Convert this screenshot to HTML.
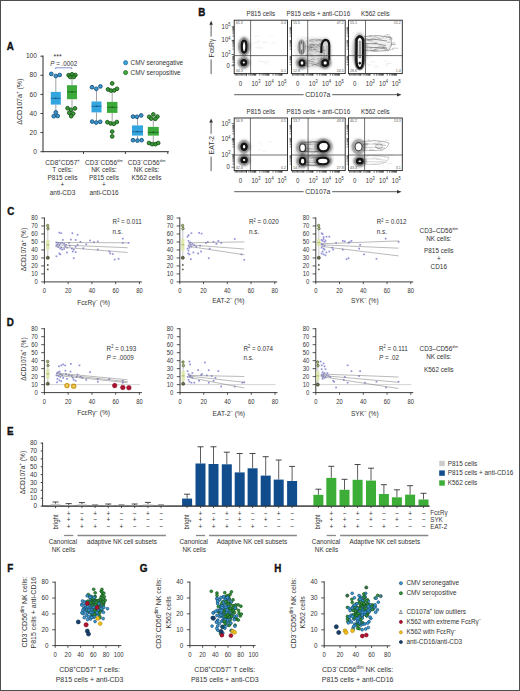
<!DOCTYPE html>
<html><head><meta charset="utf-8"><title>Figure</title>
<style>html,body{margin:0;padding:0;background:#fff;}svg{display:block;}
text{font-family:"Liberation Sans", sans-serif;}text[font-weight="bold"]{stroke:#111;stroke-width:0.35px;}</style></head>
<body><svg width="520" height="691" viewBox="0 0 520 691">
<defs><filter id="bl2" x="-50%" y="-50%" width="200%" height="200%"><feGaussianBlur stdDeviation="1.3"/></filter><filter id="bl1" x="-50%" y="-50%" width="200%" height="200%"><feGaussianBlur stdDeviation="0.6"/></filter></defs>
<rect x="0.50" y="0.50" width="519.00" height="690.00" fill="#ffffff" stroke="#4d4d4d" stroke-width="1" />
<text transform="translate(6.80 50.40) scale(1 1.12) translate(-6.80 -50.40)" x="6.80" y="50.40" font-size="9.8" font-weight="bold" fill="#111">A</text>
<line x1="43.00" y1="55.50" x2="43.00" y2="152.20" stroke="#2b2b2b" stroke-width="1.0" />
<line x1="40.40" y1="151.70" x2="43.00" y2="151.70" stroke="#2b2b2b" stroke-width="0.9" />
<text transform="translate(36.90 153.90) scale(1 1.12) translate(-36.90 -153.90)" x="36.90" y="153.90" font-size="6.6" text-anchor="end" fill="#333">0</text>
<line x1="40.40" y1="132.60" x2="43.00" y2="132.60" stroke="#2b2b2b" stroke-width="0.9" />
<text transform="translate(36.90 134.80) scale(1 1.12) translate(-36.90 -134.80)" x="36.90" y="134.80" font-size="6.6" text-anchor="end" fill="#333">20</text>
<line x1="40.40" y1="113.50" x2="43.00" y2="113.50" stroke="#2b2b2b" stroke-width="0.9" />
<text transform="translate(36.90 115.70) scale(1 1.12) translate(-36.90 -115.70)" x="36.90" y="115.70" font-size="6.6" text-anchor="end" fill="#333">40</text>
<line x1="40.40" y1="94.40" x2="43.00" y2="94.40" stroke="#2b2b2b" stroke-width="0.9" />
<text transform="translate(36.90 96.60) scale(1 1.12) translate(-36.90 -96.60)" x="36.90" y="96.60" font-size="6.6" text-anchor="end" fill="#333">60</text>
<line x1="40.40" y1="75.30" x2="43.00" y2="75.30" stroke="#2b2b2b" stroke-width="0.9" />
<text transform="translate(36.90 77.50) scale(1 1.12) translate(-36.90 -77.50)" x="36.90" y="77.50" font-size="6.6" text-anchor="end" fill="#333">80</text>
<line x1="40.40" y1="56.20" x2="43.00" y2="56.20" stroke="#2b2b2b" stroke-width="0.9" />
<text transform="translate(36.90 58.40) scale(1 1.12) translate(-36.90 -58.40)" x="36.90" y="58.40" font-size="6.6" text-anchor="end" fill="#333">100</text>
<line x1="43.00" y1="151.70" x2="168.80" y2="151.70" stroke="#2b2b2b" stroke-width="1.0" />
<line x1="83.50" y1="151.70" x2="83.50" y2="154.00" stroke="#2b2b2b" stroke-width="0.9" />
<line x1="125.40" y1="151.70" x2="125.40" y2="154.00" stroke="#2b2b2b" stroke-width="0.9" />
<line x1="167.80" y1="151.70" x2="167.80" y2="154.00" stroke="#2b2b2b" stroke-width="0.9" />
<line x1="55.80" y1="78.00" x2="55.80" y2="91.90" stroke="#8a8a8a" stroke-width="0.8" />
<line x1="55.80" y1="104.60" x2="55.80" y2="111.00" stroke="#8a8a8a" stroke-width="0.8" />
<rect x="50.80" y="91.90" width="10.00" height="12.70" fill="#34a6df" />
<line x1="50.80" y1="98.30" x2="60.80" y2="98.30" stroke="#17507e" stroke-width="0.7" />
<circle cx="55.80" cy="98.30" r="0.8" fill="#17507e" />
<circle cx="51.30" cy="73.90" r="1.85" fill="#3a98cc" stroke="#17507e" stroke-width="0.9" />
<circle cx="55.80" cy="76.00" r="1.85" fill="#3a98cc" stroke="#17507e" stroke-width="0.9" />
<circle cx="59.70" cy="75.00" r="1.85" fill="#3a98cc" stroke="#17507e" stroke-width="0.9" />
<circle cx="55.80" cy="112.40" r="1.85" fill="#3a98cc" stroke="#17507e" stroke-width="0.9" />
<circle cx="53.80" cy="116.20" r="1.85" fill="#3a98cc" stroke="#17507e" stroke-width="0.9" />
<circle cx="57.70" cy="116.00" r="1.85" fill="#3a98cc" stroke="#17507e" stroke-width="0.9" />
<line x1="72.00" y1="77.00" x2="72.00" y2="85.20" stroke="#8a8a8a" stroke-width="0.8" />
<line x1="72.00" y1="99.20" x2="72.00" y2="108.00" stroke="#8a8a8a" stroke-width="0.8" />
<rect x="67.00" y="85.20" width="10.00" height="14.00" fill="#3caa3a" />
<line x1="67.00" y1="91.90" x2="77.00" y2="91.90" stroke="#1a531a" stroke-width="0.7" />
<circle cx="72.00" cy="91.90" r="0.8" fill="#1a531a" />
<circle cx="68.60" cy="75.20" r="1.85" fill="#3a9c38" stroke="#1a531a" stroke-width="0.9" />
<circle cx="72.00" cy="74.30" r="1.85" fill="#3a9c38" stroke="#1a531a" stroke-width="0.9" />
<circle cx="75.40" cy="75.00" r="1.85" fill="#3a9c38" stroke="#1a531a" stroke-width="0.9" />
<circle cx="70.30" cy="77.00" r="1.85" fill="#3a9c38" stroke="#1a531a" stroke-width="0.9" />
<circle cx="73.80" cy="77.00" r="1.85" fill="#3a9c38" stroke="#1a531a" stroke-width="0.9" />
<circle cx="67.60" cy="108.20" r="1.85" fill="#3a9c38" stroke="#1a531a" stroke-width="0.9" />
<circle cx="71.00" cy="109.80" r="1.85" fill="#3a9c38" stroke="#1a531a" stroke-width="0.9" />
<circle cx="75.00" cy="108.40" r="1.85" fill="#3a9c38" stroke="#1a531a" stroke-width="0.9" />
<circle cx="69.20" cy="112.80" r="1.85" fill="#3a9c38" stroke="#1a531a" stroke-width="0.9" />
<circle cx="73.20" cy="113.60" r="1.85" fill="#3a9c38" stroke="#1a531a" stroke-width="0.9" />
<circle cx="71.20" cy="116.20" r="1.85" fill="#3a9c38" stroke="#1a531a" stroke-width="0.9" />
<line x1="96.50" y1="88.60" x2="96.50" y2="101.50" stroke="#8a8a8a" stroke-width="0.8" />
<line x1="96.50" y1="112.40" x2="96.50" y2="121.00" stroke="#8a8a8a" stroke-width="0.8" />
<rect x="91.50" y="101.50" width="10.00" height="10.90" fill="#34a6df" />
<line x1="91.50" y1="106.30" x2="101.50" y2="106.30" stroke="#17507e" stroke-width="0.7" />
<circle cx="96.50" cy="106.30" r="0.8" fill="#17507e" />
<circle cx="92.00" cy="87.20" r="1.85" fill="#3a98cc" stroke="#17507e" stroke-width="0.9" />
<circle cx="96.30" cy="88.80" r="1.85" fill="#3a98cc" stroke="#17507e" stroke-width="0.9" />
<circle cx="100.40" cy="86.40" r="1.85" fill="#3a98cc" stroke="#17507e" stroke-width="0.9" />
<circle cx="92.20" cy="121.60" r="1.85" fill="#3a98cc" stroke="#17507e" stroke-width="0.9" />
<circle cx="96.20" cy="122.60" r="1.85" fill="#3a98cc" stroke="#17507e" stroke-width="0.9" />
<circle cx="100.20" cy="121.80" r="1.85" fill="#3a98cc" stroke="#17507e" stroke-width="0.9" />
<line x1="112.20" y1="89.40" x2="112.20" y2="101.90" stroke="#8a8a8a" stroke-width="0.8" />
<line x1="112.20" y1="112.90" x2="112.20" y2="121.80" stroke="#8a8a8a" stroke-width="0.8" />
<rect x="106.95" y="101.90" width="10.50" height="11.00" fill="#3caa3a" />
<line x1="106.95" y1="107.30" x2="117.45" y2="107.30" stroke="#1a531a" stroke-width="0.7" />
<circle cx="112.20" cy="107.30" r="0.8" fill="#1a531a" />
<circle cx="112.20" cy="83.40" r="1.85" fill="#3a9c38" stroke="#1a531a" stroke-width="0.9" />
<circle cx="108.00" cy="89.40" r="1.85" fill="#3a9c38" stroke="#1a531a" stroke-width="0.9" />
<circle cx="111.00" cy="90.60" r="1.85" fill="#3a9c38" stroke="#1a531a" stroke-width="0.9" />
<circle cx="114.20" cy="90.40" r="1.85" fill="#3a9c38" stroke="#1a531a" stroke-width="0.9" />
<circle cx="117.00" cy="88.80" r="1.85" fill="#3a9c38" stroke="#1a531a" stroke-width="0.9" />
<circle cx="107.40" cy="122.20" r="1.85" fill="#3a9c38" stroke="#1a531a" stroke-width="0.9" />
<circle cx="110.60" cy="123.40" r="1.85" fill="#3a9c38" stroke="#1a531a" stroke-width="0.9" />
<circle cx="113.80" cy="123.80" r="1.85" fill="#3a9c38" stroke="#1a531a" stroke-width="0.9" />
<circle cx="116.80" cy="122.00" r="1.85" fill="#3a9c38" stroke="#1a531a" stroke-width="0.9" />
<circle cx="112.20" cy="131.60" r="1.85" fill="#3a9c38" stroke="#1a531a" stroke-width="0.9" />
<circle cx="112.20" cy="136.40" r="1.85" fill="#3a9c38" stroke="#1a531a" stroke-width="0.9" />
<line x1="137.50" y1="117.20" x2="137.50" y2="125.40" stroke="#8a8a8a" stroke-width="0.8" />
<line x1="137.50" y1="135.60" x2="137.50" y2="140.00" stroke="#8a8a8a" stroke-width="0.8" />
<rect x="132.00" y="125.40" width="11.00" height="10.20" fill="#34a6df" />
<line x1="132.00" y1="131.70" x2="143.00" y2="131.70" stroke="#17507e" stroke-width="0.7" />
<circle cx="137.50" cy="131.70" r="0.8" fill="#17507e" />
<circle cx="133.00" cy="116.60" r="1.85" fill="#3a98cc" stroke="#17507e" stroke-width="0.9" />
<circle cx="137.00" cy="116.80" r="1.85" fill="#3a98cc" stroke="#17507e" stroke-width="0.9" />
<circle cx="141.20" cy="115.40" r="1.85" fill="#3a98cc" stroke="#17507e" stroke-width="0.9" />
<circle cx="133.00" cy="140.20" r="1.85" fill="#3a98cc" stroke="#17507e" stroke-width="0.9" />
<circle cx="137.40" cy="140.60" r="1.85" fill="#3a98cc" stroke="#17507e" stroke-width="0.9" />
<circle cx="141.60" cy="140.20" r="1.85" fill="#3a98cc" stroke="#17507e" stroke-width="0.9" />
<line x1="153.30" y1="118.00" x2="153.30" y2="126.90" stroke="#8a8a8a" stroke-width="0.8" />
<line x1="153.30" y1="135.60" x2="153.30" y2="143.00" stroke="#8a8a8a" stroke-width="0.8" />
<rect x="147.80" y="126.90" width="11.00" height="8.70" fill="#3caa3a" />
<line x1="147.80" y1="132.30" x2="158.80" y2="132.30" stroke="#1a531a" stroke-width="0.7" />
<circle cx="153.30" cy="132.30" r="0.8" fill="#1a531a" />
<circle cx="153.30" cy="114.40" r="1.85" fill="#3a9c38" stroke="#1a531a" stroke-width="0.9" />
<circle cx="149.20" cy="116.80" r="1.85" fill="#3a9c38" stroke="#1a531a" stroke-width="0.9" />
<circle cx="157.40" cy="116.60" r="1.85" fill="#3a9c38" stroke="#1a531a" stroke-width="0.9" />
<circle cx="151.20" cy="118.60" r="1.85" fill="#3a9c38" stroke="#1a531a" stroke-width="0.9" />
<circle cx="155.40" cy="118.80" r="1.85" fill="#3a9c38" stroke="#1a531a" stroke-width="0.9" />
<circle cx="149.00" cy="143.00" r="1.85" fill="#3a9c38" stroke="#1a531a" stroke-width="0.9" />
<circle cx="152.20" cy="144.20" r="1.85" fill="#3a9c38" stroke="#1a531a" stroke-width="0.9" />
<circle cx="155.40" cy="144.20" r="1.85" fill="#3a9c38" stroke="#1a531a" stroke-width="0.9" />
<circle cx="158.20" cy="143.00" r="1.85" fill="#3a9c38" stroke="#1a531a" stroke-width="0.9" />
<text transform="translate(57.60 59.40) scale(1 1.12) translate(-57.60 -59.40)" x="57.60" y="59.40" font-size="7.0" text-anchor="middle" fill="#333">***</text>
<text transform="translate(63.80 66.00) scale(1 1.12) translate(-63.80 -66.00)" x="63.8" y="66.0" font-size="6.3" text-anchor="middle" fill="#333"><tspan font-style="italic">P</tspan> = .0002</text>
<path d="M55.6 69.0 V67.8 H71.8 V69.0" fill="none" stroke="#5563a8" stroke-width="0.7"/>
<circle cx="125.60" cy="62.70" r="2.1" fill="#34a6df" stroke="#17507e" stroke-width="0.6" />
<text transform="translate(130.60 65.00) scale(1 1.12) translate(-130.60 -65.00)" x="130.60" y="65.00" font-size="6.4" fill="#333">CMV seronegative</text>
<circle cx="125.60" cy="72.60" r="2.1" fill="#3caa3a" stroke="#1a531a" stroke-width="0.6" />
<text transform="translate(130.60 74.90) scale(1 1.12) translate(-130.60 -74.90)" x="130.60" y="74.90" font-size="6.4" fill="#333">CMV seropositive</text>
<text transform="translate(62.50 164.90) scale(1 1.12) translate(-62.50 -164.90)" x="62.5" y="164.90" font-size="6.5" text-anchor="middle" fill="#333">CD8<tspan font-size="4" dy="-2.3">+</tspan><tspan dy="2.3">CD57</tspan><tspan font-size="4" dy="-2.3">+</tspan></text>
<text transform="translate(62.50 172.40) scale(1 1.12) translate(-62.50 -172.40)" x="62.5" y="172.40" font-size="6.5" text-anchor="middle" fill="#333">T cells:</text>
<text transform="translate(62.50 179.90) scale(1 1.12) translate(-62.50 -179.90)" x="62.5" y="179.90" font-size="6.5" text-anchor="middle" fill="#333">P815 cells</text>
<text transform="translate(62.50 187.40) scale(1 1.12) translate(-62.50 -187.40)" x="62.5" y="187.40" font-size="6.5" text-anchor="middle" fill="#333">+</text>
<text transform="translate(62.50 194.90) scale(1 1.12) translate(-62.50 -194.90)" x="62.5" y="194.90" font-size="6.5" text-anchor="middle" fill="#333">anti-CD3</text>
<text transform="translate(104.00 164.90) scale(1 1.12) translate(-104.00 -164.90)" x="104.0" y="164.90" font-size="6.5" text-anchor="middle" fill="#333">CD3<tspan font-size="4" dy="-2.3">−</tspan><tspan dy="2.3">CD56</tspan><tspan font-size="3.6" dy="-2.3">dim</tspan></text>
<text transform="translate(104.00 172.40) scale(1 1.12) translate(-104.00 -172.40)" x="104.0" y="172.40" font-size="6.5" text-anchor="middle" fill="#333">NK cells:</text>
<text transform="translate(104.00 179.90) scale(1 1.12) translate(-104.00 -179.90)" x="104.0" y="179.90" font-size="6.5" text-anchor="middle" fill="#333">P815 cells</text>
<text transform="translate(104.00 187.40) scale(1 1.12) translate(-104.00 -187.40)" x="104.0" y="187.40" font-size="6.5" text-anchor="middle" fill="#333">+</text>
<text transform="translate(104.00 194.90) scale(1 1.12) translate(-104.00 -194.90)" x="104.0" y="194.90" font-size="6.5" text-anchor="middle" fill="#333">anti-CD16</text>
<text transform="translate(146.60 164.90) scale(1 1.12) translate(-146.60 -164.90)" x="146.6" y="164.90" font-size="6.5" text-anchor="middle" fill="#333">CD3<tspan font-size="4" dy="-2.3">−</tspan><tspan dy="2.3">CD56</tspan><tspan font-size="3.6" dy="-2.3">dim</tspan></text>
<text transform="translate(146.60 172.40) scale(1 1.12) translate(-146.60 -172.40)" x="146.6" y="172.40" font-size="6.5" text-anchor="middle" fill="#333">NK cells:</text>
<text transform="translate(146.60 179.90) scale(1 1.12) translate(-146.60 -179.90)" x="146.6" y="179.90" font-size="6.5" text-anchor="middle" fill="#333">K562 cells</text>
<text x="21.8" y="101.6" font-size="7.1" text-anchor="middle" fill="#333" transform="rotate(-90 21.8 101.6) translate(21.80 101.60) scale(1 1.12) translate(-21.80 -101.60)">ΔCD107a<tspan font-size="4.4" dy="-2.4">+</tspan><tspan dy="2.4"> (%)</tspan></text>
<text transform="translate(198.20 15.60) scale(1 1.12) translate(-198.20 -15.60)" x="198.20" y="15.60" font-size="9.8" font-weight="bold" fill="#111">B</text>
<text transform="translate(260.85 15.80) scale(1 1.12) translate(-260.85 -15.80)" x="260.85" y="15.80" font-size="6.2" text-anchor="middle" fill="#333">P815 cells</text>
<line x1="235.20" y1="73.60" x2="235.20" y2="75.60" stroke="#111" stroke-width="0.6" />
<line x1="236.45" y1="73.60" x2="236.45" y2="75.60" stroke="#111" stroke-width="0.6" />
<line x1="237.70" y1="73.60" x2="237.70" y2="75.60" stroke="#111" stroke-width="0.6" />
<line x1="238.95" y1="73.60" x2="238.95" y2="75.60" stroke="#111" stroke-width="0.6" />
<line x1="240.20" y1="73.60" x2="240.20" y2="75.60" stroke="#111" stroke-width="0.6" />
<line x1="241.45" y1="73.60" x2="241.45" y2="75.60" stroke="#111" stroke-width="0.6" />
<line x1="242.70" y1="73.60" x2="242.70" y2="75.60" stroke="#111" stroke-width="0.6" />
<line x1="243.95" y1="73.60" x2="243.95" y2="75.60" stroke="#111" stroke-width="0.6" />
<line x1="245.20" y1="73.60" x2="245.20" y2="75.60" stroke="#111" stroke-width="0.6" />
<line x1="246.45" y1="73.60" x2="246.45" y2="75.60" stroke="#111" stroke-width="0.6" />
<line x1="246.57" y1="73.60" x2="246.57" y2="75.60" stroke="#111" stroke-width="0.6" />
<line x1="248.90" y1="73.60" x2="248.90" y2="75.60" stroke="#111" stroke-width="0.6" />
<line x1="250.55" y1="73.60" x2="250.55" y2="75.60" stroke="#111" stroke-width="0.6" />
<line x1="251.83" y1="73.60" x2="251.83" y2="75.60" stroke="#111" stroke-width="0.6" />
<line x1="252.87" y1="73.60" x2="252.87" y2="75.60" stroke="#111" stroke-width="0.6" />
<line x1="253.76" y1="73.60" x2="253.76" y2="75.60" stroke="#111" stroke-width="0.6" />
<line x1="254.52" y1="73.60" x2="254.52" y2="75.60" stroke="#111" stroke-width="0.6" />
<line x1="255.20" y1="73.60" x2="255.20" y2="75.60" stroke="#111" stroke-width="0.6" />
<line x1="259.77" y1="73.60" x2="259.77" y2="75.60" stroke="#111" stroke-width="0.6" />
<line x1="262.10" y1="73.60" x2="262.10" y2="75.60" stroke="#111" stroke-width="0.6" />
<line x1="263.75" y1="73.60" x2="263.75" y2="75.60" stroke="#111" stroke-width="0.6" />
<line x1="265.03" y1="73.60" x2="265.03" y2="75.60" stroke="#111" stroke-width="0.6" />
<line x1="266.07" y1="73.60" x2="266.07" y2="75.60" stroke="#111" stroke-width="0.6" />
<line x1="266.96" y1="73.60" x2="266.96" y2="75.60" stroke="#111" stroke-width="0.6" />
<line x1="267.72" y1="73.60" x2="267.72" y2="75.60" stroke="#111" stroke-width="0.6" />
<line x1="268.40" y1="73.60" x2="268.40" y2="75.60" stroke="#111" stroke-width="0.6" />
<line x1="272.97" y1="73.60" x2="272.97" y2="75.60" stroke="#111" stroke-width="0.6" />
<line x1="275.30" y1="73.60" x2="275.30" y2="75.60" stroke="#111" stroke-width="0.6" />
<line x1="276.95" y1="73.60" x2="276.95" y2="75.60" stroke="#111" stroke-width="0.6" />
<line x1="278.23" y1="73.60" x2="278.23" y2="75.60" stroke="#111" stroke-width="0.6" />
<line x1="279.27" y1="73.60" x2="279.27" y2="75.60" stroke="#111" stroke-width="0.6" />
<line x1="280.16" y1="73.60" x2="280.16" y2="75.60" stroke="#111" stroke-width="0.6" />
<line x1="280.92" y1="73.60" x2="280.92" y2="75.60" stroke="#111" stroke-width="0.6" />
<line x1="281.60" y1="73.60" x2="281.60" y2="75.60" stroke="#111" stroke-width="0.6" />
<line x1="255.80" y1="73.60" x2="255.80" y2="75.60" stroke="#111" stroke-width="0.6" />
<line x1="269.00" y1="73.60" x2="269.00" y2="75.60" stroke="#111" stroke-width="0.6" />
<line x1="282.00" y1="73.60" x2="282.00" y2="75.60" stroke="#111" stroke-width="0.6" />
<line x1="232.40" y1="36.09" x2="234.20" y2="36.09" stroke="#111" stroke-width="0.55" />
<line x1="232.40" y1="33.80" x2="234.20" y2="33.80" stroke="#111" stroke-width="0.55" />
<line x1="232.40" y1="32.17" x2="234.20" y2="32.17" stroke="#111" stroke-width="0.55" />
<line x1="232.40" y1="30.91" x2="234.20" y2="30.91" stroke="#111" stroke-width="0.55" />
<line x1="232.40" y1="29.88" x2="234.20" y2="29.88" stroke="#111" stroke-width="0.55" />
<line x1="232.40" y1="29.01" x2="234.20" y2="29.01" stroke="#111" stroke-width="0.55" />
<line x1="232.40" y1="28.26" x2="234.20" y2="28.26" stroke="#111" stroke-width="0.55" />
<line x1="232.40" y1="27.59" x2="234.20" y2="27.59" stroke="#111" stroke-width="0.55" />
<line x1="232.40" y1="49.09" x2="234.20" y2="49.09" stroke="#111" stroke-width="0.55" />
<line x1="232.40" y1="46.80" x2="234.20" y2="46.80" stroke="#111" stroke-width="0.55" />
<line x1="232.40" y1="45.17" x2="234.20" y2="45.17" stroke="#111" stroke-width="0.55" />
<line x1="232.40" y1="43.91" x2="234.20" y2="43.91" stroke="#111" stroke-width="0.55" />
<line x1="232.40" y1="42.88" x2="234.20" y2="42.88" stroke="#111" stroke-width="0.55" />
<line x1="232.40" y1="42.01" x2="234.20" y2="42.01" stroke="#111" stroke-width="0.55" />
<line x1="232.40" y1="41.26" x2="234.20" y2="41.26" stroke="#111" stroke-width="0.55" />
<line x1="232.40" y1="40.59" x2="234.20" y2="40.59" stroke="#111" stroke-width="0.55" />
<line x1="232.40" y1="64.69" x2="234.20" y2="64.69" stroke="#111" stroke-width="0.55" />
<line x1="232.40" y1="62.40" x2="234.20" y2="62.40" stroke="#111" stroke-width="0.55" />
<line x1="232.40" y1="60.77" x2="234.20" y2="60.77" stroke="#111" stroke-width="0.55" />
<line x1="232.40" y1="59.51" x2="234.20" y2="59.51" stroke="#111" stroke-width="0.55" />
<line x1="232.40" y1="58.48" x2="234.20" y2="58.48" stroke="#111" stroke-width="0.55" />
<line x1="232.40" y1="57.61" x2="234.20" y2="57.61" stroke="#111" stroke-width="0.55" />
<line x1="232.40" y1="56.86" x2="234.20" y2="56.86" stroke="#111" stroke-width="0.55" />
<line x1="232.40" y1="56.19" x2="234.20" y2="56.19" stroke="#111" stroke-width="0.55" />
<text transform="translate(240.50 85.60) scale(1 1.12) translate(-240.50 -85.60)" x="240.50" y="85.60" font-size="6.0" text-anchor="middle" fill="#333">0</text>
<text transform="translate(256.00 85.60) scale(1 1.12) translate(-256.00 -85.60)" x="256.00" y="85.60" font-size="6.0" text-anchor="middle" fill="#333">10<tspan font-size="4.0" dy="-2.6">3</tspan></text>
<text transform="translate(269.20 85.60) scale(1 1.12) translate(-269.20 -85.60)" x="269.20" y="85.60" font-size="6.0" text-anchor="middle" fill="#333">10<tspan font-size="4.0" dy="-2.6">4</tspan></text>
<text transform="translate(282.00 85.60) scale(1 1.12) translate(-282.00 -85.60)" x="282.00" y="85.60" font-size="6.0" text-anchor="middle" fill="#333">10<tspan font-size="4.0" dy="-2.6">5</tspan></text>
<text transform="translate(318.35 15.80) scale(1 1.12) translate(-318.35 -15.80)" x="318.35" y="15.80" font-size="6.2" text-anchor="middle" fill="#333">P815 cells + anti-CD16</text>
<line x1="292.50" y1="73.60" x2="292.50" y2="75.60" stroke="#111" stroke-width="0.6" />
<line x1="293.75" y1="73.60" x2="293.75" y2="75.60" stroke="#111" stroke-width="0.6" />
<line x1="295.00" y1="73.60" x2="295.00" y2="75.60" stroke="#111" stroke-width="0.6" />
<line x1="296.25" y1="73.60" x2="296.25" y2="75.60" stroke="#111" stroke-width="0.6" />
<line x1="297.50" y1="73.60" x2="297.50" y2="75.60" stroke="#111" stroke-width="0.6" />
<line x1="298.75" y1="73.60" x2="298.75" y2="75.60" stroke="#111" stroke-width="0.6" />
<line x1="300.00" y1="73.60" x2="300.00" y2="75.60" stroke="#111" stroke-width="0.6" />
<line x1="301.25" y1="73.60" x2="301.25" y2="75.60" stroke="#111" stroke-width="0.6" />
<line x1="302.50" y1="73.60" x2="302.50" y2="75.60" stroke="#111" stroke-width="0.6" />
<line x1="303.75" y1="73.60" x2="303.75" y2="75.60" stroke="#111" stroke-width="0.6" />
<line x1="303.87" y1="73.60" x2="303.87" y2="75.60" stroke="#111" stroke-width="0.6" />
<line x1="306.20" y1="73.60" x2="306.20" y2="75.60" stroke="#111" stroke-width="0.6" />
<line x1="307.85" y1="73.60" x2="307.85" y2="75.60" stroke="#111" stroke-width="0.6" />
<line x1="309.13" y1="73.60" x2="309.13" y2="75.60" stroke="#111" stroke-width="0.6" />
<line x1="310.17" y1="73.60" x2="310.17" y2="75.60" stroke="#111" stroke-width="0.6" />
<line x1="311.06" y1="73.60" x2="311.06" y2="75.60" stroke="#111" stroke-width="0.6" />
<line x1="311.82" y1="73.60" x2="311.82" y2="75.60" stroke="#111" stroke-width="0.6" />
<line x1="312.50" y1="73.60" x2="312.50" y2="75.60" stroke="#111" stroke-width="0.6" />
<line x1="317.07" y1="73.60" x2="317.07" y2="75.60" stroke="#111" stroke-width="0.6" />
<line x1="319.40" y1="73.60" x2="319.40" y2="75.60" stroke="#111" stroke-width="0.6" />
<line x1="321.05" y1="73.60" x2="321.05" y2="75.60" stroke="#111" stroke-width="0.6" />
<line x1="322.33" y1="73.60" x2="322.33" y2="75.60" stroke="#111" stroke-width="0.6" />
<line x1="323.37" y1="73.60" x2="323.37" y2="75.60" stroke="#111" stroke-width="0.6" />
<line x1="324.26" y1="73.60" x2="324.26" y2="75.60" stroke="#111" stroke-width="0.6" />
<line x1="325.02" y1="73.60" x2="325.02" y2="75.60" stroke="#111" stroke-width="0.6" />
<line x1="325.70" y1="73.60" x2="325.70" y2="75.60" stroke="#111" stroke-width="0.6" />
<line x1="330.27" y1="73.60" x2="330.27" y2="75.60" stroke="#111" stroke-width="0.6" />
<line x1="332.60" y1="73.60" x2="332.60" y2="75.60" stroke="#111" stroke-width="0.6" />
<line x1="334.25" y1="73.60" x2="334.25" y2="75.60" stroke="#111" stroke-width="0.6" />
<line x1="335.53" y1="73.60" x2="335.53" y2="75.60" stroke="#111" stroke-width="0.6" />
<line x1="336.57" y1="73.60" x2="336.57" y2="75.60" stroke="#111" stroke-width="0.6" />
<line x1="337.46" y1="73.60" x2="337.46" y2="75.60" stroke="#111" stroke-width="0.6" />
<line x1="338.22" y1="73.60" x2="338.22" y2="75.60" stroke="#111" stroke-width="0.6" />
<line x1="338.90" y1="73.60" x2="338.90" y2="75.60" stroke="#111" stroke-width="0.6" />
<line x1="313.10" y1="73.60" x2="313.10" y2="75.60" stroke="#111" stroke-width="0.6" />
<line x1="326.30" y1="73.60" x2="326.30" y2="75.60" stroke="#111" stroke-width="0.6" />
<line x1="339.30" y1="73.60" x2="339.30" y2="75.60" stroke="#111" stroke-width="0.6" />
<line x1="289.70" y1="36.09" x2="291.50" y2="36.09" stroke="#111" stroke-width="0.55" />
<line x1="289.70" y1="33.80" x2="291.50" y2="33.80" stroke="#111" stroke-width="0.55" />
<line x1="289.70" y1="32.17" x2="291.50" y2="32.17" stroke="#111" stroke-width="0.55" />
<line x1="289.70" y1="30.91" x2="291.50" y2="30.91" stroke="#111" stroke-width="0.55" />
<line x1="289.70" y1="29.88" x2="291.50" y2="29.88" stroke="#111" stroke-width="0.55" />
<line x1="289.70" y1="29.01" x2="291.50" y2="29.01" stroke="#111" stroke-width="0.55" />
<line x1="289.70" y1="28.26" x2="291.50" y2="28.26" stroke="#111" stroke-width="0.55" />
<line x1="289.70" y1="27.59" x2="291.50" y2="27.59" stroke="#111" stroke-width="0.55" />
<line x1="289.70" y1="49.09" x2="291.50" y2="49.09" stroke="#111" stroke-width="0.55" />
<line x1="289.70" y1="46.80" x2="291.50" y2="46.80" stroke="#111" stroke-width="0.55" />
<line x1="289.70" y1="45.17" x2="291.50" y2="45.17" stroke="#111" stroke-width="0.55" />
<line x1="289.70" y1="43.91" x2="291.50" y2="43.91" stroke="#111" stroke-width="0.55" />
<line x1="289.70" y1="42.88" x2="291.50" y2="42.88" stroke="#111" stroke-width="0.55" />
<line x1="289.70" y1="42.01" x2="291.50" y2="42.01" stroke="#111" stroke-width="0.55" />
<line x1="289.70" y1="41.26" x2="291.50" y2="41.26" stroke="#111" stroke-width="0.55" />
<line x1="289.70" y1="40.59" x2="291.50" y2="40.59" stroke="#111" stroke-width="0.55" />
<line x1="289.70" y1="64.69" x2="291.50" y2="64.69" stroke="#111" stroke-width="0.55" />
<line x1="289.70" y1="62.40" x2="291.50" y2="62.40" stroke="#111" stroke-width="0.55" />
<line x1="289.70" y1="60.77" x2="291.50" y2="60.77" stroke="#111" stroke-width="0.55" />
<line x1="289.70" y1="59.51" x2="291.50" y2="59.51" stroke="#111" stroke-width="0.55" />
<line x1="289.70" y1="58.48" x2="291.50" y2="58.48" stroke="#111" stroke-width="0.55" />
<line x1="289.70" y1="57.61" x2="291.50" y2="57.61" stroke="#111" stroke-width="0.55" />
<line x1="289.70" y1="56.86" x2="291.50" y2="56.86" stroke="#111" stroke-width="0.55" />
<line x1="289.70" y1="56.19" x2="291.50" y2="56.19" stroke="#111" stroke-width="0.55" />
<text transform="translate(297.80 85.60) scale(1 1.12) translate(-297.80 -85.60)" x="297.80" y="85.60" font-size="6.0" text-anchor="middle" fill="#333">0</text>
<text transform="translate(313.30 85.60) scale(1 1.12) translate(-313.30 -85.60)" x="313.30" y="85.60" font-size="6.0" text-anchor="middle" fill="#333">10<tspan font-size="4.0" dy="-2.6">3</tspan></text>
<text transform="translate(326.50 85.60) scale(1 1.12) translate(-326.50 -85.60)" x="326.50" y="85.60" font-size="6.0" text-anchor="middle" fill="#333">10<tspan font-size="4.0" dy="-2.6">4</tspan></text>
<text transform="translate(339.30 85.60) scale(1 1.12) translate(-339.30 -85.60)" x="339.30" y="85.60" font-size="6.0" text-anchor="middle" fill="#333">10<tspan font-size="4.0" dy="-2.6">5</tspan></text>
<text transform="translate(375.40 15.80) scale(1 1.12) translate(-375.40 -15.80)" x="375.40" y="15.80" font-size="6.2" text-anchor="middle" fill="#333">K562 cells</text>
<line x1="349.50" y1="73.60" x2="349.50" y2="75.60" stroke="#111" stroke-width="0.6" />
<line x1="350.75" y1="73.60" x2="350.75" y2="75.60" stroke="#111" stroke-width="0.6" />
<line x1="352.00" y1="73.60" x2="352.00" y2="75.60" stroke="#111" stroke-width="0.6" />
<line x1="353.25" y1="73.60" x2="353.25" y2="75.60" stroke="#111" stroke-width="0.6" />
<line x1="354.50" y1="73.60" x2="354.50" y2="75.60" stroke="#111" stroke-width="0.6" />
<line x1="355.75" y1="73.60" x2="355.75" y2="75.60" stroke="#111" stroke-width="0.6" />
<line x1="357.00" y1="73.60" x2="357.00" y2="75.60" stroke="#111" stroke-width="0.6" />
<line x1="358.25" y1="73.60" x2="358.25" y2="75.60" stroke="#111" stroke-width="0.6" />
<line x1="359.50" y1="73.60" x2="359.50" y2="75.60" stroke="#111" stroke-width="0.6" />
<line x1="360.75" y1="73.60" x2="360.75" y2="75.60" stroke="#111" stroke-width="0.6" />
<line x1="360.87" y1="73.60" x2="360.87" y2="75.60" stroke="#111" stroke-width="0.6" />
<line x1="363.20" y1="73.60" x2="363.20" y2="75.60" stroke="#111" stroke-width="0.6" />
<line x1="364.85" y1="73.60" x2="364.85" y2="75.60" stroke="#111" stroke-width="0.6" />
<line x1="366.13" y1="73.60" x2="366.13" y2="75.60" stroke="#111" stroke-width="0.6" />
<line x1="367.17" y1="73.60" x2="367.17" y2="75.60" stroke="#111" stroke-width="0.6" />
<line x1="368.06" y1="73.60" x2="368.06" y2="75.60" stroke="#111" stroke-width="0.6" />
<line x1="368.82" y1="73.60" x2="368.82" y2="75.60" stroke="#111" stroke-width="0.6" />
<line x1="369.50" y1="73.60" x2="369.50" y2="75.60" stroke="#111" stroke-width="0.6" />
<line x1="374.07" y1="73.60" x2="374.07" y2="75.60" stroke="#111" stroke-width="0.6" />
<line x1="376.40" y1="73.60" x2="376.40" y2="75.60" stroke="#111" stroke-width="0.6" />
<line x1="378.05" y1="73.60" x2="378.05" y2="75.60" stroke="#111" stroke-width="0.6" />
<line x1="379.33" y1="73.60" x2="379.33" y2="75.60" stroke="#111" stroke-width="0.6" />
<line x1="380.37" y1="73.60" x2="380.37" y2="75.60" stroke="#111" stroke-width="0.6" />
<line x1="381.26" y1="73.60" x2="381.26" y2="75.60" stroke="#111" stroke-width="0.6" />
<line x1="382.02" y1="73.60" x2="382.02" y2="75.60" stroke="#111" stroke-width="0.6" />
<line x1="382.70" y1="73.60" x2="382.70" y2="75.60" stroke="#111" stroke-width="0.6" />
<line x1="387.27" y1="73.60" x2="387.27" y2="75.60" stroke="#111" stroke-width="0.6" />
<line x1="389.60" y1="73.60" x2="389.60" y2="75.60" stroke="#111" stroke-width="0.6" />
<line x1="391.25" y1="73.60" x2="391.25" y2="75.60" stroke="#111" stroke-width="0.6" />
<line x1="392.53" y1="73.60" x2="392.53" y2="75.60" stroke="#111" stroke-width="0.6" />
<line x1="393.57" y1="73.60" x2="393.57" y2="75.60" stroke="#111" stroke-width="0.6" />
<line x1="394.46" y1="73.60" x2="394.46" y2="75.60" stroke="#111" stroke-width="0.6" />
<line x1="395.22" y1="73.60" x2="395.22" y2="75.60" stroke="#111" stroke-width="0.6" />
<line x1="395.90" y1="73.60" x2="395.90" y2="75.60" stroke="#111" stroke-width="0.6" />
<line x1="370.10" y1="73.60" x2="370.10" y2="75.60" stroke="#111" stroke-width="0.6" />
<line x1="383.30" y1="73.60" x2="383.30" y2="75.60" stroke="#111" stroke-width="0.6" />
<line x1="396.30" y1="73.60" x2="396.30" y2="75.60" stroke="#111" stroke-width="0.6" />
<line x1="346.70" y1="36.09" x2="348.50" y2="36.09" stroke="#111" stroke-width="0.55" />
<line x1="346.70" y1="33.80" x2="348.50" y2="33.80" stroke="#111" stroke-width="0.55" />
<line x1="346.70" y1="32.17" x2="348.50" y2="32.17" stroke="#111" stroke-width="0.55" />
<line x1="346.70" y1="30.91" x2="348.50" y2="30.91" stroke="#111" stroke-width="0.55" />
<line x1="346.70" y1="29.88" x2="348.50" y2="29.88" stroke="#111" stroke-width="0.55" />
<line x1="346.70" y1="29.01" x2="348.50" y2="29.01" stroke="#111" stroke-width="0.55" />
<line x1="346.70" y1="28.26" x2="348.50" y2="28.26" stroke="#111" stroke-width="0.55" />
<line x1="346.70" y1="27.59" x2="348.50" y2="27.59" stroke="#111" stroke-width="0.55" />
<line x1="346.70" y1="49.09" x2="348.50" y2="49.09" stroke="#111" stroke-width="0.55" />
<line x1="346.70" y1="46.80" x2="348.50" y2="46.80" stroke="#111" stroke-width="0.55" />
<line x1="346.70" y1="45.17" x2="348.50" y2="45.17" stroke="#111" stroke-width="0.55" />
<line x1="346.70" y1="43.91" x2="348.50" y2="43.91" stroke="#111" stroke-width="0.55" />
<line x1="346.70" y1="42.88" x2="348.50" y2="42.88" stroke="#111" stroke-width="0.55" />
<line x1="346.70" y1="42.01" x2="348.50" y2="42.01" stroke="#111" stroke-width="0.55" />
<line x1="346.70" y1="41.26" x2="348.50" y2="41.26" stroke="#111" stroke-width="0.55" />
<line x1="346.70" y1="40.59" x2="348.50" y2="40.59" stroke="#111" stroke-width="0.55" />
<line x1="346.70" y1="64.69" x2="348.50" y2="64.69" stroke="#111" stroke-width="0.55" />
<line x1="346.70" y1="62.40" x2="348.50" y2="62.40" stroke="#111" stroke-width="0.55" />
<line x1="346.70" y1="60.77" x2="348.50" y2="60.77" stroke="#111" stroke-width="0.55" />
<line x1="346.70" y1="59.51" x2="348.50" y2="59.51" stroke="#111" stroke-width="0.55" />
<line x1="346.70" y1="58.48" x2="348.50" y2="58.48" stroke="#111" stroke-width="0.55" />
<line x1="346.70" y1="57.61" x2="348.50" y2="57.61" stroke="#111" stroke-width="0.55" />
<line x1="346.70" y1="56.86" x2="348.50" y2="56.86" stroke="#111" stroke-width="0.55" />
<line x1="346.70" y1="56.19" x2="348.50" y2="56.19" stroke="#111" stroke-width="0.55" />
<text transform="translate(354.80 85.60) scale(1 1.12) translate(-354.80 -85.60)" x="354.80" y="85.60" font-size="6.0" text-anchor="middle" fill="#333">0</text>
<text transform="translate(370.30 85.60) scale(1 1.12) translate(-370.30 -85.60)" x="370.30" y="85.60" font-size="6.0" text-anchor="middle" fill="#333">10<tspan font-size="4.0" dy="-2.6">3</tspan></text>
<text transform="translate(383.50 85.60) scale(1 1.12) translate(-383.50 -85.60)" x="383.50" y="85.60" font-size="6.0" text-anchor="middle" fill="#333">10<tspan font-size="4.0" dy="-2.6">4</tspan></text>
<text transform="translate(396.30 85.60) scale(1 1.12) translate(-396.30 -85.60)" x="396.30" y="85.60" font-size="6.0" text-anchor="middle" fill="#333">10<tspan font-size="4.0" dy="-2.6">5</tspan></text>
<text transform="translate(226.00 28.80) scale(1 1.12) translate(-226.00 -28.80)" x="226.00" y="28.80" font-size="6.0" text-anchor="middle" fill="#333">10<tspan font-size="4.0" dy="-2.6">5</tspan></text>
<line x1="231.60" y1="26.70" x2="234.20" y2="26.70" stroke="#333" stroke-width="0.7" />
<text transform="translate(226.00 42.50) scale(1 1.12) translate(-226.00 -42.50)" x="226.00" y="42.50" font-size="6.0" text-anchor="middle" fill="#333">10<tspan font-size="4.0" dy="-2.6">4</tspan></text>
<line x1="231.60" y1="40.40" x2="234.20" y2="40.40" stroke="#333" stroke-width="0.7" />
<text transform="translate(226.00 56.60) scale(1 1.12) translate(-226.00 -56.60)" x="226.00" y="56.60" font-size="6.0" text-anchor="middle" fill="#333">10<tspan font-size="4.0" dy="-2.6">3</tspan></text>
<line x1="231.60" y1="54.50" x2="234.20" y2="54.50" stroke="#333" stroke-width="0.7" />
<text transform="translate(228.20 67.80) scale(1 1.12) translate(-228.20 -67.80)" x="228.20" y="67.80" font-size="6.0" text-anchor="middle" fill="#333">0</text>
<line x1="231.60" y1="65.70" x2="234.20" y2="65.70" stroke="#333" stroke-width="0.7" />
<text x="213.70" y="48.00" font-size="6.8" text-anchor="middle" fill="#333" transform="rotate(-90 213.70 48.00) translate(213.70 48.00) scale(1 1.12) translate(-213.70 -48.00)">FcεRγ</text>
<line x1="211.10" y1="59.40" x2="211.10" y2="74.10" stroke="#333" stroke-width="0.8" />
<line x1="211.10" y1="36.60" x2="211.10" y2="24.20" stroke="#333" stroke-width="0.8" />
<path d="M209.30 24.70 L211.10 20.70 L212.90 24.70 Z" fill="#333"/>
<line x1="234.20" y1="94.70" x2="303.60" y2="94.70" stroke="#333" stroke-width="0.8" />
<line x1="332.20" y1="94.70" x2="398.00" y2="94.70" stroke="#333" stroke-width="0.8" />
<path d="M397.0 92.90 L401.6 94.70 L397.0 96.50 Z" fill="#333"/>
<text transform="translate(317.80 97.10) scale(1 1.12) translate(-317.80 -97.10)" x="317.80" y="97.10" font-size="6.9" text-anchor="middle" fill="#333">CD107a</text>
<text transform="translate(260.85 113.60) scale(1 1.12) translate(-260.85 -113.60)" x="260.85" y="113.60" font-size="6.2" text-anchor="middle" fill="#333">P815 cells</text>
<line x1="235.20" y1="170.60" x2="235.20" y2="172.60" stroke="#111" stroke-width="0.6" />
<line x1="236.45" y1="170.60" x2="236.45" y2="172.60" stroke="#111" stroke-width="0.6" />
<line x1="237.70" y1="170.60" x2="237.70" y2="172.60" stroke="#111" stroke-width="0.6" />
<line x1="238.95" y1="170.60" x2="238.95" y2="172.60" stroke="#111" stroke-width="0.6" />
<line x1="240.20" y1="170.60" x2="240.20" y2="172.60" stroke="#111" stroke-width="0.6" />
<line x1="241.45" y1="170.60" x2="241.45" y2="172.60" stroke="#111" stroke-width="0.6" />
<line x1="242.70" y1="170.60" x2="242.70" y2="172.60" stroke="#111" stroke-width="0.6" />
<line x1="243.95" y1="170.60" x2="243.95" y2="172.60" stroke="#111" stroke-width="0.6" />
<line x1="245.20" y1="170.60" x2="245.20" y2="172.60" stroke="#111" stroke-width="0.6" />
<line x1="246.45" y1="170.60" x2="246.45" y2="172.60" stroke="#111" stroke-width="0.6" />
<line x1="246.57" y1="170.60" x2="246.57" y2="172.60" stroke="#111" stroke-width="0.6" />
<line x1="248.90" y1="170.60" x2="248.90" y2="172.60" stroke="#111" stroke-width="0.6" />
<line x1="250.55" y1="170.60" x2="250.55" y2="172.60" stroke="#111" stroke-width="0.6" />
<line x1="251.83" y1="170.60" x2="251.83" y2="172.60" stroke="#111" stroke-width="0.6" />
<line x1="252.87" y1="170.60" x2="252.87" y2="172.60" stroke="#111" stroke-width="0.6" />
<line x1="253.76" y1="170.60" x2="253.76" y2="172.60" stroke="#111" stroke-width="0.6" />
<line x1="254.52" y1="170.60" x2="254.52" y2="172.60" stroke="#111" stroke-width="0.6" />
<line x1="255.20" y1="170.60" x2="255.20" y2="172.60" stroke="#111" stroke-width="0.6" />
<line x1="259.77" y1="170.60" x2="259.77" y2="172.60" stroke="#111" stroke-width="0.6" />
<line x1="262.10" y1="170.60" x2="262.10" y2="172.60" stroke="#111" stroke-width="0.6" />
<line x1="263.75" y1="170.60" x2="263.75" y2="172.60" stroke="#111" stroke-width="0.6" />
<line x1="265.03" y1="170.60" x2="265.03" y2="172.60" stroke="#111" stroke-width="0.6" />
<line x1="266.07" y1="170.60" x2="266.07" y2="172.60" stroke="#111" stroke-width="0.6" />
<line x1="266.96" y1="170.60" x2="266.96" y2="172.60" stroke="#111" stroke-width="0.6" />
<line x1="267.72" y1="170.60" x2="267.72" y2="172.60" stroke="#111" stroke-width="0.6" />
<line x1="268.40" y1="170.60" x2="268.40" y2="172.60" stroke="#111" stroke-width="0.6" />
<line x1="272.97" y1="170.60" x2="272.97" y2="172.60" stroke="#111" stroke-width="0.6" />
<line x1="275.30" y1="170.60" x2="275.30" y2="172.60" stroke="#111" stroke-width="0.6" />
<line x1="276.95" y1="170.60" x2="276.95" y2="172.60" stroke="#111" stroke-width="0.6" />
<line x1="278.23" y1="170.60" x2="278.23" y2="172.60" stroke="#111" stroke-width="0.6" />
<line x1="279.27" y1="170.60" x2="279.27" y2="172.60" stroke="#111" stroke-width="0.6" />
<line x1="280.16" y1="170.60" x2="280.16" y2="172.60" stroke="#111" stroke-width="0.6" />
<line x1="280.92" y1="170.60" x2="280.92" y2="172.60" stroke="#111" stroke-width="0.6" />
<line x1="281.60" y1="170.60" x2="281.60" y2="172.60" stroke="#111" stroke-width="0.6" />
<line x1="255.80" y1="170.60" x2="255.80" y2="172.60" stroke="#111" stroke-width="0.6" />
<line x1="269.00" y1="170.60" x2="269.00" y2="172.60" stroke="#111" stroke-width="0.6" />
<line x1="282.00" y1="170.60" x2="282.00" y2="172.60" stroke="#111" stroke-width="0.6" />
<line x1="232.40" y1="133.89" x2="234.20" y2="133.89" stroke="#111" stroke-width="0.55" />
<line x1="232.40" y1="131.60" x2="234.20" y2="131.60" stroke="#111" stroke-width="0.55" />
<line x1="232.40" y1="129.97" x2="234.20" y2="129.97" stroke="#111" stroke-width="0.55" />
<line x1="232.40" y1="128.71" x2="234.20" y2="128.71" stroke="#111" stroke-width="0.55" />
<line x1="232.40" y1="127.68" x2="234.20" y2="127.68" stroke="#111" stroke-width="0.55" />
<line x1="232.40" y1="126.81" x2="234.20" y2="126.81" stroke="#111" stroke-width="0.55" />
<line x1="232.40" y1="126.06" x2="234.20" y2="126.06" stroke="#111" stroke-width="0.55" />
<line x1="232.40" y1="125.39" x2="234.20" y2="125.39" stroke="#111" stroke-width="0.55" />
<line x1="232.40" y1="146.89" x2="234.20" y2="146.89" stroke="#111" stroke-width="0.55" />
<line x1="232.40" y1="144.60" x2="234.20" y2="144.60" stroke="#111" stroke-width="0.55" />
<line x1="232.40" y1="142.97" x2="234.20" y2="142.97" stroke="#111" stroke-width="0.55" />
<line x1="232.40" y1="141.71" x2="234.20" y2="141.71" stroke="#111" stroke-width="0.55" />
<line x1="232.40" y1="140.68" x2="234.20" y2="140.68" stroke="#111" stroke-width="0.55" />
<line x1="232.40" y1="139.81" x2="234.20" y2="139.81" stroke="#111" stroke-width="0.55" />
<line x1="232.40" y1="139.06" x2="234.20" y2="139.06" stroke="#111" stroke-width="0.55" />
<line x1="232.40" y1="138.39" x2="234.20" y2="138.39" stroke="#111" stroke-width="0.55" />
<line x1="232.40" y1="164.09" x2="234.20" y2="164.09" stroke="#111" stroke-width="0.55" />
<line x1="232.40" y1="161.80" x2="234.20" y2="161.80" stroke="#111" stroke-width="0.55" />
<line x1="232.40" y1="160.17" x2="234.20" y2="160.17" stroke="#111" stroke-width="0.55" />
<line x1="232.40" y1="158.91" x2="234.20" y2="158.91" stroke="#111" stroke-width="0.55" />
<line x1="232.40" y1="157.88" x2="234.20" y2="157.88" stroke="#111" stroke-width="0.55" />
<line x1="232.40" y1="157.01" x2="234.20" y2="157.01" stroke="#111" stroke-width="0.55" />
<line x1="232.40" y1="156.26" x2="234.20" y2="156.26" stroke="#111" stroke-width="0.55" />
<line x1="232.40" y1="155.59" x2="234.20" y2="155.59" stroke="#111" stroke-width="0.55" />
<text transform="translate(240.50 182.60) scale(1 1.12) translate(-240.50 -182.60)" x="240.50" y="182.60" font-size="6.0" text-anchor="middle" fill="#333">0</text>
<text transform="translate(256.00 182.60) scale(1 1.12) translate(-256.00 -182.60)" x="256.00" y="182.60" font-size="6.0" text-anchor="middle" fill="#333">10<tspan font-size="4.0" dy="-2.6">3</tspan></text>
<text transform="translate(269.20 182.60) scale(1 1.12) translate(-269.20 -182.60)" x="269.20" y="182.60" font-size="6.0" text-anchor="middle" fill="#333">10<tspan font-size="4.0" dy="-2.6">4</tspan></text>
<text transform="translate(282.00 182.60) scale(1 1.12) translate(-282.00 -182.60)" x="282.00" y="182.60" font-size="6.0" text-anchor="middle" fill="#333">10<tspan font-size="4.0" dy="-2.6">5</tspan></text>
<text transform="translate(318.35 113.60) scale(1 1.12) translate(-318.35 -113.60)" x="318.35" y="113.60" font-size="6.2" text-anchor="middle" fill="#333">P815 cells + anti-CD16</text>
<line x1="292.50" y1="170.60" x2="292.50" y2="172.60" stroke="#111" stroke-width="0.6" />
<line x1="293.75" y1="170.60" x2="293.75" y2="172.60" stroke="#111" stroke-width="0.6" />
<line x1="295.00" y1="170.60" x2="295.00" y2="172.60" stroke="#111" stroke-width="0.6" />
<line x1="296.25" y1="170.60" x2="296.25" y2="172.60" stroke="#111" stroke-width="0.6" />
<line x1="297.50" y1="170.60" x2="297.50" y2="172.60" stroke="#111" stroke-width="0.6" />
<line x1="298.75" y1="170.60" x2="298.75" y2="172.60" stroke="#111" stroke-width="0.6" />
<line x1="300.00" y1="170.60" x2="300.00" y2="172.60" stroke="#111" stroke-width="0.6" />
<line x1="301.25" y1="170.60" x2="301.25" y2="172.60" stroke="#111" stroke-width="0.6" />
<line x1="302.50" y1="170.60" x2="302.50" y2="172.60" stroke="#111" stroke-width="0.6" />
<line x1="303.75" y1="170.60" x2="303.75" y2="172.60" stroke="#111" stroke-width="0.6" />
<line x1="303.87" y1="170.60" x2="303.87" y2="172.60" stroke="#111" stroke-width="0.6" />
<line x1="306.20" y1="170.60" x2="306.20" y2="172.60" stroke="#111" stroke-width="0.6" />
<line x1="307.85" y1="170.60" x2="307.85" y2="172.60" stroke="#111" stroke-width="0.6" />
<line x1="309.13" y1="170.60" x2="309.13" y2="172.60" stroke="#111" stroke-width="0.6" />
<line x1="310.17" y1="170.60" x2="310.17" y2="172.60" stroke="#111" stroke-width="0.6" />
<line x1="311.06" y1="170.60" x2="311.06" y2="172.60" stroke="#111" stroke-width="0.6" />
<line x1="311.82" y1="170.60" x2="311.82" y2="172.60" stroke="#111" stroke-width="0.6" />
<line x1="312.50" y1="170.60" x2="312.50" y2="172.60" stroke="#111" stroke-width="0.6" />
<line x1="317.07" y1="170.60" x2="317.07" y2="172.60" stroke="#111" stroke-width="0.6" />
<line x1="319.40" y1="170.60" x2="319.40" y2="172.60" stroke="#111" stroke-width="0.6" />
<line x1="321.05" y1="170.60" x2="321.05" y2="172.60" stroke="#111" stroke-width="0.6" />
<line x1="322.33" y1="170.60" x2="322.33" y2="172.60" stroke="#111" stroke-width="0.6" />
<line x1="323.37" y1="170.60" x2="323.37" y2="172.60" stroke="#111" stroke-width="0.6" />
<line x1="324.26" y1="170.60" x2="324.26" y2="172.60" stroke="#111" stroke-width="0.6" />
<line x1="325.02" y1="170.60" x2="325.02" y2="172.60" stroke="#111" stroke-width="0.6" />
<line x1="325.70" y1="170.60" x2="325.70" y2="172.60" stroke="#111" stroke-width="0.6" />
<line x1="330.27" y1="170.60" x2="330.27" y2="172.60" stroke="#111" stroke-width="0.6" />
<line x1="332.60" y1="170.60" x2="332.60" y2="172.60" stroke="#111" stroke-width="0.6" />
<line x1="334.25" y1="170.60" x2="334.25" y2="172.60" stroke="#111" stroke-width="0.6" />
<line x1="335.53" y1="170.60" x2="335.53" y2="172.60" stroke="#111" stroke-width="0.6" />
<line x1="336.57" y1="170.60" x2="336.57" y2="172.60" stroke="#111" stroke-width="0.6" />
<line x1="337.46" y1="170.60" x2="337.46" y2="172.60" stroke="#111" stroke-width="0.6" />
<line x1="338.22" y1="170.60" x2="338.22" y2="172.60" stroke="#111" stroke-width="0.6" />
<line x1="338.90" y1="170.60" x2="338.90" y2="172.60" stroke="#111" stroke-width="0.6" />
<line x1="313.10" y1="170.60" x2="313.10" y2="172.60" stroke="#111" stroke-width="0.6" />
<line x1="326.30" y1="170.60" x2="326.30" y2="172.60" stroke="#111" stroke-width="0.6" />
<line x1="339.30" y1="170.60" x2="339.30" y2="172.60" stroke="#111" stroke-width="0.6" />
<line x1="289.70" y1="133.89" x2="291.50" y2="133.89" stroke="#111" stroke-width="0.55" />
<line x1="289.70" y1="131.60" x2="291.50" y2="131.60" stroke="#111" stroke-width="0.55" />
<line x1="289.70" y1="129.97" x2="291.50" y2="129.97" stroke="#111" stroke-width="0.55" />
<line x1="289.70" y1="128.71" x2="291.50" y2="128.71" stroke="#111" stroke-width="0.55" />
<line x1="289.70" y1="127.68" x2="291.50" y2="127.68" stroke="#111" stroke-width="0.55" />
<line x1="289.70" y1="126.81" x2="291.50" y2="126.81" stroke="#111" stroke-width="0.55" />
<line x1="289.70" y1="126.06" x2="291.50" y2="126.06" stroke="#111" stroke-width="0.55" />
<line x1="289.70" y1="125.39" x2="291.50" y2="125.39" stroke="#111" stroke-width="0.55" />
<line x1="289.70" y1="146.89" x2="291.50" y2="146.89" stroke="#111" stroke-width="0.55" />
<line x1="289.70" y1="144.60" x2="291.50" y2="144.60" stroke="#111" stroke-width="0.55" />
<line x1="289.70" y1="142.97" x2="291.50" y2="142.97" stroke="#111" stroke-width="0.55" />
<line x1="289.70" y1="141.71" x2="291.50" y2="141.71" stroke="#111" stroke-width="0.55" />
<line x1="289.70" y1="140.68" x2="291.50" y2="140.68" stroke="#111" stroke-width="0.55" />
<line x1="289.70" y1="139.81" x2="291.50" y2="139.81" stroke="#111" stroke-width="0.55" />
<line x1="289.70" y1="139.06" x2="291.50" y2="139.06" stroke="#111" stroke-width="0.55" />
<line x1="289.70" y1="138.39" x2="291.50" y2="138.39" stroke="#111" stroke-width="0.55" />
<line x1="289.70" y1="164.09" x2="291.50" y2="164.09" stroke="#111" stroke-width="0.55" />
<line x1="289.70" y1="161.80" x2="291.50" y2="161.80" stroke="#111" stroke-width="0.55" />
<line x1="289.70" y1="160.17" x2="291.50" y2="160.17" stroke="#111" stroke-width="0.55" />
<line x1="289.70" y1="158.91" x2="291.50" y2="158.91" stroke="#111" stroke-width="0.55" />
<line x1="289.70" y1="157.88" x2="291.50" y2="157.88" stroke="#111" stroke-width="0.55" />
<line x1="289.70" y1="157.01" x2="291.50" y2="157.01" stroke="#111" stroke-width="0.55" />
<line x1="289.70" y1="156.26" x2="291.50" y2="156.26" stroke="#111" stroke-width="0.55" />
<line x1="289.70" y1="155.59" x2="291.50" y2="155.59" stroke="#111" stroke-width="0.55" />
<text transform="translate(297.80 182.60) scale(1 1.12) translate(-297.80 -182.60)" x="297.80" y="182.60" font-size="6.0" text-anchor="middle" fill="#333">0</text>
<text transform="translate(313.30 182.60) scale(1 1.12) translate(-313.30 -182.60)" x="313.30" y="182.60" font-size="6.0" text-anchor="middle" fill="#333">10<tspan font-size="4.0" dy="-2.6">3</tspan></text>
<text transform="translate(326.50 182.60) scale(1 1.12) translate(-326.50 -182.60)" x="326.50" y="182.60" font-size="6.0" text-anchor="middle" fill="#333">10<tspan font-size="4.0" dy="-2.6">4</tspan></text>
<text transform="translate(339.30 182.60) scale(1 1.12) translate(-339.30 -182.60)" x="339.30" y="182.60" font-size="6.0" text-anchor="middle" fill="#333">10<tspan font-size="4.0" dy="-2.6">5</tspan></text>
<text transform="translate(375.40 113.60) scale(1 1.12) translate(-375.40 -113.60)" x="375.40" y="113.60" font-size="6.2" text-anchor="middle" fill="#333">K562 cells</text>
<line x1="349.50" y1="170.60" x2="349.50" y2="172.60" stroke="#111" stroke-width="0.6" />
<line x1="350.75" y1="170.60" x2="350.75" y2="172.60" stroke="#111" stroke-width="0.6" />
<line x1="352.00" y1="170.60" x2="352.00" y2="172.60" stroke="#111" stroke-width="0.6" />
<line x1="353.25" y1="170.60" x2="353.25" y2="172.60" stroke="#111" stroke-width="0.6" />
<line x1="354.50" y1="170.60" x2="354.50" y2="172.60" stroke="#111" stroke-width="0.6" />
<line x1="355.75" y1="170.60" x2="355.75" y2="172.60" stroke="#111" stroke-width="0.6" />
<line x1="357.00" y1="170.60" x2="357.00" y2="172.60" stroke="#111" stroke-width="0.6" />
<line x1="358.25" y1="170.60" x2="358.25" y2="172.60" stroke="#111" stroke-width="0.6" />
<line x1="359.50" y1="170.60" x2="359.50" y2="172.60" stroke="#111" stroke-width="0.6" />
<line x1="360.75" y1="170.60" x2="360.75" y2="172.60" stroke="#111" stroke-width="0.6" />
<line x1="360.87" y1="170.60" x2="360.87" y2="172.60" stroke="#111" stroke-width="0.6" />
<line x1="363.20" y1="170.60" x2="363.20" y2="172.60" stroke="#111" stroke-width="0.6" />
<line x1="364.85" y1="170.60" x2="364.85" y2="172.60" stroke="#111" stroke-width="0.6" />
<line x1="366.13" y1="170.60" x2="366.13" y2="172.60" stroke="#111" stroke-width="0.6" />
<line x1="367.17" y1="170.60" x2="367.17" y2="172.60" stroke="#111" stroke-width="0.6" />
<line x1="368.06" y1="170.60" x2="368.06" y2="172.60" stroke="#111" stroke-width="0.6" />
<line x1="368.82" y1="170.60" x2="368.82" y2="172.60" stroke="#111" stroke-width="0.6" />
<line x1="369.50" y1="170.60" x2="369.50" y2="172.60" stroke="#111" stroke-width="0.6" />
<line x1="374.07" y1="170.60" x2="374.07" y2="172.60" stroke="#111" stroke-width="0.6" />
<line x1="376.40" y1="170.60" x2="376.40" y2="172.60" stroke="#111" stroke-width="0.6" />
<line x1="378.05" y1="170.60" x2="378.05" y2="172.60" stroke="#111" stroke-width="0.6" />
<line x1="379.33" y1="170.60" x2="379.33" y2="172.60" stroke="#111" stroke-width="0.6" />
<line x1="380.37" y1="170.60" x2="380.37" y2="172.60" stroke="#111" stroke-width="0.6" />
<line x1="381.26" y1="170.60" x2="381.26" y2="172.60" stroke="#111" stroke-width="0.6" />
<line x1="382.02" y1="170.60" x2="382.02" y2="172.60" stroke="#111" stroke-width="0.6" />
<line x1="382.70" y1="170.60" x2="382.70" y2="172.60" stroke="#111" stroke-width="0.6" />
<line x1="387.27" y1="170.60" x2="387.27" y2="172.60" stroke="#111" stroke-width="0.6" />
<line x1="389.60" y1="170.60" x2="389.60" y2="172.60" stroke="#111" stroke-width="0.6" />
<line x1="391.25" y1="170.60" x2="391.25" y2="172.60" stroke="#111" stroke-width="0.6" />
<line x1="392.53" y1="170.60" x2="392.53" y2="172.60" stroke="#111" stroke-width="0.6" />
<line x1="393.57" y1="170.60" x2="393.57" y2="172.60" stroke="#111" stroke-width="0.6" />
<line x1="394.46" y1="170.60" x2="394.46" y2="172.60" stroke="#111" stroke-width="0.6" />
<line x1="395.22" y1="170.60" x2="395.22" y2="172.60" stroke="#111" stroke-width="0.6" />
<line x1="395.90" y1="170.60" x2="395.90" y2="172.60" stroke="#111" stroke-width="0.6" />
<line x1="370.10" y1="170.60" x2="370.10" y2="172.60" stroke="#111" stroke-width="0.6" />
<line x1="383.30" y1="170.60" x2="383.30" y2="172.60" stroke="#111" stroke-width="0.6" />
<line x1="396.30" y1="170.60" x2="396.30" y2="172.60" stroke="#111" stroke-width="0.6" />
<line x1="346.70" y1="133.89" x2="348.50" y2="133.89" stroke="#111" stroke-width="0.55" />
<line x1="346.70" y1="131.60" x2="348.50" y2="131.60" stroke="#111" stroke-width="0.55" />
<line x1="346.70" y1="129.97" x2="348.50" y2="129.97" stroke="#111" stroke-width="0.55" />
<line x1="346.70" y1="128.71" x2="348.50" y2="128.71" stroke="#111" stroke-width="0.55" />
<line x1="346.70" y1="127.68" x2="348.50" y2="127.68" stroke="#111" stroke-width="0.55" />
<line x1="346.70" y1="126.81" x2="348.50" y2="126.81" stroke="#111" stroke-width="0.55" />
<line x1="346.70" y1="126.06" x2="348.50" y2="126.06" stroke="#111" stroke-width="0.55" />
<line x1="346.70" y1="125.39" x2="348.50" y2="125.39" stroke="#111" stroke-width="0.55" />
<line x1="346.70" y1="146.89" x2="348.50" y2="146.89" stroke="#111" stroke-width="0.55" />
<line x1="346.70" y1="144.60" x2="348.50" y2="144.60" stroke="#111" stroke-width="0.55" />
<line x1="346.70" y1="142.97" x2="348.50" y2="142.97" stroke="#111" stroke-width="0.55" />
<line x1="346.70" y1="141.71" x2="348.50" y2="141.71" stroke="#111" stroke-width="0.55" />
<line x1="346.70" y1="140.68" x2="348.50" y2="140.68" stroke="#111" stroke-width="0.55" />
<line x1="346.70" y1="139.81" x2="348.50" y2="139.81" stroke="#111" stroke-width="0.55" />
<line x1="346.70" y1="139.06" x2="348.50" y2="139.06" stroke="#111" stroke-width="0.55" />
<line x1="346.70" y1="138.39" x2="348.50" y2="138.39" stroke="#111" stroke-width="0.55" />
<line x1="346.70" y1="164.09" x2="348.50" y2="164.09" stroke="#111" stroke-width="0.55" />
<line x1="346.70" y1="161.80" x2="348.50" y2="161.80" stroke="#111" stroke-width="0.55" />
<line x1="346.70" y1="160.17" x2="348.50" y2="160.17" stroke="#111" stroke-width="0.55" />
<line x1="346.70" y1="158.91" x2="348.50" y2="158.91" stroke="#111" stroke-width="0.55" />
<line x1="346.70" y1="157.88" x2="348.50" y2="157.88" stroke="#111" stroke-width="0.55" />
<line x1="346.70" y1="157.01" x2="348.50" y2="157.01" stroke="#111" stroke-width="0.55" />
<line x1="346.70" y1="156.26" x2="348.50" y2="156.26" stroke="#111" stroke-width="0.55" />
<line x1="346.70" y1="155.59" x2="348.50" y2="155.59" stroke="#111" stroke-width="0.55" />
<text transform="translate(354.80 182.60) scale(1 1.12) translate(-354.80 -182.60)" x="354.80" y="182.60" font-size="6.0" text-anchor="middle" fill="#333">0</text>
<text transform="translate(370.30 182.60) scale(1 1.12) translate(-370.30 -182.60)" x="370.30" y="182.60" font-size="6.0" text-anchor="middle" fill="#333">10<tspan font-size="4.0" dy="-2.6">3</tspan></text>
<text transform="translate(383.50 182.60) scale(1 1.12) translate(-383.50 -182.60)" x="383.50" y="182.60" font-size="6.0" text-anchor="middle" fill="#333">10<tspan font-size="4.0" dy="-2.6">4</tspan></text>
<text transform="translate(396.30 182.60) scale(1 1.12) translate(-396.30 -182.60)" x="396.30" y="182.60" font-size="6.0" text-anchor="middle" fill="#333">10<tspan font-size="4.0" dy="-2.6">5</tspan></text>
<text transform="translate(226.00 125.80) scale(1 1.12) translate(-226.00 -125.80)" x="226.00" y="125.80" font-size="6.0" text-anchor="middle" fill="#333">10<tspan font-size="4.0" dy="-2.6">5</tspan></text>
<line x1="231.60" y1="123.70" x2="234.20" y2="123.70" stroke="#333" stroke-width="0.7" />
<text transform="translate(226.00 141.50) scale(1 1.12) translate(-226.00 -141.50)" x="226.00" y="141.50" font-size="6.0" text-anchor="middle" fill="#333">10<tspan font-size="4.0" dy="-2.6">4</tspan></text>
<line x1="231.60" y1="139.40" x2="234.20" y2="139.40" stroke="#333" stroke-width="0.7" />
<text transform="translate(226.00 156.70) scale(1 1.12) translate(-226.00 -156.70)" x="226.00" y="156.70" font-size="6.0" text-anchor="middle" fill="#333">10<tspan font-size="4.0" dy="-2.6">3</tspan></text>
<line x1="231.60" y1="154.60" x2="234.20" y2="154.60" stroke="#333" stroke-width="0.7" />
<text transform="translate(228.20 169.30) scale(1 1.12) translate(-228.20 -169.30)" x="228.20" y="169.30" font-size="6.0" text-anchor="middle" fill="#333">0</text>
<line x1="231.60" y1="167.20" x2="234.20" y2="167.20" stroke="#333" stroke-width="0.7" />
<text x="213.70" y="145.20" font-size="6.8" text-anchor="middle" fill="#333" transform="rotate(-90 213.70 145.20) translate(213.70 145.20) scale(1 1.12) translate(-213.70 -145.20)">EAT-2</text>
<line x1="211.10" y1="156.60" x2="211.10" y2="171.10" stroke="#333" stroke-width="0.8" />
<line x1="211.10" y1="133.80" x2="211.10" y2="122.00" stroke="#333" stroke-width="0.8" />
<path d="M209.30 122.50 L211.10 118.50 L212.90 122.50 Z" fill="#333"/>
<line x1="234.20" y1="191.70" x2="303.60" y2="191.70" stroke="#333" stroke-width="0.8" />
<line x1="332.20" y1="191.70" x2="398.00" y2="191.70" stroke="#333" stroke-width="0.8" />
<path d="M397.0 189.90 L401.6 191.70 L397.0 193.50 Z" fill="#333"/>
<text transform="translate(317.80 194.10) scale(1 1.12) translate(-317.80 -194.10)" x="317.80" y="194.10" font-size="6.9" text-anchor="middle" fill="#333">CD107a</text>
<path d="M255.1 47.9 q2.5 -1.6 5.1 -0.6 M263.4 42.3 q2.3 -0.3 4.6 0.7 M254.2 36.4 q2.7 -1.2 5.3 -0.2 M269.5 36.0 q1.9 -0.5 3.8 0.5 M257.3 49.2 q2.8 -2.1 5.6 -1.1 M252.6 43.6 q2.9 -1.3 5.8 -0.3 M257.0 41.9 q1.1 -1.7 2.1 -0.7 M262.1 42.9 q1.5 -1.6 2.9 -0.6 M257.0 42.4 q1.6 -2.1 3.2 -1.1 M271.3 43.8 q2.3 -1.8 4.6 -0.8" fill="none" stroke="#666" stroke-width="0.4" stroke-opacity="0.22"/>
<path d="M265.4 65.5 q1.1 -2.0 2.2 -1.0 M263.7 63.6 q2.3 -1.5 4.7 -0.5 M260.5 62.5 q2.2 -1.8 4.3 -0.8 M258.0 60.5 q2.4 0.2 4.9 1.2 M265.3 61.9 q1.9 -1.6 3.8 -0.6" fill="none" stroke="#666" stroke-width="0.4" stroke-opacity="0.18"/>
<ellipse cx="244.1" cy="46.6" rx="6.7" ry="10.4" fill="#000" fill-opacity="0.200" filter="url(#bl2)"/>
<ellipse cx="244.1" cy="46.6" rx="5.7" ry="9.4" fill="none" stroke="#777" stroke-width="0.6" stroke-opacity="0.70"/>
<ellipse cx="244.1" cy="46.6" rx="4.6" ry="8.3" fill="#000" fill-opacity="0.22" stroke="#555" stroke-width="0.6" stroke-opacity="0.80"/>
<ellipse cx="244.1" cy="46.6" rx="2.35" ry="6.05" fill="#fff" stroke="#151515" stroke-width="2.30" stroke-opacity="1.00"/>
<ellipse cx="243.8" cy="62.6" rx="6.800000000000001" ry="6.800000000000001" fill="#000" fill-opacity="0.200" filter="url(#bl2)"/>
<ellipse cx="243.8" cy="62.6" rx="5.800000000000001" ry="5.800000000000001" fill="none" stroke="#777" stroke-width="0.6" stroke-opacity="0.70"/>
<ellipse cx="243.8" cy="62.6" rx="4.7" ry="4.7" fill="#000" fill-opacity="0.22" stroke="#555" stroke-width="0.6" stroke-opacity="0.80"/>
<ellipse cx="243.8" cy="62.6" rx="2.30" ry="2.30" fill="#fff" stroke="#151515" stroke-width="2.60" stroke-opacity="1.00"/>
<rect x="295" y="37" width="36" height="32" rx="7" fill="#000" fill-opacity="0.07" filter="url(#bl2)"/>
<rect x="305" y="40" width="17" height="27" fill="#000" fill-opacity="0.07" filter="url(#bl1)"/>
<path d="M308.3 54.2 q1.7 -0.8 3.5 0.2 M315.3 40.8 q1.0 -0.2 2.1 0.8 M308.7 45.6 q3.0 -1.1 6.0 -0.1 M319.1 52.3 q2.3 -1.8 4.6 -0.8 M315.4 63.3 q2.0 -0.4 4.1 0.6 M316.1 40.8 q2.5 -0.8 5.0 0.2 M309.4 39.9 q2.7 -1.1 5.5 -0.1 M316.9 63.6 q2.4 0.0 4.9 1.0 M311.1 61.4 q1.9 0.0 3.8 1.0 M319.8 41.7 q1.3 -1.7 2.5 -0.7 M321.4 51.2 q2.3 -1.5 4.5 -0.5 M313.1 49.8 q1.7 -0.8 3.4 0.2 M314.5 64.3 q2.4 0.0 4.7 1.0 M319.4 66.7 q2.3 -1.8 4.7 -0.8 M319.5 66.0 q2.8 -0.8 5.6 0.2 M316.8 44.9 q2.7 -0.8 5.3 0.2 M309.1 40.8 q2.7 0.2 5.4 1.2 M305.6 61.4 q1.8 -1.8 3.6 -0.8 M309.3 60.5 q2.7 -2.1 5.5 -1.1 M315.1 40.3 q2.4 -1.4 4.9 -0.4 M319.9 66.5 q2.0 0.2 4.0 1.2 M309.6 41.2 q2.2 -2.1 4.4 -1.1 M307.6 50.4 q2.2 -1.8 4.4 -0.8 M304.8 63.3 q1.6 0.1 3.3 1.1 M320.1 49.6 q1.9 -1.0 3.8 0.0 M315.6 55.7 q2.1 -0.7 4.2 0.3 M320.9 53.2 q1.9 -0.5 3.7 0.5 M308.3 47.4 q3.0 -0.9 5.9 0.1 M313.9 39.3 q1.8 -0.8 3.7 0.2 M304.4 56.2 q2.3 -2.1 4.5 -1.1 M315.3 52.1 q2.4 -1.4 4.7 -0.4 M316.7 59.7 q1.0 -2.1 2.1 -1.1 M316.2 66.0 q1.5 -1.1 3.0 -0.1 M314.7 48.0 q1.7 -1.4 3.5 -0.4 M310.6 55.7 q1.6 -1.3 3.2 -0.3 M317.9 39.8 q2.1 -0.4 4.3 0.6 M309.6 45.2 q2.6 -1.6 5.2 -0.6 M307.4 51.2 q2.4 -2.0 4.8 -1.0 M309.8 48.3 q2.7 -1.1 5.3 -0.1 M319.4 43.7 q1.7 -0.6 3.3 0.4 M319.9 51.6 q1.5 -1.9 2.9 -0.9 M313.5 44.3 q2.6 -0.2 5.2 0.8 M307.3 46.8 q2.6 -0.7 5.2 0.3 M318.5 48.7 q1.3 -1.5 2.5 -0.5 M318.3 46.6 q1.7 -1.2 3.4 -0.2 M311.6 50.5 q2.8 -1.8 5.7 -0.8 M304.1 65.4 q2.8 0.2 5.5 1.2 M311.8 65.6 q2.9 -1.7 5.7 -0.7 M317.4 62.4 q2.3 -1.0 4.7 0.0 M309.2 48.5 q1.5 -2.0 2.9 -1.0 M314.6 47.0 q2.6 -2.1 5.2 -1.1 M320.3 58.4 q2.8 -0.0 5.7 1.0 M320.2 55.2 q1.0 -0.4 2.1 0.6 M307.1 47.4 q2.3 -0.9 4.7 0.1 M311.4 65.3 q2.2 -1.4 4.4 -0.4 M308.5 63.1 q2.0 -0.3 3.9 0.7 M310.3 44.5 q2.1 -0.2 4.1 0.8 M307.1 61.2 q2.8 -0.3 5.7 0.7 M318.8 39.2 q2.3 -0.1 4.5 0.9 M304.9 46.6 q1.5 -0.9 3.1 0.1" fill="none" stroke="#555" stroke-width="0.5" stroke-opacity="0.6"/>
<path d="M309.3 44.4 q1.8 -1.8 3.6 -0.8 M306.9 51.2 q2.8 -0.3 5.7 0.7 M316.7 47.1 q2.1 -1.5 4.1 -0.5 M308.4 44.4 q1.4 0.0 2.9 1.0 M317.6 60.6 q2.6 -1.7 5.2 -0.7 M310.3 56.4 q2.5 -0.1 4.9 0.9 M318.3 44.0 q2.2 -0.6 4.4 0.4 M313.1 46.1 q1.9 -2.0 3.9 -1.0 M319.1 61.9 q2.1 -1.5 4.2 -0.5 M318.7 55.2 q2.8 -0.2 5.5 0.8 M313.1 51.5 q2.2 -1.2 4.4 -0.2 M308.3 49.0 q2.6 -2.1 5.3 -1.1 M306.6 56.4 q1.6 -0.9 3.1 0.1 M312.6 49.9 q3.0 -1.7 6.0 -0.7 M311.8 46.7 q2.3 -1.5 4.5 -0.5 M311.0 59.2 q1.6 -0.9 3.3 0.1 M318.7 44.3 q1.1 -1.7 2.2 -0.7 M316.7 56.2 q1.5 -1.4 2.9 -0.4 M308.5 52.6 q1.1 -0.5 2.2 0.5 M318.5 64.0 q2.5 0.1 4.9 1.1 M306.3 48.6 q2.9 -0.3 5.9 0.7 M311.7 63.7 q2.2 -0.2 4.5 0.8 M310.1 46.4 q1.9 -1.9 3.8 -0.9 M311.3 64.1 q1.7 -2.2 3.3 -1.2" fill="none" stroke="#444" stroke-width="0.4" stroke-opacity="0.4"/>
<ellipse cx="301.6" cy="47.2" rx="4.2" ry="8.0" fill="#000" fill-opacity="0.30" filter="url(#bl1)"/>
<path d="M299.6 41.5 L299.8 53.5 M301.4 40.5 L301.6 54 M303.6 41.5 L303.4 53.5" fill="none" stroke="#222" stroke-width="0.8" stroke-opacity="0.55"/>
<ellipse cx="301.6" cy="47.0" rx="0.8" ry="3.2" fill="#fff" fill-opacity="0.7"/>
<ellipse cx="302.0" cy="63.0" rx="6.800000000000001" ry="7.1" fill="#000" fill-opacity="0.160" filter="url(#bl2)"/>
<ellipse cx="302.0" cy="63.0" rx="5.800000000000001" ry="6.1" fill="none" stroke="#777" stroke-width="0.6" stroke-opacity="0.56"/>
<ellipse cx="302.0" cy="63.0" rx="4.7" ry="5.0" fill="#000" fill-opacity="0.21" stroke="#555" stroke-width="0.6" stroke-opacity="0.76"/>
<ellipse cx="302.0" cy="63.0" rx="2.45" ry="2.75" fill="#fff" stroke="#151515" stroke-width="2.18" stroke-opacity="1.00"/>
<ellipse cx="325.6" cy="52" rx="6.5" ry="14.5" fill="#000" fill-opacity="0.10" filter="url(#bl2)"/>
<path d="M321.3 53.0 L321.5 46.0 Q322.2 40.0 325.6 39.8 Q329.2 39.8 329.3 46.0 L329.2 60.5" fill="none" stroke="#151515" stroke-width="2.2"/>
<path d="M323.4 46 Q324.4 52 324.4 57.5 M327.0 45.5 L327.1 57.5" fill="none" stroke="#777" stroke-width="0.6"/>
<ellipse cx="325.2" cy="62.9" rx="7.2" ry="7.2" fill="#000" fill-opacity="0.120" filter="url(#bl2)"/>
<ellipse cx="325.2" cy="62.9" rx="6.2" ry="6.2" fill="none" stroke="#777" stroke-width="0.6" stroke-opacity="0.42"/>
<ellipse cx="325.2" cy="62.9" rx="5.1" ry="5.1" fill="#000" fill-opacity="0.22" stroke="#555" stroke-width="0.6" stroke-opacity="0.80"/>
<ellipse cx="325.2" cy="62.9" rx="2.80" ry="2.80" fill="#fff" stroke="#151515" stroke-width="2.40" stroke-opacity="1.00"/>
<path d="M381.8 46.9 q2.6 0.1 5.2 1.1 M385.0 49.8 q1.1 -1.1 2.1 -0.1 M390.5 45.4 q2.8 -1.9 5.6 -0.9 M377.7 38.9 q2.1 -0.8 4.2 0.2 M365.4 38.5 q1.6 -0.0 3.1 1.0 M385.7 37.6 q2.6 -1.9 5.2 -0.9 M381.7 37.0 q1.0 -0.1 2.0 0.9 M370.7 38.4 q3.0 -0.1 5.9 0.9 M372.8 50.4 q2.1 -0.6 4.2 0.4 M370.5 50.1 q2.4 0.1 4.8 1.1 M389.1 39.8 q1.7 -1.8 3.4 -0.8 M368.9 36.0 q1.6 -0.8 3.2 0.2 M365.1 45.8 q1.7 -1.5 3.4 -0.5 M387.1 42.7 q1.6 -1.0 3.3 -0.0 M384.0 35.9 q3.0 -2.1 5.9 -1.1 M385.2 48.5 q1.0 -0.3 2.1 0.7 M374.9 44.3 q1.0 -2.1 2.0 -1.1 M369.9 50.3 q1.4 -0.4 2.8 0.6 M390.1 50.1 q1.7 -1.3 3.4 -0.3 M379.2 47.4 q1.2 -0.4 2.4 0.6 M386.5 48.8 q1.1 0.1 2.1 1.1 M367.5 40.5 q2.2 0.0 4.4 1.0 M374.2 49.8 q2.1 -1.5 4.2 -0.5 M373.6 37.8 q1.2 -1.8 2.3 -0.8 M383.6 50.9 q1.3 -2.1 2.6 -1.1 M391.6 43.5 q1.8 -1.6 3.6 -0.6 M381.0 48.2 q1.9 -1.2 3.8 -0.2 M366.5 49.7 q1.1 -1.0 2.1 -0.0 M387.6 37.1 q2.5 0.1 4.9 1.1 M382.0 47.6 q1.2 -1.2 2.4 -0.2 M369.0 48.5 q1.6 -1.1 3.2 -0.1 M392.0 48.6 q3.0 -1.1 5.9 -0.1 M378.2 46.7 q2.0 -1.5 3.9 -0.5 M375.9 37.3 q1.8 0.2 3.5 1.2 M390.9 45.0 q2.0 -1.4 4.0 -0.4 M367.4 39.4 q2.6 -0.1 5.1 0.9 M374.8 47.6 q2.5 -0.5 5.1 0.5 M382.9 47.2 q1.7 -0.5 3.5 0.5 M372.6 42.8 q2.5 -0.5 5.1 0.5 M372.9 50.1 q2.3 -0.8 4.6 0.2" fill="none" stroke="#555" stroke-width="0.5" stroke-opacity="0.6"/>
<path d="M384.8 65.9 q2.0 -1.6 3.9 -0.6 M365.0 64.0 q1.9 -0.4 3.9 0.6 M374.3 65.2 q1.5 -0.3 3.1 0.7 M383.2 61.0 q2.1 -0.6 4.2 0.4 M369.8 62.6 q2.6 -1.6 5.2 -0.6 M385.1 64.2 q2.7 -1.4 5.4 -0.4 M367.3 65.6 q2.6 -1.1 5.2 -0.1 M367.3 58.4 q2.3 -1.5 4.5 -0.5 M388.8 63.1 q1.4 -0.6 2.8 0.4 M374.0 67.2 q2.8 -1.0 5.6 0.0" fill="none" stroke="#666" stroke-width="0.4" stroke-opacity="0.25"/>
<path d="M364 36.5 Q378 34 391 37.5 Q393 45 389 50.5 Q376 52 364 50.5" fill="#000" fill-opacity="0.06" stroke="#555" stroke-width="0.6" stroke-opacity="0.8"/>
<path d="M365 40 Q377 38.6 387 41 M365 43.5 Q377 43 386 45.5 M365 47 Q376 47.5 385 48.5" fill="none" stroke="#333" stroke-width="0.6" stroke-opacity="0.8"/>
<ellipse cx="359.6" cy="51" rx="7.5" ry="18.5" fill="#000" fill-opacity="0.24" filter="url(#bl2)"/>
<path d="M355.0 39.0 Q359.8 31.4 364.6 39.0 L364.7 60 Q364.4 70.0 359.8 70.0 Q355.0 70.0 354.8 60 Z" fill="#000" fill-opacity="0.25" stroke="#666" stroke-width="0.7"/>
<path d="M356.6 39.5 Q359.8 33.6 363.0 39.5 L363.1 60 Q362.8 68.2 359.8 68.2 Q356.6 68.2 356.4 60 Z" fill="#fff" stroke="#151515" stroke-width="2.5"/>
<path d="M359.2 41 L360.4 41 L360.6 58 L359.0 58 Z" fill="#bbb" stroke="#555" stroke-width="0.5"/>
<ellipse cx="359.8" cy="63.2" rx="1.2" ry="1.4" fill="#222"/>
<path d="M257.2 143.5 q2.3 -2.0 4.6 -1.0 M260.6 145.7 q1.1 -1.0 2.2 0.0 M252.6 146.3 q1.1 -2.0 2.3 -1.0 M258.8 150.3 q1.2 -1.7 2.5 -0.7 M262.0 151.5 q2.2 -1.2 4.3 -0.2 M267.6 142.5 q2.7 -1.5 5.4 -0.5" fill="none" stroke="#666" stroke-width="0.4" stroke-opacity="0.2"/>
<ellipse cx="244.1" cy="146.7" rx="7.0" ry="7.5" fill="#000" fill-opacity="0.200" filter="url(#bl2)"/>
<ellipse cx="244.1" cy="146.7" rx="6.0" ry="6.5" fill="none" stroke="#777" stroke-width="0.6" stroke-opacity="0.70"/>
<ellipse cx="244.1" cy="146.7" rx="4.9" ry="5.4" fill="#000" fill-opacity="0.22" stroke="#555" stroke-width="0.6" stroke-opacity="0.80"/>
<ellipse cx="244.1" cy="146.7" rx="2.50" ry="3.00" fill="#fff" stroke="#151515" stroke-width="2.60" stroke-opacity="1.00"/>
<ellipse cx="244.1" cy="160.0" rx="7.0" ry="6.7" fill="#000" fill-opacity="0.200" filter="url(#bl2)"/>
<ellipse cx="244.1" cy="160.0" rx="6.0" ry="5.7" fill="none" stroke="#777" stroke-width="0.6" stroke-opacity="0.70"/>
<ellipse cx="244.1" cy="160.0" rx="4.9" ry="4.6" fill="#000" fill-opacity="0.22" stroke="#555" stroke-width="0.6" stroke-opacity="0.80"/>
<ellipse cx="244.1" cy="160.0" rx="2.50" ry="2.20" fill="#fff" stroke="#151515" stroke-width="2.60" stroke-opacity="1.00"/>
<rect x="295" y="139" width="38" height="28" rx="7" fill="#000" fill-opacity="0.07" filter="url(#bl2)"/>
<path d="M303.9 165.0 q1.3 -0.5 2.5 0.5 M300.2 146.4 q3.0 -1.7 6.0 -0.7 M314.7 151.9 q1.9 -1.0 3.8 -0.0 M303.0 161.6 q1.2 -1.6 2.4 -0.6 M298.5 146.9 q1.8 -0.0 3.6 1.0 M307.9 143.0 q1.5 0.2 3.0 1.2 M299.6 156.1 q1.8 -0.6 3.5 0.4 M306.8 158.0 q2.0 -0.6 4.0 0.4 M321.4 155.1 q1.3 -2.0 2.6 -1.0 M322.6 152.7 q1.4 0.1 2.8 1.1 M313.1 159.0 q2.8 -1.5 5.5 -0.5 M307.3 162.8 q1.3 -0.4 2.5 0.6 M300.5 157.9 q2.4 0.1 4.8 1.1 M319.9 153.1 q1.4 -1.8 2.8 -0.8 M311.7 153.3 q1.1 -0.0 2.3 1.0 M311.2 158.2 q1.4 -1.6 2.9 -0.6 M298.3 148.9 q1.5 -1.2 3.1 -0.2 M307.8 161.7 q2.8 -1.8 5.6 -0.8 M308.3 144.3 q2.3 0.1 4.7 1.1 M303.2 159.9 q1.6 -2.2 3.2 -1.2 M317.9 148.9 q1.3 -1.2 2.7 -0.2 M304.0 150.7 q1.9 -1.2 3.8 -0.2 M313.3 147.5 q1.2 -2.0 2.4 -1.0 M300.8 153.5 q1.7 -0.3 3.4 0.7 M311.1 158.4 q3.0 -2.0 5.9 -1.0 M298.4 143.7 q1.8 -0.8 3.5 0.2 M317.3 149.1 q2.9 -2.2 5.9 -1.2 M319.7 145.5 q2.8 -2.1 5.5 -1.1 M323.1 159.7 q3.0 -0.8 6.0 0.2 M302.6 165.2 q1.9 -2.0 3.8 -1.0 M313.7 152.9 q1.9 -1.8 3.9 -0.8 M301.2 155.1 q1.9 -1.9 3.8 -0.9 M309.4 158.9 q2.4 -1.1 4.9 -0.1 M308.2 149.4 q1.5 -1.7 2.9 -0.7" fill="none" stroke="#666" stroke-width="0.45" stroke-opacity="0.45"/>
<path d="M300 142.5 Q313 140.5 327 142.5 M300 150.8 Q313 152 327 150.6 M300 156 Q313 154.5 327 156 M300 164.2 Q313 166 327 164.2" fill="none" stroke="#444" stroke-width="0.55" stroke-opacity="0.8"/>
<path d="M302 144.6 Q313 143.4 324 144.6 M302 148.6 Q313 149.4 324 148.6 M302 158.2 Q313 157.2 324 158.2 M302 162.2 Q313 163 324 162.2" fill="none" stroke="#555" stroke-width="0.5" stroke-opacity="0.7"/>
<path d="M304 143 Q313 141.6 320 142.6 M304 151.4 Q313 152.6 318 151.6 M304 157 Q313 155.6 318 157 M304 165 Q313 166.4 320 165" fill="none" stroke="#333" stroke-width="0.6" stroke-opacity="0.7"/>
<ellipse cx="302.6" cy="147.7" rx="7.1" ry="8.0" fill="#000" fill-opacity="0.160" filter="url(#bl2)"/>
<ellipse cx="302.6" cy="147.7" rx="6.1" ry="7.0" fill="none" stroke="#777" stroke-width="0.6" stroke-opacity="0.56"/>
<ellipse cx="302.6" cy="147.7" rx="5.0" ry="5.9" fill="#000" fill-opacity="0.15" stroke="#555" stroke-width="0.6" stroke-opacity="0.56"/>
<ellipse cx="302.6" cy="147.7" rx="2.95" ry="3.85" fill="#fff" stroke="#151515" stroke-width="1.33" stroke-opacity="0.80"/>
<ellipse cx="302.6" cy="161.2" rx="7.1" ry="7.8" fill="#000" fill-opacity="0.160" filter="url(#bl2)"/>
<ellipse cx="302.6" cy="161.2" rx="6.1" ry="6.8" fill="none" stroke="#777" stroke-width="0.6" stroke-opacity="0.56"/>
<ellipse cx="302.6" cy="161.2" rx="5.0" ry="5.699999999999999" fill="#000" fill-opacity="0.21" stroke="#555" stroke-width="0.6" stroke-opacity="0.76"/>
<ellipse cx="302.6" cy="161.2" rx="2.75" ry="3.45" fill="#fff" stroke="#151515" stroke-width="2.18" stroke-opacity="1.00"/>
<ellipse cx="323.4" cy="146.6" rx="9.8" ry="9.2" fill="#000" fill-opacity="0.160" filter="url(#bl2)"/>
<ellipse cx="323.4" cy="146.6" rx="8.8" ry="8.2" fill="none" stroke="#777" stroke-width="0.6" stroke-opacity="0.56"/>
<ellipse cx="323.4" cy="146.6" rx="7.699999999999999" ry="7.1" fill="#000" fill-opacity="0.22" stroke="#555" stroke-width="0.6" stroke-opacity="0.80"/>
<ellipse cx="323.4" cy="146.6" rx="5.40" ry="4.80" fill="#fff" stroke="#151515" stroke-width="2.40" stroke-opacity="1.00"/>
<ellipse cx="322.8" cy="161.0" rx="10.2" ry="7.8" fill="#000" fill-opacity="0.160" filter="url(#bl2)"/>
<ellipse cx="322.8" cy="161.0" rx="9.2" ry="6.8" fill="none" stroke="#777" stroke-width="0.6" stroke-opacity="0.56"/>
<ellipse cx="322.8" cy="161.0" rx="8.1" ry="5.699999999999999" fill="#000" fill-opacity="0.22" stroke="#555" stroke-width="0.6" stroke-opacity="0.80"/>
<ellipse cx="322.8" cy="161.0" rx="5.80" ry="3.40" fill="#fff" stroke="#151515" stroke-width="2.40" stroke-opacity="1.00"/>
<ellipse cx="325.5" cy="145.6" rx="2.0" ry="2.4" fill="#fff"/>
<ellipse cx="324.5" cy="161.0" rx="2.6" ry="1.4" fill="#fff"/>
<path d="M374.0 144.1 q1.3 -0.1 2.6 0.9 M362.2 145.5 q2.8 -2.0 5.6 -1.0 M376.4 146.8 q1.1 -1.3 2.2 -0.3 M380.3 145.0 q2.5 -1.8 4.9 -0.8 M368.2 141.2 q2.0 0.0 4.0 1.0 M377.4 148.5 q1.8 -0.4 3.5 0.6 M364.6 143.2 q2.3 -0.5 4.7 0.5 M373.0 141.0 q1.5 -1.7 3.1 -0.7 M369.3 148.9 q1.4 -0.1 2.8 0.9 M384.9 140.6 q1.8 -1.0 3.5 -0.0 M362.6 144.7 q2.8 -1.9 5.6 -0.9 M377.5 141.3 q2.2 -0.1 4.3 0.9 M367.3 140.1 q1.2 -0.9 2.3 0.1 M362.5 140.9 q2.0 0.0 4.0 1.0 M372.9 144.4 q2.3 -2.0 4.6 -1.0 M377.1 141.9 q2.2 0.1 4.4 1.1 M363.4 146.1 q2.2 -1.8 4.4 -0.8 M369.0 150.9 q3.0 -1.9 6.0 -0.9 M380.3 150.5 q1.5 -0.7 2.9 0.3 M363.1 144.0 q2.3 -0.8 4.7 0.2 M382.1 141.0 q1.7 -0.1 3.4 0.9 M377.2 145.0 q1.8 0.2 3.6 1.2" fill="none" stroke="#666" stroke-width="0.45" stroke-opacity="0.45"/>
<path d="M376.9 159.3 q2.2 -1.7 4.3 -0.7 M383.1 163.2 q2.3 -1.8 4.6 -0.8 M375.5 158.3 q1.5 0.1 3.0 1.1 M387.9 155.4 q2.7 -0.8 5.4 0.2 M371.9 157.8 q2.3 -1.1 4.7 -0.1 M379.8 161.6 q1.3 -0.4 2.5 0.6 M387.5 164.7 q2.2 -2.1 4.5 -1.1 M362.1 156.3 q2.9 -1.5 5.8 -0.5 M371.5 164.0 q1.6 -0.9 3.3 0.1 M373.3 155.6 q2.2 -0.2 4.3 0.8 M366.1 157.2 q1.8 -2.1 3.7 -1.1 M374.9 163.2 q2.3 -0.9 4.6 0.1 M384.2 156.5 q2.1 -1.3 4.3 -0.3 M377.6 156.1 q2.6 -2.0 5.1 -1.0" fill="none" stroke="#666" stroke-width="0.4" stroke-opacity="0.35"/>
<path d="M362 141.8 Q376 139 389 143 Q388 150 377 150.5 Q368 150.6 362 150" fill="none" stroke="#555" stroke-width="0.55" stroke-opacity="0.7"/>
<path d="M363 144.4 Q375 142.8 386 145.6 M363 147.4 Q375 147 385 148" fill="none" stroke="#555" stroke-width="0.5" stroke-opacity="0.6"/>
<path d="M362 156 Q376 154 389 157.5 Q387 164 376 164.5 Q368 164.5 362 163.5" fill="none" stroke="#666" stroke-width="0.5" stroke-opacity="0.6"/>
<path d="M363 159 Q375 158 386 160.4 M363 161.6 Q375 161.6 384 162" fill="none" stroke="#666" stroke-width="0.45" stroke-opacity="0.55"/>
<ellipse cx="358.6" cy="146.8" rx="7.6000000000000005" ry="8.2" fill="#000" fill-opacity="0.220" filter="url(#bl2)"/>
<ellipse cx="358.6" cy="146.8" rx="6.6000000000000005" ry="7.2" fill="none" stroke="#777" stroke-width="0.6" stroke-opacity="0.77"/>
<ellipse cx="358.6" cy="146.8" rx="5.5" ry="6.1" fill="#000" fill-opacity="0.14" stroke="#555" stroke-width="0.6" stroke-opacity="0.52"/>
<ellipse cx="358.6" cy="146.8" rx="3.50" ry="4.10" fill="#fff" stroke="#151515" stroke-width="1.17" stroke-opacity="0.75"/>
<ellipse cx="359.8" cy="161.2" rx="7.2" ry="6.6" fill="#000" fill-opacity="0.200" filter="url(#bl2)"/>
<ellipse cx="359.8" cy="161.2" rx="6.2" ry="5.6" fill="none" stroke="#777" stroke-width="0.6" stroke-opacity="0.70"/>
<ellipse cx="359.8" cy="161.2" rx="5.1" ry="4.5" fill="#000" fill-opacity="0.22" stroke="#555" stroke-width="0.6" stroke-opacity="0.80"/>
<ellipse cx="359.8" cy="161.2" rx="2.70" ry="2.10" fill="#fff" stroke="#151515" stroke-width="2.60" stroke-opacity="1.00"/>
<ellipse cx="379" cy="146.2" rx="3.4" ry="2.4" fill="none" stroke="#555" stroke-width="0.55" stroke-opacity="0.8"/>
<rect x="234.20" y="20.20" width="53.30" height="53.40" fill="none" stroke="#222" stroke-width="0.9" />
<line x1="250.60" y1="20.20" x2="250.60" y2="73.60" stroke="#333" stroke-width="0.7" />
<line x1="234.20" y1="55.60" x2="287.50" y2="55.60" stroke="#333" stroke-width="0.7" />
<text transform="translate(235.70 24.40) scale(1 1.12) translate(-235.70 -24.40)" x="235.70" y="24.40" font-size="3.6" fill="#555">65.3</text>
<text transform="translate(286.00 24.40) scale(1 1.12) translate(-286.00 -24.40)" x="286.00" y="24.40" font-size="3.6" text-anchor="end" fill="#555">0.4</text>
<text transform="translate(235.70 72.20) scale(1 1.12) translate(-235.70 -72.20)" x="235.70" y="72.20" font-size="3.6" fill="#555">34.3</text>
<text transform="translate(286.00 72.20) scale(1 1.12) translate(-286.00 -72.20)" x="286.00" y="72.20" font-size="3.6" text-anchor="end" fill="#555">0.1</text>
<rect x="291.50" y="20.20" width="53.70" height="53.40" fill="none" stroke="#222" stroke-width="0.9" />
<line x1="307.70" y1="20.20" x2="307.70" y2="73.60" stroke="#333" stroke-width="0.7" />
<line x1="291.50" y1="55.60" x2="345.20" y2="55.60" stroke="#333" stroke-width="0.7" />
<text transform="translate(293.00 24.40) scale(1 1.12) translate(-293.00 -24.40)" x="293.00" y="24.40" font-size="3.6" fill="#555">15.5</text>
<text transform="translate(343.70 24.40) scale(1 1.12) translate(-343.70 -24.40)" x="343.70" y="24.40" font-size="3.6" text-anchor="end" fill="#555">47.2</text>
<text transform="translate(293.00 72.20) scale(1 1.12) translate(-293.00 -72.20)" x="293.00" y="72.20" font-size="3.6" fill="#555">12.8</text>
<text transform="translate(343.70 72.20) scale(1 1.12) translate(-343.70 -72.20)" x="343.70" y="72.20" font-size="3.6" text-anchor="end" fill="#555">24.5</text>
<rect x="348.50" y="20.20" width="53.80" height="53.40" fill="none" stroke="#222" stroke-width="0.9" />
<line x1="365.50" y1="20.20" x2="365.50" y2="73.60" stroke="#333" stroke-width="0.7" />
<line x1="348.50" y1="55.60" x2="402.30" y2="55.60" stroke="#333" stroke-width="0.7" />
<text transform="translate(350.00 24.40) scale(1 1.12) translate(-350.00 -24.40)" x="350.00" y="24.40" font-size="3.6" fill="#555">55.1</text>
<text transform="translate(400.80 24.40) scale(1 1.12) translate(-400.80 -24.40)" x="400.80" y="24.40" font-size="3.6" text-anchor="end" fill="#555">15.2</text>
<text transform="translate(350.00 72.20) scale(1 1.12) translate(-350.00 -72.20)" x="350.00" y="72.20" font-size="3.6" fill="#555">28.6</text>
<text transform="translate(400.80 72.20) scale(1 1.12) translate(-400.80 -72.20)" x="400.80" y="72.20" font-size="3.6" text-anchor="end" fill="#555">1.4</text>
<rect x="234.20" y="118.00" width="53.30" height="52.60" fill="none" stroke="#222" stroke-width="0.9" />
<line x1="250.40" y1="118.00" x2="250.40" y2="170.60" stroke="#333" stroke-width="0.7" />
<line x1="234.20" y1="155.00" x2="287.50" y2="155.00" stroke="#333" stroke-width="0.7" />
<text transform="translate(235.70 122.20) scale(1 1.12) translate(-235.70 -122.20)" x="235.70" y="122.20" font-size="3.6" fill="#555">56.9</text>
<text transform="translate(286.00 122.20) scale(1 1.12) translate(-286.00 -122.20)" x="286.00" y="122.20" font-size="3.6" text-anchor="end" fill="#555">0.5</text>
<text transform="translate(235.70 169.20) scale(1 1.12) translate(-235.70 -169.20)" x="235.70" y="169.20" font-size="3.6" fill="#555">42.4</text>
<text transform="translate(286.00 169.20) scale(1 1.12) translate(-286.00 -169.20)" x="286.00" y="169.20" font-size="3.6" text-anchor="end" fill="#555">0.2</text>
<rect x="291.50" y="118.00" width="53.70" height="52.60" fill="none" stroke="#222" stroke-width="0.9" />
<line x1="308.10" y1="118.00" x2="308.10" y2="170.60" stroke="#333" stroke-width="0.7" />
<line x1="291.50" y1="155.00" x2="345.20" y2="155.00" stroke="#333" stroke-width="0.7" />
<text transform="translate(293.00 122.20) scale(1 1.12) translate(-293.00 -122.20)" x="293.00" y="122.20" font-size="3.6" fill="#555">13.7</text>
<text transform="translate(343.70 122.20) scale(1 1.12) translate(-343.70 -122.20)" x="343.70" y="122.20" font-size="3.6" text-anchor="end" fill="#555">43.8</text>
<text transform="translate(293.00 169.20) scale(1 1.12) translate(-293.00 -169.20)" x="293.00" y="169.20" font-size="3.6" fill="#555">14.7</text>
<text transform="translate(343.70 169.20) scale(1 1.12) translate(-343.70 -169.20)" x="343.70" y="169.20" font-size="3.6" text-anchor="end" fill="#555">27.8</text>
<rect x="348.50" y="118.00" width="53.80" height="52.60" fill="none" stroke="#222" stroke-width="0.9" />
<line x1="364.60" y1="118.00" x2="364.60" y2="170.60" stroke="#333" stroke-width="0.7" />
<line x1="348.50" y1="155.00" x2="402.30" y2="155.00" stroke="#333" stroke-width="0.7" />
<text transform="translate(350.00 122.20) scale(1 1.12) translate(-350.00 -122.20)" x="350.00" y="122.20" font-size="3.6" fill="#555">40.2</text>
<text transform="translate(400.80 122.20) scale(1 1.12) translate(-400.80 -122.20)" x="400.80" y="122.20" font-size="3.6" text-anchor="end" fill="#555">13.3</text>
<text transform="translate(350.00 169.20) scale(1 1.12) translate(-350.00 -169.20)" x="350.00" y="169.20" font-size="3.6" fill="#555">43.3</text>
<text transform="translate(400.80 169.20) scale(1 1.12) translate(-400.80 -169.20)" x="400.80" y="169.20" font-size="3.6" text-anchor="end" fill="#555">3.1</text>
<text transform="translate(7.20 214.90) scale(1 1.12) translate(-7.20 -214.90)" x="7.20" y="214.90" font-size="9.8" font-weight="bold" fill="#111">C</text>
<line x1="44.40" y1="217.40" x2="44.40" y2="282.30" stroke="#2b2b2b" stroke-width="0.9" />
<line x1="41.20" y1="281.90" x2="44.40" y2="281.90" stroke="#2b2b2b" stroke-width="0.8" />
<text transform="translate(37.80 283.90) scale(1 1.12) translate(-37.80 -283.90)" x="37.80" y="283.90" font-size="5.9" text-anchor="end" fill="#333">0</text>
<line x1="41.20" y1="273.91" x2="44.40" y2="273.91" stroke="#2b2b2b" stroke-width="0.8" />
<text transform="translate(37.80 275.91) scale(1 1.12) translate(-37.80 -275.91)" x="37.80" y="275.91" font-size="5.9" text-anchor="end" fill="#333">10</text>
<line x1="41.20" y1="265.92" x2="44.40" y2="265.92" stroke="#2b2b2b" stroke-width="0.8" />
<text transform="translate(37.80 267.92) scale(1 1.12) translate(-37.80 -267.92)" x="37.80" y="267.92" font-size="5.9" text-anchor="end" fill="#333">20</text>
<line x1="41.20" y1="257.94" x2="44.40" y2="257.94" stroke="#2b2b2b" stroke-width="0.8" />
<text transform="translate(37.80 259.94) scale(1 1.12) translate(-37.80 -259.94)" x="37.80" y="259.94" font-size="5.9" text-anchor="end" fill="#333">30</text>
<line x1="41.20" y1="249.95" x2="44.40" y2="249.95" stroke="#2b2b2b" stroke-width="0.8" />
<text transform="translate(37.80 251.95) scale(1 1.12) translate(-37.80 -251.95)" x="37.80" y="251.95" font-size="5.9" text-anchor="end" fill="#333">40</text>
<line x1="41.20" y1="241.96" x2="44.40" y2="241.96" stroke="#2b2b2b" stroke-width="0.8" />
<text transform="translate(37.80 243.96) scale(1 1.12) translate(-37.80 -243.96)" x="37.80" y="243.96" font-size="5.9" text-anchor="end" fill="#333">50</text>
<line x1="41.20" y1="233.97" x2="44.40" y2="233.97" stroke="#2b2b2b" stroke-width="0.8" />
<text transform="translate(37.80 235.97) scale(1 1.12) translate(-37.80 -235.97)" x="37.80" y="235.97" font-size="5.9" text-anchor="end" fill="#333">60</text>
<line x1="41.20" y1="225.99" x2="44.40" y2="225.99" stroke="#2b2b2b" stroke-width="0.8" />
<text transform="translate(37.80 227.99) scale(1 1.12) translate(-37.80 -227.99)" x="37.80" y="227.99" font-size="5.9" text-anchor="end" fill="#333">70</text>
<line x1="41.20" y1="218.00" x2="44.40" y2="218.00" stroke="#2b2b2b" stroke-width="0.8" />
<text transform="translate(37.80 220.00) scale(1 1.12) translate(-37.80 -220.00)" x="37.80" y="220.00" font-size="5.9" text-anchor="end" fill="#333">80</text>
<line x1="44.40" y1="281.90" x2="141.90" y2="281.90" stroke="#2b2b2b" stroke-width="0.9" />
<line x1="44.40" y1="281.90" x2="44.40" y2="284.10" stroke="#2b2b2b" stroke-width="0.8" />
<text transform="translate(44.40 293.20) scale(1 1.12) translate(-44.40 -293.20)" x="44.40" y="293.20" font-size="5.8" text-anchor="middle" fill="#333">0</text>
<line x1="68.15" y1="281.90" x2="68.15" y2="284.10" stroke="#2b2b2b" stroke-width="0.8" />
<text transform="translate(68.15 293.20) scale(1 1.12) translate(-68.15 -293.20)" x="68.15" y="293.20" font-size="5.8" text-anchor="middle" fill="#333">20</text>
<line x1="91.90" y1="281.90" x2="91.90" y2="284.10" stroke="#2b2b2b" stroke-width="0.8" />
<text transform="translate(91.90 293.20) scale(1 1.12) translate(-91.90 -293.20)" x="91.90" y="293.20" font-size="5.8" text-anchor="middle" fill="#333">40</text>
<line x1="115.65" y1="281.90" x2="115.65" y2="284.10" stroke="#2b2b2b" stroke-width="0.8" />
<text transform="translate(115.65 293.20) scale(1 1.12) translate(-115.65 -293.20)" x="115.65" y="293.20" font-size="5.8" text-anchor="middle" fill="#333">60</text>
<line x1="139.40" y1="281.90" x2="139.40" y2="284.10" stroke="#2b2b2b" stroke-width="0.8" />
<text transform="translate(139.40 293.20) scale(1 1.12) translate(-139.40 -293.20)" x="139.40" y="293.20" font-size="5.8" text-anchor="middle" fill="#333">80</text>
<line x1="179.80" y1="217.40" x2="179.80" y2="282.30" stroke="#2b2b2b" stroke-width="0.9" />
<line x1="176.60" y1="281.90" x2="179.80" y2="281.90" stroke="#2b2b2b" stroke-width="0.8" />
<text transform="translate(173.20 283.90) scale(1 1.12) translate(-173.20 -283.90)" x="173.20" y="283.90" font-size="5.9" text-anchor="end" fill="#333">0</text>
<line x1="176.60" y1="273.91" x2="179.80" y2="273.91" stroke="#2b2b2b" stroke-width="0.8" />
<text transform="translate(173.20 275.91) scale(1 1.12) translate(-173.20 -275.91)" x="173.20" y="275.91" font-size="5.9" text-anchor="end" fill="#333">10</text>
<line x1="176.60" y1="265.92" x2="179.80" y2="265.92" stroke="#2b2b2b" stroke-width="0.8" />
<text transform="translate(173.20 267.92) scale(1 1.12) translate(-173.20 -267.92)" x="173.20" y="267.92" font-size="5.9" text-anchor="end" fill="#333">20</text>
<line x1="176.60" y1="257.94" x2="179.80" y2="257.94" stroke="#2b2b2b" stroke-width="0.8" />
<text transform="translate(173.20 259.94) scale(1 1.12) translate(-173.20 -259.94)" x="173.20" y="259.94" font-size="5.9" text-anchor="end" fill="#333">30</text>
<line x1="176.60" y1="249.95" x2="179.80" y2="249.95" stroke="#2b2b2b" stroke-width="0.8" />
<text transform="translate(173.20 251.95) scale(1 1.12) translate(-173.20 -251.95)" x="173.20" y="251.95" font-size="5.9" text-anchor="end" fill="#333">40</text>
<line x1="176.60" y1="241.96" x2="179.80" y2="241.96" stroke="#2b2b2b" stroke-width="0.8" />
<text transform="translate(173.20 243.96) scale(1 1.12) translate(-173.20 -243.96)" x="173.20" y="243.96" font-size="5.9" text-anchor="end" fill="#333">50</text>
<line x1="176.60" y1="233.97" x2="179.80" y2="233.97" stroke="#2b2b2b" stroke-width="0.8" />
<text transform="translate(173.20 235.97) scale(1 1.12) translate(-173.20 -235.97)" x="173.20" y="235.97" font-size="5.9" text-anchor="end" fill="#333">60</text>
<line x1="176.60" y1="225.99" x2="179.80" y2="225.99" stroke="#2b2b2b" stroke-width="0.8" />
<text transform="translate(173.20 227.99) scale(1 1.12) translate(-173.20 -227.99)" x="173.20" y="227.99" font-size="5.9" text-anchor="end" fill="#333">70</text>
<line x1="176.60" y1="218.00" x2="179.80" y2="218.00" stroke="#2b2b2b" stroke-width="0.8" />
<text transform="translate(173.20 220.00) scale(1 1.12) translate(-173.20 -220.00)" x="173.20" y="220.00" font-size="5.9" text-anchor="end" fill="#333">80</text>
<line x1="179.80" y1="281.90" x2="277.30" y2="281.90" stroke="#2b2b2b" stroke-width="0.9" />
<line x1="179.80" y1="281.90" x2="179.80" y2="284.10" stroke="#2b2b2b" stroke-width="0.8" />
<text transform="translate(179.80 293.20) scale(1 1.12) translate(-179.80 -293.20)" x="179.80" y="293.20" font-size="5.8" text-anchor="middle" fill="#333">0</text>
<line x1="203.55" y1="281.90" x2="203.55" y2="284.10" stroke="#2b2b2b" stroke-width="0.8" />
<text transform="translate(203.55 293.20) scale(1 1.12) translate(-203.55 -293.20)" x="203.55" y="293.20" font-size="5.8" text-anchor="middle" fill="#333">20</text>
<line x1="227.30" y1="281.90" x2="227.30" y2="284.10" stroke="#2b2b2b" stroke-width="0.8" />
<text transform="translate(227.30 293.20) scale(1 1.12) translate(-227.30 -293.20)" x="227.30" y="293.20" font-size="5.8" text-anchor="middle" fill="#333">40</text>
<line x1="251.05" y1="281.90" x2="251.05" y2="284.10" stroke="#2b2b2b" stroke-width="0.8" />
<text transform="translate(251.05 293.20) scale(1 1.12) translate(-251.05 -293.20)" x="251.05" y="293.20" font-size="5.8" text-anchor="middle" fill="#333">60</text>
<line x1="274.80" y1="281.90" x2="274.80" y2="284.10" stroke="#2b2b2b" stroke-width="0.8" />
<text transform="translate(274.80 293.20) scale(1 1.12) translate(-274.80 -293.20)" x="274.80" y="293.20" font-size="5.8" text-anchor="middle" fill="#333">80</text>
<line x1="315.80" y1="217.40" x2="315.80" y2="282.30" stroke="#2b2b2b" stroke-width="0.9" />
<line x1="312.60" y1="281.90" x2="315.80" y2="281.90" stroke="#2b2b2b" stroke-width="0.8" />
<text transform="translate(309.20 283.90) scale(1 1.12) translate(-309.20 -283.90)" x="309.20" y="283.90" font-size="5.9" text-anchor="end" fill="#333">0</text>
<line x1="312.60" y1="273.91" x2="315.80" y2="273.91" stroke="#2b2b2b" stroke-width="0.8" />
<text transform="translate(309.20 275.91) scale(1 1.12) translate(-309.20 -275.91)" x="309.20" y="275.91" font-size="5.9" text-anchor="end" fill="#333">10</text>
<line x1="312.60" y1="265.92" x2="315.80" y2="265.92" stroke="#2b2b2b" stroke-width="0.8" />
<text transform="translate(309.20 267.92) scale(1 1.12) translate(-309.20 -267.92)" x="309.20" y="267.92" font-size="5.9" text-anchor="end" fill="#333">20</text>
<line x1="312.60" y1="257.94" x2="315.80" y2="257.94" stroke="#2b2b2b" stroke-width="0.8" />
<text transform="translate(309.20 259.94) scale(1 1.12) translate(-309.20 -259.94)" x="309.20" y="259.94" font-size="5.9" text-anchor="end" fill="#333">30</text>
<line x1="312.60" y1="249.95" x2="315.80" y2="249.95" stroke="#2b2b2b" stroke-width="0.8" />
<text transform="translate(309.20 251.95) scale(1 1.12) translate(-309.20 -251.95)" x="309.20" y="251.95" font-size="5.9" text-anchor="end" fill="#333">40</text>
<line x1="312.60" y1="241.96" x2="315.80" y2="241.96" stroke="#2b2b2b" stroke-width="0.8" />
<text transform="translate(309.20 243.96) scale(1 1.12) translate(-309.20 -243.96)" x="309.20" y="243.96" font-size="5.9" text-anchor="end" fill="#333">50</text>
<line x1="312.60" y1="233.97" x2="315.80" y2="233.97" stroke="#2b2b2b" stroke-width="0.8" />
<text transform="translate(309.20 235.97) scale(1 1.12) translate(-309.20 -235.97)" x="309.20" y="235.97" font-size="5.9" text-anchor="end" fill="#333">60</text>
<line x1="312.60" y1="225.99" x2="315.80" y2="225.99" stroke="#2b2b2b" stroke-width="0.8" />
<text transform="translate(309.20 227.99) scale(1 1.12) translate(-309.20 -227.99)" x="309.20" y="227.99" font-size="5.9" text-anchor="end" fill="#333">70</text>
<line x1="312.60" y1="218.00" x2="315.80" y2="218.00" stroke="#2b2b2b" stroke-width="0.8" />
<text transform="translate(309.20 220.00) scale(1 1.12) translate(-309.20 -220.00)" x="309.20" y="220.00" font-size="5.9" text-anchor="end" fill="#333">80</text>
<line x1="315.80" y1="281.90" x2="413.30" y2="281.90" stroke="#2b2b2b" stroke-width="0.9" />
<line x1="315.80" y1="281.90" x2="315.80" y2="284.10" stroke="#2b2b2b" stroke-width="0.8" />
<text transform="translate(315.80 293.20) scale(1 1.12) translate(-315.80 -293.20)" x="315.80" y="293.20" font-size="5.8" text-anchor="middle" fill="#333">0</text>
<line x1="339.55" y1="281.90" x2="339.55" y2="284.10" stroke="#2b2b2b" stroke-width="0.8" />
<text transform="translate(339.55 293.20) scale(1 1.12) translate(-339.55 -293.20)" x="339.55" y="293.20" font-size="5.8" text-anchor="middle" fill="#333">20</text>
<line x1="363.30" y1="281.90" x2="363.30" y2="284.10" stroke="#2b2b2b" stroke-width="0.8" />
<text transform="translate(363.30 293.20) scale(1 1.12) translate(-363.30 -293.20)" x="363.30" y="293.20" font-size="5.8" text-anchor="middle" fill="#333">40</text>
<line x1="387.05" y1="281.90" x2="387.05" y2="284.10" stroke="#2b2b2b" stroke-width="0.8" />
<text transform="translate(387.05 293.20) scale(1 1.12) translate(-387.05 -293.20)" x="387.05" y="293.20" font-size="5.8" text-anchor="middle" fill="#333">60</text>
<line x1="410.80" y1="281.90" x2="410.80" y2="284.10" stroke="#2b2b2b" stroke-width="0.8" />
<text transform="translate(410.80 293.20) scale(1 1.12) translate(-410.80 -293.20)" x="410.80" y="293.20" font-size="5.8" text-anchor="middle" fill="#333">80</text>
<text x="26.4" y="249.5" font-size="6.6" text-anchor="middle" fill="#333" transform="rotate(-90 26.4 249.5) translate(26.40 249.50) scale(1 1.12) translate(-26.40 -249.50)">ΔCD107a<tspan font-size="4.4" dy="-2.4">+</tspan><tspan dy="2.4"> (%)</tspan></text>
<text transform="translate(93.60 304.60) scale(1 1.12) translate(-93.60 -304.60)" x="93.6" y="304.6" font-size="6.6" text-anchor="middle" fill="#333">FcεRγ<tspan font-size="4.2" dy="-2.4">−</tspan><tspan dy="2.4"> (%)</tspan></text>
<text transform="translate(228.40 303.20) scale(1 1.12) translate(-228.40 -303.20)" x="228.4" y="303.2" font-size="6.6" text-anchor="middle" fill="#333">EAT-2<tspan font-size="4.2" dy="-2.4">−</tspan><tspan dy="2.4"> (%)</tspan></text>
<text transform="translate(364.80 303.20) scale(1 1.12) translate(-364.80 -303.20)" x="364.8" y="303.2" font-size="6.6" text-anchor="middle" fill="#333">SYK<tspan font-size="4.2" dy="-2.4">−</tspan><tspan dy="2.4"> (%)</tspan></text>
<text transform="translate(112.60 224.40) scale(1 1.12) translate(-112.60 -224.40)" x="112.6" y="224.4" font-size="6.3" fill="#333">R<tspan font-size="4" dy="-2.4">2</tspan><tspan dy="2.4"> = 0.011</tspan></text>
<text transform="translate(112.60 234.20) scale(1 1.12) translate(-112.60 -234.20)" x="112.60" y="234.20" font-size="6.3" fill="#333">n.s.</text>
<text transform="translate(249.00 224.40) scale(1 1.12) translate(-249.00 -224.40)" x="249.0" y="224.4" font-size="6.3" fill="#333">R<tspan font-size="4" dy="-2.4">2</tspan><tspan dy="2.4"> = 0.020</tspan></text>
<text transform="translate(249.00 234.20) scale(1 1.12) translate(-249.00 -234.20)" x="249.00" y="234.20" font-size="6.3" fill="#333">n.s.</text>
<text transform="translate(376.80 224.40) scale(1 1.12) translate(-376.80 -224.40)" x="376.8" y="224.4" font-size="6.3" fill="#333">R<tspan font-size="4" dy="-2.4">2</tspan><tspan dy="2.4"> = 0.012</tspan></text>
<text transform="translate(376.80 234.20) scale(1 1.12) translate(-376.80 -234.20)" x="376.80" y="234.20" font-size="6.3" fill="#333">n.s.</text>
<line x1="47.80" y1="228.00" x2="47.80" y2="257.80" stroke="#999" stroke-width="0.55" />
<rect x="46.20" y="240.20" width="3.20" height="9.40" fill="#dfe7ac" />
<line x1="46.20" y1="244.90" x2="49.40" y2="244.90" stroke="#8a9a50" stroke-width="0.6" />
<circle cx="47.60" cy="225.60" r="1.25" fill="#aab878" stroke="#46562a" stroke-width="0.6" />
<circle cx="48.00" cy="228.60" r="1.25" fill="#aab878" stroke="#46562a" stroke-width="0.6" />
<circle cx="47.80" cy="257.80" r="1.55" fill="#6a7348" stroke="#2d3320" stroke-width="0.6" />
<circle cx="47.80" cy="265.00" r="0.9" fill="#555c40" />
<circle cx="47.80" cy="269.40" r="0.9" fill="#555c40" />
<rect x="58.46" y="231.80" width="1.70" height="1.70" fill="#9090d6" />
<rect x="60.38" y="232.38" width="1.70" height="1.70" fill="#9090d6" />
<rect x="71.53" y="232.38" width="1.70" height="1.70" fill="#9090d6" />
<rect x="76.73" y="233.92" width="1.70" height="1.70" fill="#9090d6" />
<rect x="55.57" y="241.61" width="1.70" height="1.70" fill="#9090d6" />
<rect x="57.50" y="242.00" width="1.70" height="1.70" fill="#9090d6" />
<rect x="59.42" y="242.38" width="1.70" height="1.70" fill="#9090d6" />
<rect x="61.34" y="242.00" width="1.70" height="1.70" fill="#9090d6" />
<rect x="63.27" y="242.96" width="1.70" height="1.70" fill="#9090d6" />
<rect x="65.19" y="243.92" width="1.70" height="1.70" fill="#9090d6" />
<rect x="61.92" y="239.11" width="1.70" height="1.70" fill="#9090d6" />
<rect x="70.00" y="238.73" width="1.70" height="1.70" fill="#9090d6" />
<rect x="74.80" y="239.11" width="1.70" height="1.70" fill="#9090d6" />
<rect x="79.61" y="241.03" width="1.70" height="1.70" fill="#9090d6" />
<rect x="89.23" y="239.69" width="1.70" height="1.70" fill="#9090d6" />
<rect x="93.07" y="241.23" width="1.70" height="1.70" fill="#9090d6" />
<rect x="96.92" y="240.65" width="1.70" height="1.70" fill="#9090d6" />
<rect x="121.92" y="237.77" width="1.70" height="1.70" fill="#9090d6" />
<rect x="121.92" y="242.00" width="1.70" height="1.70" fill="#9090d6" />
<rect x="127.69" y="242.00" width="1.70" height="1.70" fill="#9090d6" />
<rect x="55.57" y="244.88" width="1.70" height="1.70" fill="#9090d6" />
<rect x="57.50" y="246.23" width="1.70" height="1.70" fill="#9090d6" />
<rect x="59.42" y="247.77" width="1.70" height="1.70" fill="#9090d6" />
<rect x="61.34" y="248.73" width="1.70" height="1.70" fill="#9090d6" />
<rect x="60.38" y="246.80" width="1.70" height="1.70" fill="#9090d6" />
<rect x="63.27" y="248.15" width="1.70" height="1.70" fill="#9090d6" />
<rect x="66.15" y="246.80" width="1.70" height="1.70" fill="#9090d6" />
<rect x="69.03" y="244.88" width="1.70" height="1.70" fill="#9090d6" />
<rect x="70.96" y="247.77" width="1.70" height="1.70" fill="#9090d6" />
<rect x="72.88" y="248.73" width="1.70" height="1.70" fill="#9090d6" />
<rect x="74.80" y="245.84" width="1.70" height="1.70" fill="#9090d6" />
<rect x="71.92" y="250.65" width="1.70" height="1.70" fill="#9090d6" />
<rect x="74.80" y="251.23" width="1.70" height="1.70" fill="#9090d6" />
<rect x="66.15" y="251.61" width="1.70" height="1.70" fill="#9090d6" />
<rect x="59.42" y="253.53" width="1.70" height="1.70" fill="#9090d6" />
<rect x="58.46" y="252.57" width="1.70" height="1.70" fill="#9090d6" />
<rect x="55.57" y="255.46" width="1.70" height="1.70" fill="#9090d6" />
<rect x="72.88" y="257.38" width="1.70" height="1.70" fill="#9090d6" />
<rect x="82.50" y="247.38" width="1.70" height="1.70" fill="#9090d6" />
<rect x="85.38" y="243.53" width="1.70" height="1.70" fill="#9090d6" />
<rect x="96.92" y="248.73" width="1.70" height="1.70" fill="#9090d6" />
<rect x="108.46" y="250.65" width="1.70" height="1.70" fill="#9090d6" />
<rect x="109.42" y="252.57" width="1.70" height="1.70" fill="#9090d6" />
<rect x="111.92" y="253.15" width="1.70" height="1.70" fill="#9090d6" />
<rect x="113.84" y="258.73" width="1.70" height="1.70" fill="#9090d6" />
<rect x="117.69" y="257.96" width="1.70" height="1.70" fill="#9090d6" />
<rect x="56.53" y="243.53" width="1.70" height="1.70" fill="#9090d6" />
<rect x="58.46" y="244.30" width="1.70" height="1.70" fill="#9090d6" />
<rect x="64.23" y="245.46" width="1.70" height="1.70" fill="#9090d6" />
<rect x="68.07" y="242.00" width="1.70" height="1.70" fill="#9090d6" />
<rect x="76.73" y="243.92" width="1.70" height="1.70" fill="#9090d6" />
<line x1="55.50" y1="242.50" x2="127.60" y2="242.80" stroke="#808080" stroke-width="0.55" />
<line x1="55.50" y1="244.80" x2="127.60" y2="247.70" stroke="#808080" stroke-width="0.55" />
<line x1="55.50" y1="246.70" x2="127.60" y2="252.50" stroke="#808080" stroke-width="0.55" />
<line x1="182.80" y1="228.00" x2="182.80" y2="257.80" stroke="#999" stroke-width="0.55" />
<rect x="181.20" y="239.00" width="3.20" height="11.50" fill="#dfe7ac" />
<line x1="181.20" y1="244.75" x2="184.40" y2="244.75" stroke="#8a9a50" stroke-width="0.6" />
<circle cx="182.60" cy="225.60" r="1.25" fill="#aab878" stroke="#46562a" stroke-width="0.6" />
<circle cx="183.00" cy="228.60" r="1.25" fill="#aab878" stroke="#46562a" stroke-width="0.6" />
<circle cx="182.80" cy="257.80" r="1.55" fill="#6a7348" stroke="#2d3320" stroke-width="0.6" />
<circle cx="182.80" cy="265.00" r="0.9" fill="#555c40" />
<circle cx="182.80" cy="269.40" r="0.9" fill="#555c40" />
<rect x="186.73" y="235.84" width="1.70" height="1.70" fill="#9090d6" />
<rect x="187.69" y="234.30" width="1.70" height="1.70" fill="#9090d6" />
<rect x="190.57" y="232.38" width="1.70" height="1.70" fill="#9090d6" />
<rect x="198.27" y="232.00" width="1.70" height="1.70" fill="#9090d6" />
<rect x="200.77" y="232.77" width="1.70" height="1.70" fill="#9090d6" />
<rect x="187.69" y="240.07" width="1.70" height="1.70" fill="#9090d6" />
<rect x="188.65" y="242.00" width="1.70" height="1.70" fill="#9090d6" />
<rect x="189.61" y="243.92" width="1.70" height="1.70" fill="#9090d6" />
<rect x="187.69" y="244.88" width="1.70" height="1.70" fill="#9090d6" />
<rect x="188.65" y="246.80" width="1.70" height="1.70" fill="#9090d6" />
<rect x="190.57" y="245.84" width="1.70" height="1.70" fill="#9090d6" />
<rect x="186.73" y="247.77" width="1.70" height="1.70" fill="#9090d6" />
<rect x="187.69" y="249.69" width="1.70" height="1.70" fill="#9090d6" />
<rect x="187.30" y="252.57" width="1.70" height="1.70" fill="#9090d6" />
<rect x="188.65" y="253.53" width="1.70" height="1.70" fill="#9090d6" />
<rect x="190.00" y="258.34" width="1.70" height="1.70" fill="#9090d6" />
<rect x="192.50" y="251.61" width="1.70" height="1.70" fill="#9090d6" />
<rect x="197.30" y="252.57" width="1.70" height="1.70" fill="#9090d6" />
<rect x="200.19" y="250.65" width="1.70" height="1.70" fill="#9090d6" />
<rect x="195.38" y="245.84" width="1.70" height="1.70" fill="#9090d6" />
<rect x="199.23" y="244.88" width="1.70" height="1.70" fill="#9090d6" />
<rect x="205.00" y="242.00" width="1.70" height="1.70" fill="#9090d6" />
<rect x="206.92" y="241.03" width="1.70" height="1.70" fill="#9090d6" />
<rect x="208.84" y="247.77" width="1.70" height="1.70" fill="#9090d6" />
<rect x="212.69" y="241.03" width="1.70" height="1.70" fill="#9090d6" />
<rect x="215.57" y="242.96" width="1.70" height="1.70" fill="#9090d6" />
<rect x="217.50" y="240.07" width="1.70" height="1.70" fill="#9090d6" />
<rect x="220.38" y="242.00" width="1.70" height="1.70" fill="#9090d6" />
<rect x="233.84" y="238.15" width="1.70" height="1.70" fill="#9090d6" />
<rect x="240.57" y="253.53" width="1.70" height="1.70" fill="#9090d6" />
<rect x="243.46" y="258.92" width="1.70" height="1.70" fill="#9090d6" />
<rect x="207.88" y="257.38" width="1.70" height="1.70" fill="#9090d6" />
<rect x="189.61" y="241.61" width="1.70" height="1.70" fill="#9090d6" />
<rect x="191.53" y="242.96" width="1.70" height="1.70" fill="#9090d6" />
<rect x="193.46" y="244.30" width="1.70" height="1.70" fill="#9090d6" />
<line x1="188.50" y1="242.80" x2="244.30" y2="241.90" stroke="#808080" stroke-width="0.55" />
<line x1="188.50" y1="244.80" x2="244.30" y2="249.00" stroke="#808080" stroke-width="0.55" />
<line x1="188.50" y1="246.30" x2="244.30" y2="254.80" stroke="#808080" stroke-width="0.55" />
<line x1="318.80" y1="228.00" x2="318.80" y2="257.80" stroke="#999" stroke-width="0.55" />
<rect x="317.20" y="239.00" width="3.20" height="7.00" fill="#dfe7ac" />
<line x1="317.20" y1="242.50" x2="320.40" y2="242.50" stroke="#8a9a50" stroke-width="0.6" />
<circle cx="318.60" cy="225.60" r="1.25" fill="#aab878" stroke="#46562a" stroke-width="0.6" />
<circle cx="319.00" cy="228.60" r="1.25" fill="#aab878" stroke="#46562a" stroke-width="0.6" />
<circle cx="318.80" cy="257.80" r="1.55" fill="#6a7348" stroke="#2d3320" stroke-width="0.6" />
<circle cx="318.80" cy="265.00" r="0.9" fill="#555c40" />
<circle cx="318.80" cy="269.40" r="0.9" fill="#555c40" />
<rect x="320.80" y="232.38" width="1.70" height="1.70" fill="#9090d6" />
<rect x="321.77" y="233.34" width="1.70" height="1.70" fill="#9090d6" />
<rect x="322.73" y="236.23" width="1.70" height="1.70" fill="#9090d6" />
<rect x="325.61" y="235.84" width="1.70" height="1.70" fill="#9090d6" />
<rect x="328.50" y="235.84" width="1.70" height="1.70" fill="#9090d6" />
<rect x="320.80" y="239.11" width="1.70" height="1.70" fill="#9090d6" />
<rect x="321.77" y="240.07" width="1.70" height="1.70" fill="#9090d6" />
<rect x="322.73" y="238.15" width="1.70" height="1.70" fill="#9090d6" />
<rect x="323.69" y="241.03" width="1.70" height="1.70" fill="#9090d6" />
<rect x="324.65" y="239.69" width="1.70" height="1.70" fill="#9090d6" />
<rect x="320.80" y="242.96" width="1.70" height="1.70" fill="#9090d6" />
<rect x="321.77" y="243.92" width="1.70" height="1.70" fill="#9090d6" />
<rect x="323.69" y="244.88" width="1.70" height="1.70" fill="#9090d6" />
<rect x="320.80" y="246.80" width="1.70" height="1.70" fill="#9090d6" />
<rect x="322.73" y="247.77" width="1.70" height="1.70" fill="#9090d6" />
<rect x="323.69" y="248.73" width="1.70" height="1.70" fill="#9090d6" />
<rect x="321.77" y="250.65" width="1.70" height="1.70" fill="#9090d6" />
<rect x="320.80" y="252.57" width="1.70" height="1.70" fill="#9090d6" />
<rect x="322.73" y="253.53" width="1.70" height="1.70" fill="#9090d6" />
<rect x="324.65" y="254.50" width="1.70" height="1.70" fill="#9090d6" />
<rect x="325.61" y="251.61" width="1.70" height="1.70" fill="#9090d6" />
<rect x="328.50" y="250.65" width="1.70" height="1.70" fill="#9090d6" />
<rect x="332.34" y="248.73" width="1.70" height="1.70" fill="#9090d6" />
<rect x="331.38" y="246.80" width="1.70" height="1.70" fill="#9090d6" />
<rect x="335.23" y="242.00" width="1.70" height="1.70" fill="#9090d6" />
<rect x="341.96" y="240.07" width="1.70" height="1.70" fill="#9090d6" />
<rect x="343.88" y="240.46" width="1.70" height="1.70" fill="#9090d6" />
<rect x="347.73" y="242.00" width="1.70" height="1.70" fill="#9090d6" />
<rect x="348.69" y="241.03" width="1.70" height="1.70" fill="#9090d6" />
<rect x="350.61" y="240.07" width="1.70" height="1.70" fill="#9090d6" />
<rect x="359.27" y="243.92" width="1.70" height="1.70" fill="#9090d6" />
<rect x="358.30" y="247.77" width="1.70" height="1.70" fill="#9090d6" />
<rect x="341.96" y="248.73" width="1.70" height="1.70" fill="#9090d6" />
<rect x="363.11" y="253.53" width="1.70" height="1.70" fill="#9090d6" />
<rect x="345.80" y="258.34" width="1.70" height="1.70" fill="#9090d6" />
<rect x="347.73" y="257.38" width="1.70" height="1.70" fill="#9090d6" />
<rect x="375.61" y="257.96" width="1.70" height="1.70" fill="#9090d6" />
<rect x="384.84" y="237.77" width="1.70" height="1.70" fill="#9090d6" />
<rect x="397.73" y="241.03" width="1.70" height="1.70" fill="#9090d6" />
<line x1="320.70" y1="243.80" x2="398.60" y2="240.90" stroke="#808080" stroke-width="0.55" />
<line x1="320.70" y1="244.80" x2="398.60" y2="248.20" stroke="#808080" stroke-width="0.55" />
<line x1="320.70" y1="246.30" x2="398.60" y2="255.90" stroke="#808080" stroke-width="0.55" />
<text transform="translate(438.80 232.60) scale(1 1.12) translate(-438.80 -232.60)" x="438.8" y="232.6" font-size="6.4" text-anchor="middle" fill="#333">CD3–CD56<tspan font-size="3.6" dy="-2.3">dim</tspan></text>
<text transform="translate(438.80 240.60) scale(1 1.12) translate(-438.80 -240.60)" x="438.8" y="240.6" font-size="6.4" text-anchor="middle" fill="#333">NK cells:</text>
<text transform="translate(438.80 253.40) scale(1 1.12) translate(-438.80 -253.40)" x="438.8" y="253.4" font-size="6.4" text-anchor="middle" fill="#333">P815 cells</text>
<text transform="translate(438.80 261.00) scale(1 1.12) translate(-438.80 -261.00)" x="438.8" y="261.0" font-size="6.4" text-anchor="middle" fill="#333">+</text>
<text transform="translate(438.80 268.80) scale(1 1.12) translate(-438.80 -268.80)" x="438.8" y="268.8" font-size="6.4" text-anchor="middle" fill="#333">CD16</text>
<text transform="translate(6.80 325.80) scale(1 1.12) translate(-6.80 -325.80)" x="6.80" y="325.80" font-size="9.8" font-weight="bold" fill="#111">D</text>
<line x1="44.40" y1="384.60" x2="139.90" y2="384.60" stroke="#cfcfcf" stroke-width="0.9" />
<line x1="180.00" y1="384.60" x2="275.50" y2="384.60" stroke="#cfcfcf" stroke-width="0.9" />
<line x1="315.80" y1="384.60" x2="411.30" y2="384.60" stroke="#cfcfcf" stroke-width="0.9" />
<line x1="44.40" y1="328.10" x2="44.40" y2="393.00" stroke="#2b2b2b" stroke-width="0.9" />
<line x1="41.20" y1="392.60" x2="44.40" y2="392.60" stroke="#2b2b2b" stroke-width="0.8" />
<text transform="translate(37.80 394.60) scale(1 1.12) translate(-37.80 -394.60)" x="37.80" y="394.60" font-size="5.9" text-anchor="end" fill="#333">0</text>
<line x1="41.20" y1="384.61" x2="44.40" y2="384.61" stroke="#2b2b2b" stroke-width="0.8" />
<text transform="translate(37.80 386.61) scale(1 1.12) translate(-37.80 -386.61)" x="37.80" y="386.61" font-size="5.9" text-anchor="end" fill="#333">10</text>
<line x1="41.20" y1="376.62" x2="44.40" y2="376.62" stroke="#2b2b2b" stroke-width="0.8" />
<text transform="translate(37.80 378.62) scale(1 1.12) translate(-37.80 -378.62)" x="37.80" y="378.62" font-size="5.9" text-anchor="end" fill="#333">20</text>
<line x1="41.20" y1="368.64" x2="44.40" y2="368.64" stroke="#2b2b2b" stroke-width="0.8" />
<text transform="translate(37.80 370.64) scale(1 1.12) translate(-37.80 -370.64)" x="37.80" y="370.64" font-size="5.9" text-anchor="end" fill="#333">30</text>
<line x1="41.20" y1="360.65" x2="44.40" y2="360.65" stroke="#2b2b2b" stroke-width="0.8" />
<text transform="translate(37.80 362.65) scale(1 1.12) translate(-37.80 -362.65)" x="37.80" y="362.65" font-size="5.9" text-anchor="end" fill="#333">40</text>
<line x1="41.20" y1="352.66" x2="44.40" y2="352.66" stroke="#2b2b2b" stroke-width="0.8" />
<text transform="translate(37.80 354.66) scale(1 1.12) translate(-37.80 -354.66)" x="37.80" y="354.66" font-size="5.9" text-anchor="end" fill="#333">50</text>
<line x1="41.20" y1="344.68" x2="44.40" y2="344.68" stroke="#2b2b2b" stroke-width="0.8" />
<text transform="translate(37.80 346.68) scale(1 1.12) translate(-37.80 -346.68)" x="37.80" y="346.68" font-size="5.9" text-anchor="end" fill="#333">60</text>
<line x1="41.20" y1="336.69" x2="44.40" y2="336.69" stroke="#2b2b2b" stroke-width="0.8" />
<text transform="translate(37.80 338.69) scale(1 1.12) translate(-37.80 -338.69)" x="37.80" y="338.69" font-size="5.9" text-anchor="end" fill="#333">70</text>
<line x1="41.20" y1="328.70" x2="44.40" y2="328.70" stroke="#2b2b2b" stroke-width="0.8" />
<text transform="translate(37.80 330.70) scale(1 1.12) translate(-37.80 -330.70)" x="37.80" y="330.70" font-size="5.9" text-anchor="end" fill="#333">80</text>
<line x1="44.40" y1="392.60" x2="141.90" y2="392.60" stroke="#2b2b2b" stroke-width="0.9" />
<line x1="44.40" y1="392.60" x2="44.40" y2="394.80" stroke="#2b2b2b" stroke-width="0.8" />
<text transform="translate(44.40 403.80) scale(1 1.12) translate(-44.40 -403.80)" x="44.40" y="403.80" font-size="5.8" text-anchor="middle" fill="#333">0</text>
<line x1="68.15" y1="392.60" x2="68.15" y2="394.80" stroke="#2b2b2b" stroke-width="0.8" />
<text transform="translate(68.15 403.80) scale(1 1.12) translate(-68.15 -403.80)" x="68.15" y="403.80" font-size="5.8" text-anchor="middle" fill="#333">20</text>
<line x1="91.90" y1="392.60" x2="91.90" y2="394.80" stroke="#2b2b2b" stroke-width="0.8" />
<text transform="translate(91.90 403.80) scale(1 1.12) translate(-91.90 -403.80)" x="91.90" y="403.80" font-size="5.8" text-anchor="middle" fill="#333">40</text>
<line x1="115.65" y1="392.60" x2="115.65" y2="394.80" stroke="#2b2b2b" stroke-width="0.8" />
<text transform="translate(115.65 403.80) scale(1 1.12) translate(-115.65 -403.80)" x="115.65" y="403.80" font-size="5.8" text-anchor="middle" fill="#333">60</text>
<line x1="139.40" y1="392.60" x2="139.40" y2="394.80" stroke="#2b2b2b" stroke-width="0.8" />
<text transform="translate(139.40 403.80) scale(1 1.12) translate(-139.40 -403.80)" x="139.40" y="403.80" font-size="5.8" text-anchor="middle" fill="#333">80</text>
<line x1="180.00" y1="328.10" x2="180.00" y2="393.00" stroke="#2b2b2b" stroke-width="0.9" />
<line x1="176.80" y1="392.60" x2="180.00" y2="392.60" stroke="#2b2b2b" stroke-width="0.8" />
<text transform="translate(173.40 394.60) scale(1 1.12) translate(-173.40 -394.60)" x="173.40" y="394.60" font-size="5.9" text-anchor="end" fill="#333">0</text>
<line x1="176.80" y1="384.61" x2="180.00" y2="384.61" stroke="#2b2b2b" stroke-width="0.8" />
<text transform="translate(173.40 386.61) scale(1 1.12) translate(-173.40 -386.61)" x="173.40" y="386.61" font-size="5.9" text-anchor="end" fill="#333">10</text>
<line x1="176.80" y1="376.62" x2="180.00" y2="376.62" stroke="#2b2b2b" stroke-width="0.8" />
<text transform="translate(173.40 378.62) scale(1 1.12) translate(-173.40 -378.62)" x="173.40" y="378.62" font-size="5.9" text-anchor="end" fill="#333">20</text>
<line x1="176.80" y1="368.64" x2="180.00" y2="368.64" stroke="#2b2b2b" stroke-width="0.8" />
<text transform="translate(173.40 370.64) scale(1 1.12) translate(-173.40 -370.64)" x="173.40" y="370.64" font-size="5.9" text-anchor="end" fill="#333">30</text>
<line x1="176.80" y1="360.65" x2="180.00" y2="360.65" stroke="#2b2b2b" stroke-width="0.8" />
<text transform="translate(173.40 362.65) scale(1 1.12) translate(-173.40 -362.65)" x="173.40" y="362.65" font-size="5.9" text-anchor="end" fill="#333">40</text>
<line x1="176.80" y1="352.66" x2="180.00" y2="352.66" stroke="#2b2b2b" stroke-width="0.8" />
<text transform="translate(173.40 354.66) scale(1 1.12) translate(-173.40 -354.66)" x="173.40" y="354.66" font-size="5.9" text-anchor="end" fill="#333">50</text>
<line x1="176.80" y1="344.68" x2="180.00" y2="344.68" stroke="#2b2b2b" stroke-width="0.8" />
<text transform="translate(173.40 346.68) scale(1 1.12) translate(-173.40 -346.68)" x="173.40" y="346.68" font-size="5.9" text-anchor="end" fill="#333">60</text>
<line x1="176.80" y1="336.69" x2="180.00" y2="336.69" stroke="#2b2b2b" stroke-width="0.8" />
<text transform="translate(173.40 338.69) scale(1 1.12) translate(-173.40 -338.69)" x="173.40" y="338.69" font-size="5.9" text-anchor="end" fill="#333">70</text>
<line x1="176.80" y1="328.70" x2="180.00" y2="328.70" stroke="#2b2b2b" stroke-width="0.8" />
<text transform="translate(173.40 330.70) scale(1 1.12) translate(-173.40 -330.70)" x="173.40" y="330.70" font-size="5.9" text-anchor="end" fill="#333">80</text>
<line x1="180.00" y1="392.60" x2="277.50" y2="392.60" stroke="#2b2b2b" stroke-width="0.9" />
<line x1="180.00" y1="392.60" x2="180.00" y2="394.80" stroke="#2b2b2b" stroke-width="0.8" />
<text transform="translate(180.00 403.80) scale(1 1.12) translate(-180.00 -403.80)" x="180.00" y="403.80" font-size="5.8" text-anchor="middle" fill="#333">0</text>
<line x1="203.75" y1="392.60" x2="203.75" y2="394.80" stroke="#2b2b2b" stroke-width="0.8" />
<text transform="translate(203.75 403.80) scale(1 1.12) translate(-203.75 -403.80)" x="203.75" y="403.80" font-size="5.8" text-anchor="middle" fill="#333">20</text>
<line x1="227.50" y1="392.60" x2="227.50" y2="394.80" stroke="#2b2b2b" stroke-width="0.8" />
<text transform="translate(227.50 403.80) scale(1 1.12) translate(-227.50 -403.80)" x="227.50" y="403.80" font-size="5.8" text-anchor="middle" fill="#333">40</text>
<line x1="251.25" y1="392.60" x2="251.25" y2="394.80" stroke="#2b2b2b" stroke-width="0.8" />
<text transform="translate(251.25 403.80) scale(1 1.12) translate(-251.25 -403.80)" x="251.25" y="403.80" font-size="5.8" text-anchor="middle" fill="#333">60</text>
<line x1="275.00" y1="392.60" x2="275.00" y2="394.80" stroke="#2b2b2b" stroke-width="0.8" />
<text transform="translate(275.00 403.80) scale(1 1.12) translate(-275.00 -403.80)" x="275.00" y="403.80" font-size="5.8" text-anchor="middle" fill="#333">80</text>
<line x1="315.80" y1="328.10" x2="315.80" y2="393.00" stroke="#2b2b2b" stroke-width="0.9" />
<line x1="312.60" y1="392.60" x2="315.80" y2="392.60" stroke="#2b2b2b" stroke-width="0.8" />
<text transform="translate(309.20 394.60) scale(1 1.12) translate(-309.20 -394.60)" x="309.20" y="394.60" font-size="5.9" text-anchor="end" fill="#333">0</text>
<line x1="312.60" y1="384.61" x2="315.80" y2="384.61" stroke="#2b2b2b" stroke-width="0.8" />
<text transform="translate(309.20 386.61) scale(1 1.12) translate(-309.20 -386.61)" x="309.20" y="386.61" font-size="5.9" text-anchor="end" fill="#333">10</text>
<line x1="312.60" y1="376.62" x2="315.80" y2="376.62" stroke="#2b2b2b" stroke-width="0.8" />
<text transform="translate(309.20 378.62) scale(1 1.12) translate(-309.20 -378.62)" x="309.20" y="378.62" font-size="5.9" text-anchor="end" fill="#333">20</text>
<line x1="312.60" y1="368.64" x2="315.80" y2="368.64" stroke="#2b2b2b" stroke-width="0.8" />
<text transform="translate(309.20 370.64) scale(1 1.12) translate(-309.20 -370.64)" x="309.20" y="370.64" font-size="5.9" text-anchor="end" fill="#333">30</text>
<line x1="312.60" y1="360.65" x2="315.80" y2="360.65" stroke="#2b2b2b" stroke-width="0.8" />
<text transform="translate(309.20 362.65) scale(1 1.12) translate(-309.20 -362.65)" x="309.20" y="362.65" font-size="5.9" text-anchor="end" fill="#333">40</text>
<line x1="312.60" y1="352.66" x2="315.80" y2="352.66" stroke="#2b2b2b" stroke-width="0.8" />
<text transform="translate(309.20 354.66) scale(1 1.12) translate(-309.20 -354.66)" x="309.20" y="354.66" font-size="5.9" text-anchor="end" fill="#333">50</text>
<line x1="312.60" y1="344.68" x2="315.80" y2="344.68" stroke="#2b2b2b" stroke-width="0.8" />
<text transform="translate(309.20 346.68) scale(1 1.12) translate(-309.20 -346.68)" x="309.20" y="346.68" font-size="5.9" text-anchor="end" fill="#333">60</text>
<line x1="312.60" y1="336.69" x2="315.80" y2="336.69" stroke="#2b2b2b" stroke-width="0.8" />
<text transform="translate(309.20 338.69) scale(1 1.12) translate(-309.20 -338.69)" x="309.20" y="338.69" font-size="5.9" text-anchor="end" fill="#333">70</text>
<line x1="312.60" y1="328.70" x2="315.80" y2="328.70" stroke="#2b2b2b" stroke-width="0.8" />
<text transform="translate(309.20 330.70) scale(1 1.12) translate(-309.20 -330.70)" x="309.20" y="330.70" font-size="5.9" text-anchor="end" fill="#333">80</text>
<line x1="315.80" y1="392.60" x2="413.30" y2="392.60" stroke="#2b2b2b" stroke-width="0.9" />
<line x1="315.80" y1="392.60" x2="315.80" y2="394.80" stroke="#2b2b2b" stroke-width="0.8" />
<text transform="translate(315.80 403.80) scale(1 1.12) translate(-315.80 -403.80)" x="315.80" y="403.80" font-size="5.8" text-anchor="middle" fill="#333">0</text>
<line x1="339.55" y1="392.60" x2="339.55" y2="394.80" stroke="#2b2b2b" stroke-width="0.8" />
<text transform="translate(339.55 403.80) scale(1 1.12) translate(-339.55 -403.80)" x="339.55" y="403.80" font-size="5.8" text-anchor="middle" fill="#333">20</text>
<line x1="363.30" y1="392.60" x2="363.30" y2="394.80" stroke="#2b2b2b" stroke-width="0.8" />
<text transform="translate(363.30 403.80) scale(1 1.12) translate(-363.30 -403.80)" x="363.30" y="403.80" font-size="5.8" text-anchor="middle" fill="#333">40</text>
<line x1="387.05" y1="392.60" x2="387.05" y2="394.80" stroke="#2b2b2b" stroke-width="0.8" />
<text transform="translate(387.05 403.80) scale(1 1.12) translate(-387.05 -403.80)" x="387.05" y="403.80" font-size="5.8" text-anchor="middle" fill="#333">60</text>
<line x1="410.80" y1="392.60" x2="410.80" y2="394.80" stroke="#2b2b2b" stroke-width="0.8" />
<text transform="translate(410.80 403.80) scale(1 1.12) translate(-410.80 -403.80)" x="410.80" y="403.80" font-size="5.8" text-anchor="middle" fill="#333">80</text>
<text x="26.0" y="359.0" font-size="6.6" text-anchor="middle" fill="#333" transform="rotate(-90 26.0 359.0) translate(26.00 359.00) scale(1 1.12) translate(-26.00 -359.00)">ΔCD107a<tspan font-size="4.4" dy="-2.4">+</tspan><tspan dy="2.4"> (%)</tspan></text>
<text transform="translate(93.60 415.40) scale(1 1.12) translate(-93.60 -415.40)" x="93.6" y="415.4" font-size="6.6" text-anchor="middle" fill="#333">FcεRγ<tspan font-size="4.2" dy="-2.4">−</tspan><tspan dy="2.4"> (%)</tspan></text>
<text transform="translate(228.80 415.80) scale(1 1.12) translate(-228.80 -415.80)" x="228.8" y="415.8" font-size="6.6" text-anchor="middle" fill="#333">EAT-2<tspan font-size="4.2" dy="-2.4">−</tspan><tspan dy="2.4"> (%)</tspan></text>
<text transform="translate(364.80 415.80) scale(1 1.12) translate(-364.80 -415.80)" x="364.8" y="415.8" font-size="6.6" text-anchor="middle" fill="#333">SYK<tspan font-size="4.2" dy="-2.4">−</tspan><tspan dy="2.4"> (%)</tspan></text>
<text transform="translate(106.60 350.60) scale(1 1.12) translate(-106.60 -350.60)" x="106.6" y="350.6" font-size="6.3" fill="#333">R<tspan font-size="4" dy="-2.4">2</tspan><tspan dy="2.4"> = 0.193</tspan></text>
<text transform="translate(106.60 360.40) scale(1 1.12) translate(-106.60 -360.40)" x="106.6" y="360.4" font-size="6.3" fill="#333"><tspan font-style="italic">P</tspan> = .0009</text>
<text transform="translate(243.40 350.60) scale(1 1.12) translate(-243.40 -350.60)" x="243.4" y="350.6" font-size="6.3" fill="#333">R<tspan font-size="4" dy="-2.4">2</tspan><tspan dy="2.4"> = 0.074</tspan></text>
<text transform="translate(243.40 360.40) scale(1 1.12) translate(-243.40 -360.40)" x="243.40" y="360.40" font-size="6.3" fill="#333">n.s.</text>
<text transform="translate(379.00 350.60) scale(1 1.12) translate(-379.00 -350.60)" x="379.0" y="350.6" font-size="6.3" fill="#333">R<tspan font-size="4" dy="-2.4">2</tspan><tspan dy="2.4"> = 0.111</tspan></text>
<text transform="translate(379.00 360.40) scale(1 1.12) translate(-379.00 -360.40)" x="379.0" y="360.4" font-size="6.3" fill="#333"><tspan font-style="italic">P</tspan> = .02</text>
<line x1="47.80" y1="361.50" x2="47.80" y2="383.70" stroke="#999" stroke-width="0.55" />
<rect x="46.20" y="369.00" width="3.20" height="9.80" fill="#dfe7ac" />
<line x1="46.20" y1="373.90" x2="49.40" y2="373.90" stroke="#8a9a50" stroke-width="0.6" />
<circle cx="47.60" cy="361.50" r="1.25" fill="#aab878" stroke="#46562a" stroke-width="0.6" />
<circle cx="48.00" cy="365.40" r="1.25" fill="#aab878" stroke="#46562a" stroke-width="0.6" />
<circle cx="47.80" cy="383.70" r="1.55" fill="#6a7348" stroke="#2d3320" stroke-width="0.6" />
<rect x="58.07" y="365.50" width="1.70" height="1.70" fill="#9090d6" />
<rect x="60.38" y="364.53" width="1.70" height="1.70" fill="#9090d6" />
<rect x="62.30" y="363.57" width="1.70" height="1.70" fill="#9090d6" />
<rect x="64.23" y="364.53" width="1.70" height="1.70" fill="#9090d6" />
<rect x="64.61" y="369.92" width="1.70" height="1.70" fill="#9090d6" />
<rect x="70.00" y="363.00" width="1.70" height="1.70" fill="#9090d6" />
<rect x="78.65" y="364.53" width="1.70" height="1.70" fill="#9090d6" />
<rect x="56.15" y="372.23" width="1.70" height="1.70" fill="#9090d6" />
<rect x="57.50" y="371.27" width="1.70" height="1.70" fill="#9090d6" />
<rect x="58.84" y="370.69" width="1.70" height="1.70" fill="#9090d6" />
<rect x="55.57" y="374.53" width="1.70" height="1.70" fill="#9090d6" />
<rect x="57.50" y="375.11" width="1.70" height="1.70" fill="#9090d6" />
<rect x="59.42" y="376.07" width="1.70" height="1.70" fill="#9090d6" />
<rect x="61.34" y="374.53" width="1.70" height="1.70" fill="#9090d6" />
<rect x="56.53" y="378.00" width="1.70" height="1.70" fill="#9090d6" />
<rect x="58.46" y="379.53" width="1.70" height="1.70" fill="#9090d6" />
<rect x="60.38" y="380.30" width="1.70" height="1.70" fill="#9090d6" />
<rect x="56.15" y="381.46" width="1.70" height="1.70" fill="#9090d6" />
<rect x="65.19" y="373.19" width="1.70" height="1.70" fill="#9090d6" />
<rect x="68.07" y="374.15" width="1.70" height="1.70" fill="#9090d6" />
<rect x="69.61" y="370.69" width="1.70" height="1.70" fill="#9090d6" />
<rect x="70.96" y="375.11" width="1.70" height="1.70" fill="#9090d6" />
<rect x="71.92" y="377.03" width="1.70" height="1.70" fill="#9090d6" />
<rect x="72.88" y="378.96" width="1.70" height="1.70" fill="#9090d6" />
<rect x="74.80" y="379.92" width="1.70" height="1.70" fill="#9090d6" />
<rect x="75.77" y="376.07" width="1.70" height="1.70" fill="#9090d6" />
<rect x="76.73" y="373.77" width="1.70" height="1.70" fill="#9090d6" />
<rect x="79.61" y="376.07" width="1.70" height="1.70" fill="#9090d6" />
<rect x="81.53" y="377.03" width="1.70" height="1.70" fill="#9090d6" />
<rect x="89.23" y="371.27" width="1.70" height="1.70" fill="#9090d6" />
<rect x="85.38" y="378.96" width="1.70" height="1.70" fill="#9090d6" />
<rect x="96.92" y="378.00" width="1.70" height="1.70" fill="#9090d6" />
<rect x="96.92" y="380.88" width="1.70" height="1.70" fill="#9090d6" />
<rect x="108.46" y="378.00" width="1.70" height="1.70" fill="#9090d6" />
<rect x="121.92" y="381.84" width="1.70" height="1.70" fill="#9090d6" />
<rect x="121.92" y="379.92" width="1.70" height="1.70" fill="#9090d6" />
<rect x="59.42" y="373.19" width="1.70" height="1.70" fill="#9090d6" />
<rect x="62.30" y="377.03" width="1.70" height="1.70" fill="#9090d6" />
<rect x="66.15" y="378.00" width="1.70" height="1.70" fill="#9090d6" />
<line x1="56.40" y1="373.00" x2="127.60" y2="379.80" stroke="#808080" stroke-width="0.55" />
<line x1="56.40" y1="374.00" x2="127.60" y2="381.70" stroke="#808080" stroke-width="0.55" />
<line x1="56.40" y1="375.40" x2="127.60" y2="382.70" stroke="#808080" stroke-width="0.55" />
<circle cx="67.00" cy="385.60" r="2.1" fill="#f0cc58" stroke="#c9951a" stroke-width="1.1" />
<circle cx="73.70" cy="386.20" r="2.1" fill="#f0cc58" stroke="#c9951a" stroke-width="1.1" />
<circle cx="114.70" cy="385.60" r="2.3" fill="#b01030" stroke="#7a0a20" stroke-width="0.5" />
<circle cx="122.80" cy="387.50" r="2.3" fill="#b01030" stroke="#7a0a20" stroke-width="0.5" />
<circle cx="128.90" cy="387.70" r="2.3" fill="#b01030" stroke="#7a0a20" stroke-width="0.5" />
<line x1="183.20" y1="362.00" x2="183.20" y2="383.70" stroke="#999" stroke-width="0.55" />
<rect x="181.60" y="371.00" width="3.20" height="9.80" fill="#dfe7ac" />
<line x1="181.60" y1="375.90" x2="184.80" y2="375.90" stroke="#8a9a50" stroke-width="0.6" />
<circle cx="183.00" cy="362.00" r="1.25" fill="#aab878" stroke="#46562a" stroke-width="0.6" />
<circle cx="183.40" cy="365.60" r="1.25" fill="#aab878" stroke="#46562a" stroke-width="0.6" />
<circle cx="183.20" cy="383.70" r="1.55" fill="#6a7348" stroke="#2d3320" stroke-width="0.6" />
<rect x="188.65" y="360.69" width="1.70" height="1.70" fill="#9090d6" />
<rect x="189.23" y="363.57" width="1.70" height="1.70" fill="#9090d6" />
<rect x="186.73" y="370.30" width="1.70" height="1.70" fill="#9090d6" />
<rect x="187.69" y="373.19" width="1.70" height="1.70" fill="#9090d6" />
<rect x="188.65" y="375.11" width="1.70" height="1.70" fill="#9090d6" />
<rect x="186.73" y="376.07" width="1.70" height="1.70" fill="#9090d6" />
<rect x="189.61" y="376.07" width="1.70" height="1.70" fill="#9090d6" />
<rect x="187.69" y="378.96" width="1.70" height="1.70" fill="#9090d6" />
<rect x="188.65" y="380.88" width="1.70" height="1.70" fill="#9090d6" />
<rect x="190.57" y="381.84" width="1.70" height="1.70" fill="#9090d6" />
<rect x="191.53" y="372.23" width="1.70" height="1.70" fill="#9090d6" />
<rect x="193.46" y="381.84" width="1.70" height="1.70" fill="#9090d6" />
<rect x="197.30" y="369.34" width="1.70" height="1.70" fill="#9090d6" />
<rect x="198.27" y="379.92" width="1.70" height="1.70" fill="#9090d6" />
<rect x="200.19" y="374.15" width="1.70" height="1.70" fill="#9090d6" />
<rect x="201.15" y="373.19" width="1.70" height="1.70" fill="#9090d6" />
<rect x="204.03" y="361.65" width="1.70" height="1.70" fill="#9090d6" />
<rect x="205.96" y="374.53" width="1.70" height="1.70" fill="#9090d6" />
<rect x="207.88" y="369.34" width="1.70" height="1.70" fill="#9090d6" />
<rect x="207.88" y="381.84" width="1.70" height="1.70" fill="#9090d6" />
<rect x="210.77" y="375.11" width="1.70" height="1.70" fill="#9090d6" />
<rect x="212.69" y="379.92" width="1.70" height="1.70" fill="#9090d6" />
<rect x="214.61" y="377.03" width="1.70" height="1.70" fill="#9090d6" />
<rect x="217.50" y="370.30" width="1.70" height="1.70" fill="#9090d6" />
<rect x="220.38" y="385.69" width="1.70" height="1.70" fill="#9090d6" />
<rect x="233.84" y="385.69" width="1.70" height="1.70" fill="#9090d6" />
<rect x="241.53" y="381.84" width="1.70" height="1.70" fill="#9090d6" />
<rect x="243.46" y="381.46" width="1.70" height="1.70" fill="#9090d6" />
<rect x="189.61" y="374.53" width="1.70" height="1.70" fill="#9090d6" />
<rect x="191.53" y="377.03" width="1.70" height="1.70" fill="#9090d6" />
<line x1="188.50" y1="375.40" x2="244.30" y2="376.50" stroke="#808080" stroke-width="0.55" />
<line x1="188.50" y1="376.00" x2="244.30" y2="382.30" stroke="#808080" stroke-width="0.55" />
<line x1="188.50" y1="377.30" x2="244.30" y2="388.00" stroke="#808080" stroke-width="0.55" />
<line x1="317.80" y1="362.00" x2="317.80" y2="384.60" stroke="#999" stroke-width="0.55" />
<rect x="316.20" y="371.00" width="3.20" height="9.80" fill="#dfe7ac" />
<line x1="316.20" y1="375.90" x2="319.40" y2="375.90" stroke="#8a9a50" stroke-width="0.6" />
<circle cx="317.60" cy="362.00" r="1.25" fill="#aab878" stroke="#46562a" stroke-width="0.6" />
<circle cx="318.00" cy="365.60" r="1.25" fill="#aab878" stroke="#46562a" stroke-width="0.6" />
<circle cx="317.80" cy="384.60" r="1.55" fill="#6a7348" stroke="#2d3320" stroke-width="0.6" />
<rect x="319.84" y="360.69" width="1.70" height="1.70" fill="#9090d6" />
<rect x="322.73" y="362.61" width="1.70" height="1.70" fill="#9090d6" />
<rect x="320.80" y="364.53" width="1.70" height="1.70" fill="#9090d6" />
<rect x="323.69" y="365.50" width="1.70" height="1.70" fill="#9090d6" />
<rect x="320.80" y="368.38" width="1.70" height="1.70" fill="#9090d6" />
<rect x="324.65" y="368.38" width="1.70" height="1.70" fill="#9090d6" />
<rect x="321.77" y="371.27" width="1.70" height="1.70" fill="#9090d6" />
<rect x="323.69" y="372.23" width="1.70" height="1.70" fill="#9090d6" />
<rect x="326.57" y="372.23" width="1.70" height="1.70" fill="#9090d6" />
<rect x="320.80" y="374.15" width="1.70" height="1.70" fill="#9090d6" />
<rect x="322.73" y="375.11" width="1.70" height="1.70" fill="#9090d6" />
<rect x="324.65" y="376.07" width="1.70" height="1.70" fill="#9090d6" />
<rect x="327.53" y="375.11" width="1.70" height="1.70" fill="#9090d6" />
<rect x="321.77" y="378.00" width="1.70" height="1.70" fill="#9090d6" />
<rect x="323.69" y="377.03" width="1.70" height="1.70" fill="#9090d6" />
<rect x="329.46" y="376.07" width="1.70" height="1.70" fill="#9090d6" />
<rect x="332.34" y="379.92" width="1.70" height="1.70" fill="#9090d6" />
<rect x="333.30" y="380.88" width="1.70" height="1.70" fill="#9090d6" />
<rect x="335.23" y="386.65" width="1.70" height="1.70" fill="#9090d6" />
<rect x="342.92" y="378.96" width="1.70" height="1.70" fill="#9090d6" />
<rect x="343.88" y="376.07" width="1.70" height="1.70" fill="#9090d6" />
<rect x="346.77" y="364.53" width="1.70" height="1.70" fill="#9090d6" />
<rect x="346.77" y="381.84" width="1.70" height="1.70" fill="#9090d6" />
<rect x="350.61" y="370.30" width="1.70" height="1.70" fill="#9090d6" />
<rect x="358.30" y="375.11" width="1.70" height="1.70" fill="#9090d6" />
<rect x="359.27" y="370.30" width="1.70" height="1.70" fill="#9090d6" />
<rect x="364.07" y="381.84" width="1.70" height="1.70" fill="#9090d6" />
<rect x="375.61" y="380.88" width="1.70" height="1.70" fill="#9090d6" />
<rect x="385.23" y="386.65" width="1.70" height="1.70" fill="#9090d6" />
<rect x="397.73" y="380.88" width="1.70" height="1.70" fill="#9090d6" />
<rect x="322.73" y="373.19" width="1.70" height="1.70" fill="#9090d6" />
<rect x="325.61" y="374.15" width="1.70" height="1.70" fill="#9090d6" />
<rect x="321.77" y="376.07" width="1.70" height="1.70" fill="#9090d6" />
<line x1="320.70" y1="374.00" x2="398.60" y2="377.00" stroke="#808080" stroke-width="0.55" />
<line x1="320.70" y1="375.40" x2="398.60" y2="382.30" stroke="#808080" stroke-width="0.55" />
<line x1="320.70" y1="376.50" x2="398.60" y2="388.50" stroke="#808080" stroke-width="0.55" />
<text transform="translate(438.80 351.00) scale(1 1.12) translate(-438.80 -351.00)" x="438.8" y="351.0" font-size="6.4" text-anchor="middle" fill="#333">CD3–CD56<tspan font-size="3.6" dy="-2.3">dim</tspan></text>
<text transform="translate(438.80 359.00) scale(1 1.12) translate(-438.80 -359.00)" x="438.8" y="359.0" font-size="6.4" text-anchor="middle" fill="#333">NK cells:</text>
<text transform="translate(438.80 371.70) scale(1 1.12) translate(-438.80 -371.70)" x="438.8" y="371.7" font-size="6.4" text-anchor="middle" fill="#333">K562 cells</text>
<text transform="translate(7.00 435.20) scale(1 1.12) translate(-7.00 -435.20)" x="7.00" y="435.20" font-size="9.8" font-weight="bold" fill="#111">E</text>
<line x1="42.60" y1="442.54" x2="42.60" y2="506.50" stroke="#2b2b2b" stroke-width="0.9" />
<line x1="40.70" y1="506.10" x2="42.60" y2="506.10" stroke="#2b2b2b" stroke-width="0.9" />
<text transform="translate(37.10 508.30) scale(1 1.12) translate(-37.10 -508.30)" x="37.10" y="508.30" font-size="6.4" text-anchor="end" fill="#333">0</text>
<line x1="40.70" y1="498.23" x2="42.60" y2="498.23" stroke="#2b2b2b" stroke-width="0.9" />
<text transform="translate(37.10 500.43) scale(1 1.12) translate(-37.10 -500.43)" x="37.10" y="500.43" font-size="6.4" text-anchor="end" fill="#333">10</text>
<line x1="40.70" y1="490.36" x2="42.60" y2="490.36" stroke="#2b2b2b" stroke-width="0.9" />
<text transform="translate(37.10 492.56) scale(1 1.12) translate(-37.10 -492.56)" x="37.10" y="492.56" font-size="6.4" text-anchor="end" fill="#333">20</text>
<line x1="40.70" y1="482.49" x2="42.60" y2="482.49" stroke="#2b2b2b" stroke-width="0.9" />
<text transform="translate(37.10 484.69) scale(1 1.12) translate(-37.10 -484.69)" x="37.10" y="484.69" font-size="6.4" text-anchor="end" fill="#333">30</text>
<line x1="40.70" y1="474.62" x2="42.60" y2="474.62" stroke="#2b2b2b" stroke-width="0.9" />
<text transform="translate(37.10 476.82) scale(1 1.12) translate(-37.10 -476.82)" x="37.10" y="476.82" font-size="6.4" text-anchor="end" fill="#333">40</text>
<line x1="40.70" y1="466.75" x2="42.60" y2="466.75" stroke="#2b2b2b" stroke-width="0.9" />
<text transform="translate(37.10 468.95) scale(1 1.12) translate(-37.10 -468.95)" x="37.10" y="468.95" font-size="6.4" text-anchor="end" fill="#333">50</text>
<line x1="40.70" y1="458.88" x2="42.60" y2="458.88" stroke="#2b2b2b" stroke-width="0.9" />
<text transform="translate(37.10 461.08) scale(1 1.12) translate(-37.10 -461.08)" x="37.10" y="461.08" font-size="6.4" text-anchor="end" fill="#333">60</text>
<line x1="40.70" y1="451.01" x2="42.60" y2="451.01" stroke="#2b2b2b" stroke-width="0.9" />
<text transform="translate(37.10 453.21) scale(1 1.12) translate(-37.10 -453.21)" x="37.10" y="453.21" font-size="6.4" text-anchor="end" fill="#333">70</text>
<line x1="40.70" y1="443.14" x2="42.60" y2="443.14" stroke="#2b2b2b" stroke-width="0.9" />
<text transform="translate(37.10 445.34) scale(1 1.12) translate(-37.10 -445.34)" x="37.10" y="445.34" font-size="6.4" text-anchor="end" fill="#333">80</text>
<text x="25.0" y="472.5" font-size="6.6" text-anchor="middle" fill="#333" transform="rotate(-90 25.0 472.5) translate(25.00 472.50) scale(1 1.12) translate(-25.00 -472.50)">ΔCD107a<tspan font-size="4.4" dy="-2.4">+</tspan><tspan dy="2.4"> (%)</tspan></text>
<line x1="42.60" y1="506.10" x2="429.50" y2="506.10" stroke="#2b2b2b" stroke-width="0.9" />
<line x1="55.50" y1="503.80" x2="55.50" y2="502.00" stroke="#333" stroke-width="0.8" />
<line x1="52.50" y1="502.00" x2="58.50" y2="502.00" stroke="#333" stroke-width="0.9" />
<rect x="50.50" y="503.80" width="10.00" height="2.30" fill="#cccccc" />
<line x1="55.50" y1="506.10" x2="55.50" y2="508.10" stroke="#333" stroke-width="0.8" />
<line x1="68.70" y1="504.90" x2="68.70" y2="503.60" stroke="#333" stroke-width="0.8" />
<line x1="65.70" y1="503.60" x2="71.70" y2="503.60" stroke="#333" stroke-width="0.9" />
<rect x="63.70" y="504.90" width="10.00" height="1.20" fill="#cccccc" />
<line x1="68.70" y1="506.10" x2="68.70" y2="508.10" stroke="#333" stroke-width="0.8" />
<line x1="81.90" y1="504.30" x2="81.90" y2="502.60" stroke="#333" stroke-width="0.8" />
<line x1="78.90" y1="502.60" x2="84.90" y2="502.60" stroke="#333" stroke-width="0.9" />
<rect x="76.90" y="504.30" width="10.00" height="1.80" fill="#cccccc" />
<line x1="81.90" y1="506.10" x2="81.90" y2="508.10" stroke="#333" stroke-width="0.8" />
<line x1="95.10" y1="505.40" x2="95.10" y2="505.00" stroke="#333" stroke-width="0.8" />
<line x1="92.10" y1="505.00" x2="98.10" y2="505.00" stroke="#333" stroke-width="0.9" />
<rect x="90.10" y="505.40" width="10.00" height="0.70" fill="#cccccc" />
<line x1="95.10" y1="506.10" x2="95.10" y2="508.10" stroke="#333" stroke-width="0.8" />
<line x1="108.30" y1="505.00" x2="108.30" y2="504.00" stroke="#333" stroke-width="0.8" />
<line x1="105.30" y1="504.00" x2="111.30" y2="504.00" stroke="#333" stroke-width="0.9" />
<rect x="103.30" y="505.00" width="10.00" height="1.10" fill="#cccccc" />
<line x1="108.30" y1="506.10" x2="108.30" y2="508.10" stroke="#333" stroke-width="0.8" />
<line x1="121.50" y1="505.40" x2="121.50" y2="505.00" stroke="#333" stroke-width="0.8" />
<line x1="118.50" y1="505.00" x2="124.50" y2="505.00" stroke="#333" stroke-width="0.9" />
<rect x="116.50" y="505.40" width="10.00" height="0.70" fill="#cccccc" />
<line x1="121.50" y1="506.10" x2="121.50" y2="508.10" stroke="#333" stroke-width="0.8" />
<line x1="134.70" y1="505.00" x2="134.70" y2="504.00" stroke="#333" stroke-width="0.8" />
<line x1="131.70" y1="504.00" x2="137.70" y2="504.00" stroke="#333" stroke-width="0.9" />
<rect x="129.70" y="505.00" width="10.00" height="1.10" fill="#cccccc" />
<line x1="134.70" y1="506.10" x2="134.70" y2="508.10" stroke="#333" stroke-width="0.8" />
<line x1="147.90" y1="504.30" x2="147.90" y2="502.40" stroke="#333" stroke-width="0.8" />
<line x1="144.90" y1="502.40" x2="150.90" y2="502.40" stroke="#333" stroke-width="0.9" />
<rect x="142.90" y="504.30" width="10.00" height="1.80" fill="#cccccc" />
<line x1="147.90" y1="506.10" x2="147.90" y2="508.10" stroke="#333" stroke-width="0.8" />
<line x1="161.10" y1="505.40" x2="161.10" y2="505.00" stroke="#333" stroke-width="0.8" />
<line x1="158.10" y1="505.00" x2="164.10" y2="505.00" stroke="#333" stroke-width="0.9" />
<rect x="156.10" y="505.40" width="10.00" height="0.70" fill="#cccccc" />
<line x1="161.10" y1="506.10" x2="161.10" y2="508.10" stroke="#333" stroke-width="0.8" />
<line x1="187.10" y1="498.60" x2="187.10" y2="494.20" stroke="#333" stroke-width="0.8" />
<line x1="184.10" y1="494.20" x2="190.10" y2="494.20" stroke="#333" stroke-width="0.9" />
<rect x="182.10" y="498.60" width="10.00" height="7.50" fill="#114d8c" />
<line x1="187.10" y1="506.10" x2="187.10" y2="508.10" stroke="#333" stroke-width="0.8" />
<line x1="200.50" y1="463.50" x2="200.50" y2="446.80" stroke="#333" stroke-width="0.8" />
<line x1="197.50" y1="446.80" x2="203.50" y2="446.80" stroke="#333" stroke-width="0.9" />
<rect x="195.50" y="463.50" width="10.00" height="42.60" fill="#114d8c" />
<line x1="200.50" y1="506.10" x2="200.50" y2="508.10" stroke="#333" stroke-width="0.8" />
<line x1="213.50" y1="464.00" x2="213.50" y2="446.80" stroke="#333" stroke-width="0.8" />
<line x1="210.50" y1="446.80" x2="216.50" y2="446.80" stroke="#333" stroke-width="0.9" />
<rect x="208.50" y="464.00" width="10.00" height="42.10" fill="#114d8c" />
<line x1="213.50" y1="506.10" x2="213.50" y2="508.10" stroke="#333" stroke-width="0.8" />
<line x1="226.80" y1="464.30" x2="226.80" y2="452.20" stroke="#333" stroke-width="0.8" />
<line x1="223.80" y1="452.20" x2="229.80" y2="452.20" stroke="#333" stroke-width="0.9" />
<rect x="221.80" y="464.30" width="10.00" height="41.80" fill="#114d8c" />
<line x1="226.80" y1="506.10" x2="226.80" y2="508.10" stroke="#333" stroke-width="0.8" />
<line x1="239.70" y1="472.40" x2="239.70" y2="453.50" stroke="#333" stroke-width="0.8" />
<line x1="236.70" y1="453.50" x2="242.70" y2="453.50" stroke="#333" stroke-width="0.9" />
<rect x="234.70" y="472.40" width="10.00" height="33.70" fill="#114d8c" />
<line x1="239.70" y1="506.10" x2="239.70" y2="508.10" stroke="#333" stroke-width="0.8" />
<line x1="252.60" y1="468.30" x2="252.60" y2="453.50" stroke="#333" stroke-width="0.8" />
<line x1="249.60" y1="453.50" x2="255.60" y2="453.50" stroke="#333" stroke-width="0.9" />
<rect x="247.60" y="468.30" width="10.00" height="37.80" fill="#114d8c" />
<line x1="252.60" y1="506.10" x2="252.60" y2="508.10" stroke="#333" stroke-width="0.8" />
<line x1="265.70" y1="475.60" x2="265.70" y2="456.70" stroke="#333" stroke-width="0.8" />
<line x1="262.70" y1="456.70" x2="268.70" y2="456.70" stroke="#333" stroke-width="0.9" />
<rect x="260.70" y="475.60" width="10.00" height="30.50" fill="#114d8c" />
<line x1="265.70" y1="506.10" x2="265.70" y2="508.10" stroke="#333" stroke-width="0.8" />
<line x1="278.70" y1="479.60" x2="278.70" y2="460.00" stroke="#333" stroke-width="0.8" />
<line x1="275.70" y1="460.00" x2="281.70" y2="460.00" stroke="#333" stroke-width="0.9" />
<rect x="273.70" y="479.60" width="10.00" height="26.50" fill="#114d8c" />
<line x1="278.70" y1="506.10" x2="278.70" y2="508.10" stroke="#333" stroke-width="0.8" />
<line x1="292.10" y1="481.00" x2="292.10" y2="466.40" stroke="#333" stroke-width="0.8" />
<line x1="289.10" y1="466.40" x2="295.10" y2="466.40" stroke="#333" stroke-width="0.9" />
<rect x="287.10" y="481.00" width="10.00" height="25.10" fill="#114d8c" />
<line x1="292.10" y1="506.10" x2="292.10" y2="508.10" stroke="#333" stroke-width="0.8" />
<line x1="318.40" y1="494.80" x2="318.40" y2="489.20" stroke="#333" stroke-width="0.8" />
<line x1="315.40" y1="489.20" x2="321.40" y2="489.20" stroke="#333" stroke-width="0.9" />
<rect x="313.40" y="494.80" width="10.00" height="11.30" fill="#3cae37" />
<line x1="318.40" y1="506.10" x2="318.40" y2="508.10" stroke="#333" stroke-width="0.8" />
<line x1="331.30" y1="477.90" x2="331.30" y2="466.30" stroke="#333" stroke-width="0.8" />
<line x1="328.30" y1="466.30" x2="334.30" y2="466.30" stroke="#333" stroke-width="0.9" />
<rect x="326.30" y="477.90" width="10.00" height="28.20" fill="#3cae37" />
<line x1="331.30" y1="506.10" x2="331.30" y2="508.10" stroke="#333" stroke-width="0.8" />
<line x1="344.50" y1="489.80" x2="344.50" y2="479.30" stroke="#333" stroke-width="0.8" />
<line x1="341.50" y1="479.30" x2="347.50" y2="479.30" stroke="#333" stroke-width="0.9" />
<rect x="339.50" y="489.80" width="10.00" height="16.30" fill="#3cae37" />
<line x1="344.50" y1="506.10" x2="344.50" y2="508.10" stroke="#333" stroke-width="0.8" />
<line x1="357.60" y1="479.80" x2="357.60" y2="464.50" stroke="#333" stroke-width="0.8" />
<line x1="354.60" y1="464.50" x2="360.60" y2="464.50" stroke="#333" stroke-width="0.9" />
<rect x="352.60" y="479.80" width="10.00" height="26.30" fill="#3cae37" />
<line x1="357.60" y1="506.10" x2="357.60" y2="508.10" stroke="#333" stroke-width="0.8" />
<line x1="371.00" y1="480.60" x2="371.00" y2="468.20" stroke="#333" stroke-width="0.8" />
<line x1="368.00" y1="468.20" x2="374.00" y2="468.20" stroke="#333" stroke-width="0.9" />
<rect x="366.00" y="480.60" width="10.00" height="25.50" fill="#3cae37" />
<line x1="371.00" y1="506.10" x2="371.00" y2="508.10" stroke="#333" stroke-width="0.8" />
<line x1="383.90" y1="494.00" x2="383.90" y2="484.70" stroke="#333" stroke-width="0.8" />
<line x1="380.90" y1="484.70" x2="386.90" y2="484.70" stroke="#333" stroke-width="0.9" />
<rect x="378.90" y="494.00" width="10.00" height="12.10" fill="#3cae37" />
<line x1="383.90" y1="506.10" x2="383.90" y2="508.10" stroke="#333" stroke-width="0.8" />
<line x1="396.90" y1="497.30" x2="396.90" y2="489.80" stroke="#333" stroke-width="0.8" />
<line x1="393.90" y1="489.80" x2="399.90" y2="489.80" stroke="#333" stroke-width="0.9" />
<rect x="391.90" y="497.30" width="10.00" height="8.80" fill="#3cae37" />
<line x1="396.90" y1="506.10" x2="396.90" y2="508.10" stroke="#333" stroke-width="0.8" />
<line x1="410.10" y1="494.60" x2="410.10" y2="485.70" stroke="#333" stroke-width="0.8" />
<line x1="407.10" y1="485.70" x2="413.10" y2="485.70" stroke="#333" stroke-width="0.9" />
<rect x="405.10" y="494.60" width="10.00" height="11.50" fill="#3cae37" />
<line x1="410.10" y1="506.10" x2="410.10" y2="508.10" stroke="#333" stroke-width="0.8" />
<line x1="423.50" y1="499.50" x2="423.50" y2="493.30" stroke="#333" stroke-width="0.8" />
<line x1="420.50" y1="493.30" x2="426.50" y2="493.30" stroke="#333" stroke-width="0.9" />
<rect x="418.50" y="499.50" width="10.00" height="6.60" fill="#3cae37" />
<line x1="423.50" y1="506.10" x2="423.50" y2="508.10" stroke="#333" stroke-width="0.8" />
<line x1="42.60" y1="506.10" x2="429.50" y2="506.10" stroke="#2b2b2b" stroke-width="0.9" />
<text x="57.60" y="522.0" font-size="6.0" text-anchor="middle" fill="#333" transform="rotate(-90 57.60 522.0) translate(57.60 522.00) scale(1 1.12) translate(-57.60 -522.00)">bright</text>
<text transform="translate(68.70 515.90) scale(1 1.12) translate(-68.70 -515.90)" x="68.70" y="515.90" font-size="6.4" text-anchor="middle" fill="#333">+</text>
<text transform="translate(81.90 515.90) scale(1 1.12) translate(-81.90 -515.90)" x="81.90" y="515.90" font-size="6.4" text-anchor="middle" fill="#333">−</text>
<text transform="translate(95.10 515.90) scale(1 1.12) translate(-95.10 -515.90)" x="95.10" y="515.90" font-size="6.4" text-anchor="middle" fill="#333">+</text>
<text transform="translate(108.30 515.90) scale(1 1.12) translate(-108.30 -515.90)" x="108.30" y="515.90" font-size="6.4" text-anchor="middle" fill="#333">+</text>
<text transform="translate(121.50 515.90) scale(1 1.12) translate(-121.50 -515.90)" x="121.50" y="515.90" font-size="6.4" text-anchor="middle" fill="#333">−</text>
<text transform="translate(134.70 515.90) scale(1 1.12) translate(-134.70 -515.90)" x="134.70" y="515.90" font-size="6.4" text-anchor="middle" fill="#333">−</text>
<text transform="translate(147.90 515.90) scale(1 1.12) translate(-147.90 -515.90)" x="147.90" y="515.90" font-size="6.4" text-anchor="middle" fill="#333">+</text>
<text transform="translate(161.10 515.90) scale(1 1.12) translate(-161.10 -515.90)" x="161.10" y="515.90" font-size="6.4" text-anchor="middle" fill="#333">−</text>
<text transform="translate(68.70 522.50) scale(1 1.12) translate(-68.70 -522.50)" x="68.70" y="522.50" font-size="6.4" text-anchor="middle" fill="#333">+</text>
<text transform="translate(81.90 522.50) scale(1 1.12) translate(-81.90 -522.50)" x="81.90" y="522.50" font-size="6.4" text-anchor="middle" fill="#333">+</text>
<text transform="translate(95.10 522.50) scale(1 1.12) translate(-95.10 -522.50)" x="95.10" y="522.50" font-size="6.4" text-anchor="middle" fill="#333">−</text>
<text transform="translate(108.30 522.50) scale(1 1.12) translate(-108.30 -522.50)" x="108.30" y="522.50" font-size="6.4" text-anchor="middle" fill="#333">+</text>
<text transform="translate(121.50 522.50) scale(1 1.12) translate(-121.50 -522.50)" x="121.50" y="522.50" font-size="6.4" text-anchor="middle" fill="#333">−</text>
<text transform="translate(134.70 522.50) scale(1 1.12) translate(-134.70 -522.50)" x="134.70" y="522.50" font-size="6.4" text-anchor="middle" fill="#333">+</text>
<text transform="translate(147.90 522.50) scale(1 1.12) translate(-147.90 -522.50)" x="147.90" y="522.50" font-size="6.4" text-anchor="middle" fill="#333">−</text>
<text transform="translate(161.10 522.50) scale(1 1.12) translate(-161.10 -522.50)" x="161.10" y="522.50" font-size="6.4" text-anchor="middle" fill="#333">−</text>
<text transform="translate(68.70 529.10) scale(1 1.12) translate(-68.70 -529.10)" x="68.70" y="529.10" font-size="6.4" text-anchor="middle" fill="#333">+</text>
<text transform="translate(81.90 529.10) scale(1 1.12) translate(-81.90 -529.10)" x="81.90" y="529.10" font-size="6.4" text-anchor="middle" fill="#333">+</text>
<text transform="translate(95.10 529.10) scale(1 1.12) translate(-95.10 -529.10)" x="95.10" y="529.10" font-size="6.4" text-anchor="middle" fill="#333">+</text>
<text transform="translate(108.30 529.10) scale(1 1.12) translate(-108.30 -529.10)" x="108.30" y="529.10" font-size="6.4" text-anchor="middle" fill="#333">−</text>
<text transform="translate(121.50 529.10) scale(1 1.12) translate(-121.50 -529.10)" x="121.50" y="529.10" font-size="6.4" text-anchor="middle" fill="#333">+</text>
<text transform="translate(134.70 529.10) scale(1 1.12) translate(-134.70 -529.10)" x="134.70" y="529.10" font-size="6.4" text-anchor="middle" fill="#333">−</text>
<text transform="translate(147.90 529.10) scale(1 1.12) translate(-147.90 -529.10)" x="147.90" y="529.10" font-size="6.4" text-anchor="middle" fill="#333">−</text>
<text transform="translate(161.10 529.10) scale(1 1.12) translate(-161.10 -529.10)" x="161.10" y="529.10" font-size="6.4" text-anchor="middle" fill="#333">−</text>
<text x="189.20" y="522.0" font-size="6.0" text-anchor="middle" fill="#333" transform="rotate(-90 189.20 522.0) translate(189.20 522.00) scale(1 1.12) translate(-189.20 -522.00)">bright</text>
<text transform="translate(200.50 515.90) scale(1 1.12) translate(-200.50 -515.90)" x="200.50" y="515.90" font-size="6.4" text-anchor="middle" fill="#333">+</text>
<text transform="translate(213.50 515.90) scale(1 1.12) translate(-213.50 -515.90)" x="213.50" y="515.90" font-size="6.4" text-anchor="middle" fill="#333">−</text>
<text transform="translate(226.80 515.90) scale(1 1.12) translate(-226.80 -515.90)" x="226.80" y="515.90" font-size="6.4" text-anchor="middle" fill="#333">+</text>
<text transform="translate(239.70 515.90) scale(1 1.12) translate(-239.70 -515.90)" x="239.70" y="515.90" font-size="6.4" text-anchor="middle" fill="#333">+</text>
<text transform="translate(252.60 515.90) scale(1 1.12) translate(-252.60 -515.90)" x="252.60" y="515.90" font-size="6.4" text-anchor="middle" fill="#333">−</text>
<text transform="translate(265.70 515.90) scale(1 1.12) translate(-265.70 -515.90)" x="265.70" y="515.90" font-size="6.4" text-anchor="middle" fill="#333">−</text>
<text transform="translate(278.70 515.90) scale(1 1.12) translate(-278.70 -515.90)" x="278.70" y="515.90" font-size="6.4" text-anchor="middle" fill="#333">+</text>
<text transform="translate(292.10 515.90) scale(1 1.12) translate(-292.10 -515.90)" x="292.10" y="515.90" font-size="6.4" text-anchor="middle" fill="#333">−</text>
<text transform="translate(200.50 522.50) scale(1 1.12) translate(-200.50 -522.50)" x="200.50" y="522.50" font-size="6.4" text-anchor="middle" fill="#333">+</text>
<text transform="translate(213.50 522.50) scale(1 1.12) translate(-213.50 -522.50)" x="213.50" y="522.50" font-size="6.4" text-anchor="middle" fill="#333">+</text>
<text transform="translate(226.80 522.50) scale(1 1.12) translate(-226.80 -522.50)" x="226.80" y="522.50" font-size="6.4" text-anchor="middle" fill="#333">−</text>
<text transform="translate(239.70 522.50) scale(1 1.12) translate(-239.70 -522.50)" x="239.70" y="522.50" font-size="6.4" text-anchor="middle" fill="#333">+</text>
<text transform="translate(252.60 522.50) scale(1 1.12) translate(-252.60 -522.50)" x="252.60" y="522.50" font-size="6.4" text-anchor="middle" fill="#333">−</text>
<text transform="translate(265.70 522.50) scale(1 1.12) translate(-265.70 -522.50)" x="265.70" y="522.50" font-size="6.4" text-anchor="middle" fill="#333">+</text>
<text transform="translate(278.70 522.50) scale(1 1.12) translate(-278.70 -522.50)" x="278.70" y="522.50" font-size="6.4" text-anchor="middle" fill="#333">−</text>
<text transform="translate(292.10 522.50) scale(1 1.12) translate(-292.10 -522.50)" x="292.10" y="522.50" font-size="6.4" text-anchor="middle" fill="#333">−</text>
<text transform="translate(200.50 529.10) scale(1 1.12) translate(-200.50 -529.10)" x="200.50" y="529.10" font-size="6.4" text-anchor="middle" fill="#333">+</text>
<text transform="translate(213.50 529.10) scale(1 1.12) translate(-213.50 -529.10)" x="213.50" y="529.10" font-size="6.4" text-anchor="middle" fill="#333">+</text>
<text transform="translate(226.80 529.10) scale(1 1.12) translate(-226.80 -529.10)" x="226.80" y="529.10" font-size="6.4" text-anchor="middle" fill="#333">+</text>
<text transform="translate(239.70 529.10) scale(1 1.12) translate(-239.70 -529.10)" x="239.70" y="529.10" font-size="6.4" text-anchor="middle" fill="#333">−</text>
<text transform="translate(252.60 529.10) scale(1 1.12) translate(-252.60 -529.10)" x="252.60" y="529.10" font-size="6.4" text-anchor="middle" fill="#333">+</text>
<text transform="translate(265.70 529.10) scale(1 1.12) translate(-265.70 -529.10)" x="265.70" y="529.10" font-size="6.4" text-anchor="middle" fill="#333">−</text>
<text transform="translate(278.70 529.10) scale(1 1.12) translate(-278.70 -529.10)" x="278.70" y="529.10" font-size="6.4" text-anchor="middle" fill="#333">−</text>
<text transform="translate(292.10 529.10) scale(1 1.12) translate(-292.10 -529.10)" x="292.10" y="529.10" font-size="6.4" text-anchor="middle" fill="#333">−</text>
<text x="320.50" y="522.0" font-size="6.0" text-anchor="middle" fill="#333" transform="rotate(-90 320.50 522.0) translate(320.50 522.00) scale(1 1.12) translate(-320.50 -522.00)">bright</text>
<text transform="translate(331.30 515.90) scale(1 1.12) translate(-331.30 -515.90)" x="331.30" y="515.90" font-size="6.4" text-anchor="middle" fill="#333">+</text>
<text transform="translate(344.50 515.90) scale(1 1.12) translate(-344.50 -515.90)" x="344.50" y="515.90" font-size="6.4" text-anchor="middle" fill="#333">−</text>
<text transform="translate(357.60 515.90) scale(1 1.12) translate(-357.60 -515.90)" x="357.60" y="515.90" font-size="6.4" text-anchor="middle" fill="#333">+</text>
<text transform="translate(371.00 515.90) scale(1 1.12) translate(-371.00 -515.90)" x="371.00" y="515.90" font-size="6.4" text-anchor="middle" fill="#333">+</text>
<text transform="translate(383.90 515.90) scale(1 1.12) translate(-383.90 -515.90)" x="383.90" y="515.90" font-size="6.4" text-anchor="middle" fill="#333">−</text>
<text transform="translate(396.90 515.90) scale(1 1.12) translate(-396.90 -515.90)" x="396.90" y="515.90" font-size="6.4" text-anchor="middle" fill="#333">−</text>
<text transform="translate(410.10 515.90) scale(1 1.12) translate(-410.10 -515.90)" x="410.10" y="515.90" font-size="6.4" text-anchor="middle" fill="#333">+</text>
<text transform="translate(423.50 515.90) scale(1 1.12) translate(-423.50 -515.90)" x="423.50" y="515.90" font-size="6.4" text-anchor="middle" fill="#333">−</text>
<text transform="translate(331.30 522.50) scale(1 1.12) translate(-331.30 -522.50)" x="331.30" y="522.50" font-size="6.4" text-anchor="middle" fill="#333">+</text>
<text transform="translate(344.50 522.50) scale(1 1.12) translate(-344.50 -522.50)" x="344.50" y="522.50" font-size="6.4" text-anchor="middle" fill="#333">+</text>
<text transform="translate(357.60 522.50) scale(1 1.12) translate(-357.60 -522.50)" x="357.60" y="522.50" font-size="6.4" text-anchor="middle" fill="#333">−</text>
<text transform="translate(371.00 522.50) scale(1 1.12) translate(-371.00 -522.50)" x="371.00" y="522.50" font-size="6.4" text-anchor="middle" fill="#333">+</text>
<text transform="translate(383.90 522.50) scale(1 1.12) translate(-383.90 -522.50)" x="383.90" y="522.50" font-size="6.4" text-anchor="middle" fill="#333">−</text>
<text transform="translate(396.90 522.50) scale(1 1.12) translate(-396.90 -522.50)" x="396.90" y="522.50" font-size="6.4" text-anchor="middle" fill="#333">+</text>
<text transform="translate(410.10 522.50) scale(1 1.12) translate(-410.10 -522.50)" x="410.10" y="522.50" font-size="6.4" text-anchor="middle" fill="#333">−</text>
<text transform="translate(423.50 522.50) scale(1 1.12) translate(-423.50 -522.50)" x="423.50" y="522.50" font-size="6.4" text-anchor="middle" fill="#333">−</text>
<text transform="translate(331.30 529.10) scale(1 1.12) translate(-331.30 -529.10)" x="331.30" y="529.10" font-size="6.4" text-anchor="middle" fill="#333">+</text>
<text transform="translate(344.50 529.10) scale(1 1.12) translate(-344.50 -529.10)" x="344.50" y="529.10" font-size="6.4" text-anchor="middle" fill="#333">+</text>
<text transform="translate(357.60 529.10) scale(1 1.12) translate(-357.60 -529.10)" x="357.60" y="529.10" font-size="6.4" text-anchor="middle" fill="#333">+</text>
<text transform="translate(371.00 529.10) scale(1 1.12) translate(-371.00 -529.10)" x="371.00" y="529.10" font-size="6.4" text-anchor="middle" fill="#333">−</text>
<text transform="translate(383.90 529.10) scale(1 1.12) translate(-383.90 -529.10)" x="383.90" y="529.10" font-size="6.4" text-anchor="middle" fill="#333">+</text>
<text transform="translate(396.90 529.10) scale(1 1.12) translate(-396.90 -529.10)" x="396.90" y="529.10" font-size="6.4" text-anchor="middle" fill="#333">−</text>
<text transform="translate(410.10 529.10) scale(1 1.12) translate(-410.10 -529.10)" x="410.10" y="529.10" font-size="6.4" text-anchor="middle" fill="#333">−</text>
<text transform="translate(423.50 529.10) scale(1 1.12) translate(-423.50 -529.10)" x="423.50" y="529.10" font-size="6.4" text-anchor="middle" fill="#333">−</text>
<text transform="translate(430.20 515.40) scale(1 1.12) translate(-430.20 -515.40)" x="430.20" y="515.40" font-size="6.3" fill="#333">FcεRγ</text>
<text transform="translate(430.20 522.00) scale(1 1.12) translate(-430.20 -522.00)" x="430.20" y="522.00" font-size="6.3" fill="#333">SYK</text>
<text transform="translate(430.20 528.60) scale(1 1.12) translate(-430.20 -528.60)" x="430.20" y="528.60" font-size="6.3" fill="#333">EAT-2</text>
<line x1="64.10" y1="535.50" x2="73.30" y2="535.50" stroke="#888" stroke-width="1.3" />
<line x1="77.50" y1="535.50" x2="165.90" y2="535.50" stroke="#888" stroke-width="1.3" />
<text transform="translate(62.90 544.40) scale(1 1.12) translate(-62.90 -544.40)" x="62.90" y="544.40" font-size="6.4" text-anchor="middle" fill="#333">Canonical</text>
<text transform="translate(63.40 551.80) scale(1 1.12) translate(-63.40 -551.80)" x="63.40" y="551.80" font-size="6.4" text-anchor="middle" fill="#333">NK cells</text>
<text transform="translate(122.10 544.40) scale(1 1.12) translate(-122.10 -544.40)" x="122.10" y="544.40" font-size="6.4" text-anchor="middle" fill="#333">adaptive NK cell subsets</text>
<line x1="195.90" y1="535.50" x2="205.10" y2="535.50" stroke="#888" stroke-width="1.3" />
<line x1="209.10" y1="535.50" x2="296.90" y2="535.50" stroke="#888" stroke-width="1.3" />
<text transform="translate(193.70 544.40) scale(1 1.12) translate(-193.70 -544.40)" x="193.70" y="544.40" font-size="6.4" text-anchor="middle" fill="#333">Canonical</text>
<text transform="translate(194.20 551.80) scale(1 1.12) translate(-194.20 -551.80)" x="194.20" y="551.80" font-size="6.4" text-anchor="middle" fill="#333">NK cells</text>
<text transform="translate(252.00 544.40) scale(1 1.12) translate(-252.00 -544.40)" x="252.00" y="544.40" font-size="6.4" text-anchor="middle" fill="#333">Adaptive NK cell subsets</text>
<line x1="326.70" y1="535.50" x2="335.90" y2="535.50" stroke="#888" stroke-width="1.3" />
<line x1="340.10" y1="535.50" x2="428.30" y2="535.50" stroke="#888" stroke-width="1.3" />
<text transform="translate(326.00 544.40) scale(1 1.12) translate(-326.00 -544.40)" x="326.00" y="544.40" font-size="6.4" text-anchor="middle" fill="#333">Canonical</text>
<text transform="translate(326.50 551.80) scale(1 1.12) translate(-326.50 -551.80)" x="326.50" y="551.80" font-size="6.4" text-anchor="middle" fill="#333">NK cells</text>
<text transform="translate(384.80 544.40) scale(1 1.12) translate(-384.80 -544.40)" x="384.80" y="544.40" font-size="6.4" text-anchor="middle" fill="#333">Adaptive NK cell subsets</text>
<rect x="439.20" y="460.80" width="5.60" height="5.40" fill="#cccccc" />
<text transform="translate(447.80 465.70) scale(1 1.12) translate(-447.80 -465.70)" x="447.80" y="465.70" font-size="6.4" fill="#333">P815 cells</text>
<rect x="439.20" y="470.40" width="5.60" height="5.40" fill="#114d8c" />
<text transform="translate(447.80 475.30) scale(1 1.12) translate(-447.80 -475.30)" x="447.80" y="475.30" font-size="6.4" fill="#333">P815 cells + anti-CD16</text>
<rect x="439.20" y="480.30" width="5.60" height="5.40" fill="#3cae37" />
<text transform="translate(447.80 485.20) scale(1 1.12) translate(-447.80 -485.20)" x="447.80" y="485.20" font-size="6.4" fill="#333">K562 cells</text>
<text transform="translate(7.20 572.00) scale(1 1.12) translate(-7.20 -572.00)" x="7.20" y="572.00" font-size="9.8" font-weight="bold" fill="#111">F</text>
<line x1="55.20" y1="581.60" x2="55.20" y2="646.00" stroke="#2b2b2b" stroke-width="0.9" />
<line x1="52.20" y1="645.60" x2="55.20" y2="645.60" stroke="#2b2b2b" stroke-width="0.8" />
<text transform="translate(48.60 647.80) scale(1 1.12) translate(-48.60 -647.80)" x="48.60" y="647.80" font-size="6.3" text-anchor="end" fill="#333">0</text>
<line x1="52.20" y1="629.75" x2="55.20" y2="629.75" stroke="#2b2b2b" stroke-width="0.8" />
<text transform="translate(48.60 631.95) scale(1 1.12) translate(-48.60 -631.95)" x="48.60" y="631.95" font-size="6.3" text-anchor="end" fill="#333">20</text>
<line x1="52.20" y1="613.90" x2="55.20" y2="613.90" stroke="#2b2b2b" stroke-width="0.8" />
<text transform="translate(48.60 616.10) scale(1 1.12) translate(-48.60 -616.10)" x="48.60" y="616.10" font-size="6.3" text-anchor="end" fill="#333">40</text>
<line x1="52.20" y1="598.05" x2="55.20" y2="598.05" stroke="#2b2b2b" stroke-width="0.8" />
<text transform="translate(48.60 600.25) scale(1 1.12) translate(-48.60 -600.25)" x="48.60" y="600.25" font-size="6.3" text-anchor="end" fill="#333">60</text>
<line x1="52.20" y1="582.20" x2="55.20" y2="582.20" stroke="#2b2b2b" stroke-width="0.8" />
<text transform="translate(48.60 584.40) scale(1 1.12) translate(-48.60 -584.40)" x="48.60" y="584.40" font-size="6.3" text-anchor="end" fill="#333">80</text>
<line x1="55.20" y1="645.60" x2="121.40" y2="645.60" stroke="#2b2b2b" stroke-width="0.9" />
<line x1="55.20" y1="645.60" x2="55.20" y2="647.80" stroke="#2b2b2b" stroke-width="0.8" />
<text transform="translate(55.20 656.90) scale(1 1.12) translate(-55.20 -656.90)" x="55.20" y="656.90" font-size="6.0" text-anchor="middle" fill="#333">0</text>
<line x1="67.90" y1="645.60" x2="67.90" y2="647.80" stroke="#2b2b2b" stroke-width="0.8" />
<text transform="translate(67.90 656.90) scale(1 1.12) translate(-67.90 -656.90)" x="67.90" y="656.90" font-size="6.0" text-anchor="middle" fill="#333">20</text>
<line x1="80.60" y1="645.60" x2="80.60" y2="647.80" stroke="#2b2b2b" stroke-width="0.8" />
<text transform="translate(80.60 656.90) scale(1 1.12) translate(-80.60 -656.90)" x="80.60" y="656.90" font-size="6.0" text-anchor="middle" fill="#333">40</text>
<line x1="93.30" y1="645.60" x2="93.30" y2="647.80" stroke="#2b2b2b" stroke-width="0.8" />
<text transform="translate(93.30 656.90) scale(1 1.12) translate(-93.30 -656.90)" x="93.30" y="656.90" font-size="6.0" text-anchor="middle" fill="#333">60</text>
<line x1="106.00" y1="645.60" x2="106.00" y2="647.80" stroke="#2b2b2b" stroke-width="0.8" />
<text transform="translate(106.00 656.90) scale(1 1.12) translate(-106.00 -656.90)" x="106.00" y="656.90" font-size="6.0" text-anchor="middle" fill="#333">80</text>
<line x1="118.70" y1="645.60" x2="118.70" y2="647.80" stroke="#2b2b2b" stroke-width="0.8" />
<text transform="translate(118.70 656.90) scale(1 1.12) translate(-118.70 -656.90)" x="118.70" y="656.90" font-size="6.0" text-anchor="middle" fill="#333">100</text>
<text x="27.20" y="612.00" font-size="7.0" text-anchor="middle" fill="#333" transform="rotate(-90 27.20 612.00) translate(27.20 612.00) scale(1 1.12) translate(-27.20 -612.00)">CD3<tspan font-size="4.4" dy="-2.6">−</tspan><tspan dy="2.6">CD56</tspan><tspan font-size="4.4" dy="-2.6">dim</tspan><tspan dy="2.6"> NK cells:</tspan></text>
<text x="35.80" y="612.60" font-size="7.0" text-anchor="middle" fill="#333" transform="rotate(-90 35.80 612.60) translate(35.80 612.60) scale(1 1.12) translate(-35.80 -612.60)">P815 cells + anti-CD16</text>
<text transform="translate(89.60 671.60) scale(1 1.12) translate(-89.60 -671.60)" x="89.60" y="671.60" font-size="7"></text>
<text transform="translate(89.60 671.80) scale(1 1.12) translate(-89.60 -671.80)" x="89.6" y="671.8" font-size="7.0" text-anchor="middle" fill="#333">CD8<tspan font-size="4.4" dy="-2.6">+</tspan><tspan dy="2.6">CD57</tspan><tspan font-size="4.4" dy="-2.6">+</tspan><tspan dy="2.6"> T cells:</tspan></text>
<text transform="translate(89.60 682.20) scale(1 1.12) translate(-89.60 -682.20)" x="89.60" y="682.20" font-size="7.0" text-anchor="middle" fill="#333">P815 cells + anti-CD3</text>
<circle cx="103.82" cy="599.25" r="1.4" fill="#2f983a" stroke="#1a4f20" stroke-width="0.65" />
<circle cx="85.97" cy="609.32" r="1.4" fill="#2f983a" stroke="#1a4f20" stroke-width="0.65" />
<circle cx="93.14" cy="612.89" r="1.4" fill="#2f983a" stroke="#1a4f20" stroke-width="0.65" />
<circle cx="98.89" cy="610.94" r="1.4" fill="#2f983a" stroke="#1a4f20" stroke-width="0.65" />
<circle cx="101.28" cy="591.18" r="1.4" fill="#2f983a" stroke="#1a4f20" stroke-width="0.65" />
<circle cx="101.03" cy="600.19" r="1.4" fill="#2f983a" stroke="#1a4f20" stroke-width="0.65" />
<circle cx="92.77" cy="601.72" r="1.4" fill="#2f983a" stroke="#1a4f20" stroke-width="0.65" />
<circle cx="101.30" cy="610.16" r="1.4" fill="#2f983a" stroke="#1a4f20" stroke-width="0.65" />
<circle cx="102.66" cy="593.88" r="1.4" fill="#2f983a" stroke="#1a4f20" stroke-width="0.65" />
<circle cx="93.69" cy="589.30" r="1.4" fill="#2f983a" stroke="#1a4f20" stroke-width="0.65" />
<circle cx="96.43" cy="608.34" r="1.4" fill="#2f983a" stroke="#1a4f20" stroke-width="0.65" />
<circle cx="92.72" cy="606.07" r="1.4" fill="#2f983a" stroke="#1a4f20" stroke-width="0.65" />
<circle cx="98.30" cy="610.95" r="1.4" fill="#2f983a" stroke="#1a4f20" stroke-width="0.65" />
<circle cx="92.40" cy="599.19" r="1.4" fill="#2f983a" stroke="#1a4f20" stroke-width="0.65" />
<circle cx="92.73" cy="615.72" r="1.4" fill="#2f983a" stroke="#1a4f20" stroke-width="0.65" />
<circle cx="103.11" cy="603.71" r="1.4" fill="#2f983a" stroke="#1a4f20" stroke-width="0.65" />
<circle cx="98.26" cy="605.23" r="1.4" fill="#2f983a" stroke="#1a4f20" stroke-width="0.65" />
<circle cx="98.14" cy="603.16" r="1.4" fill="#2f983a" stroke="#1a4f20" stroke-width="0.65" />
<circle cx="95.13" cy="596.46" r="1.4" fill="#2f983a" stroke="#1a4f20" stroke-width="0.65" />
<circle cx="93.41" cy="615.06" r="1.4" fill="#2f983a" stroke="#1a4f20" stroke-width="0.65" />
<circle cx="100.00" cy="604.91" r="1.4" fill="#2f983a" stroke="#1a4f20" stroke-width="0.65" />
<circle cx="95.80" cy="604.90" r="1.4" fill="#2f983a" stroke="#1a4f20" stroke-width="0.65" />
<circle cx="98.98" cy="600.37" r="1.4" fill="#2f983a" stroke="#1a4f20" stroke-width="0.65" />
<circle cx="98.10" cy="606.04" r="1.4" fill="#2f983a" stroke="#1a4f20" stroke-width="0.65" />
<circle cx="92.81" cy="599.45" r="1.4" fill="#2f983a" stroke="#1a4f20" stroke-width="0.65" />
<circle cx="91.41" cy="597.69" r="1.4" fill="#2f983a" stroke="#1a4f20" stroke-width="0.65" />
<circle cx="101.98" cy="589.39" r="1.4" fill="#2f983a" stroke="#1a4f20" stroke-width="0.65" />
<circle cx="95.51" cy="600.59" r="1.4" fill="#2f983a" stroke="#1a4f20" stroke-width="0.65" />
<circle cx="93.53" cy="605.12" r="1.4" fill="#2f983a" stroke="#1a4f20" stroke-width="0.65" />
<circle cx="103.32" cy="604.99" r="1.4" fill="#2f983a" stroke="#1a4f20" stroke-width="0.65" />
<circle cx="96.21" cy="600.58" r="1.4" fill="#2f983a" stroke="#1a4f20" stroke-width="0.65" />
<circle cx="96.28" cy="610.34" r="1.4" fill="#2f983a" stroke="#1a4f20" stroke-width="0.65" />
<circle cx="94.79" cy="597.16" r="1.4" fill="#2f983a" stroke="#1a4f20" stroke-width="0.65" />
<circle cx="89.92" cy="597.42" r="1.4" fill="#2f983a" stroke="#1a4f20" stroke-width="0.65" />
<circle cx="89.22" cy="611.53" r="1.4" fill="#2f983a" stroke="#1a4f20" stroke-width="0.65" />
<circle cx="98.99" cy="602.98" r="1.4" fill="#2f983a" stroke="#1a4f20" stroke-width="0.65" />
<circle cx="105.17" cy="600.29" r="1.4" fill="#2f983a" stroke="#1a4f20" stroke-width="0.65" />
<circle cx="101.22" cy="609.63" r="1.4" fill="#2f983a" stroke="#1a4f20" stroke-width="0.65" />
<circle cx="88.34" cy="594.54" r="1.4" fill="#2f983a" stroke="#1a4f20" stroke-width="0.65" />
<circle cx="91.81" cy="610.30" r="1.4" fill="#2f983a" stroke="#1a4f20" stroke-width="0.65" />
<circle cx="104.26" cy="596.64" r="1.4" fill="#2f983a" stroke="#1a4f20" stroke-width="0.65" />
<circle cx="102.87" cy="602.05" r="1.4" fill="#2f983a" stroke="#1a4f20" stroke-width="0.65" />
<circle cx="94.80" cy="600.97" r="1.4" fill="#2f983a" stroke="#1a4f20" stroke-width="0.65" />
<circle cx="95.19" cy="592.86" r="1.4" fill="#2f983a" stroke="#1a4f20" stroke-width="0.65" />
<circle cx="91.39" cy="596.59" r="1.4" fill="#2f983a" stroke="#1a4f20" stroke-width="0.65" />
<circle cx="99.75" cy="617.87" r="1.4" fill="#2f983a" stroke="#1a4f20" stroke-width="0.65" />
<circle cx="87.36" cy="601.89" r="1.4" fill="#2f983a" stroke="#1a4f20" stroke-width="0.65" />
<circle cx="91.74" cy="617.19" r="1.4" fill="#2f983a" stroke="#1a4f20" stroke-width="0.65" />
<circle cx="100.20" cy="599.84" r="1.4" fill="#2f983a" stroke="#1a4f20" stroke-width="0.65" />
<circle cx="102.24" cy="607.93" r="1.4" fill="#2f983a" stroke="#1a4f20" stroke-width="0.65" />
<circle cx="84.88" cy="611.04" r="1.4" fill="#3a9fd6" stroke="#1a4c74" stroke-width="0.65" />
<circle cx="95.97" cy="606.23" r="1.4" fill="#3a9fd6" stroke="#1a4c74" stroke-width="0.65" />
<circle cx="84.36" cy="608.65" r="1.4" fill="#3a9fd6" stroke="#1a4c74" stroke-width="0.65" />
<circle cx="93.39" cy="614.93" r="1.4" fill="#3a9fd6" stroke="#1a4c74" stroke-width="0.65" />
<circle cx="84.92" cy="602.02" r="1.4" fill="#3a9fd6" stroke="#1a4c74" stroke-width="0.65" />
<circle cx="94.53" cy="611.56" r="1.4" fill="#3a9fd6" stroke="#1a4c74" stroke-width="0.65" />
<circle cx="98.67" cy="614.31" r="1.4" fill="#3a9fd6" stroke="#1a4c74" stroke-width="0.65" />
<circle cx="90.49" cy="607.52" r="1.4" fill="#3a9fd6" stroke="#1a4c74" stroke-width="0.65" />
<circle cx="103.85" cy="607.44" r="1.4" fill="#3a9fd6" stroke="#1a4c74" stroke-width="0.65" />
<circle cx="87.08" cy="602.85" r="1.4" fill="#3a9fd6" stroke="#1a4c74" stroke-width="0.65" />
<circle cx="91.48" cy="609.78" r="1.4" fill="#3a9fd6" stroke="#1a4c74" stroke-width="0.65" />
<circle cx="89.28" cy="608.66" r="1.4" fill="#3a9fd6" stroke="#1a4c74" stroke-width="0.65" />
<circle cx="92.37" cy="612.74" r="1.4" fill="#3a9fd6" stroke="#1a4c74" stroke-width="0.65" />
<circle cx="96.48" cy="610.13" r="1.4" fill="#3a9fd6" stroke="#1a4c74" stroke-width="0.65" />
<circle cx="82.05" cy="612.79" r="1.4" fill="#3a9fd6" stroke="#1a4c74" stroke-width="0.65" />
<circle cx="83.90" cy="608.07" r="1.4" fill="#3a9fd6" stroke="#1a4c74" stroke-width="0.65" />
<circle cx="83.63" cy="609.01" r="1.4" fill="#3a9fd6" stroke="#1a4c74" stroke-width="0.65" />
<circle cx="87.11" cy="610.15" r="1.4" fill="#3a9fd6" stroke="#1a4c74" stroke-width="0.65" />
<circle cx="107.50" cy="608.74" r="1.4" fill="#3a9fd6" stroke="#1a4c74" stroke-width="0.65" />
<circle cx="95.21" cy="601.85" r="1.4" fill="#3a9fd6" stroke="#1a4c74" stroke-width="0.65" />
<circle cx="89.56" cy="612.58" r="1.4" fill="#3a9fd6" stroke="#1a4c74" stroke-width="0.65" />
<circle cx="90.54" cy="611.00" r="1.4" fill="#3a9fd6" stroke="#1a4c74" stroke-width="0.65" />
<circle cx="91.52" cy="603.57" r="1.4" fill="#3a9fd6" stroke="#1a4c74" stroke-width="0.65" />
<circle cx="93.82" cy="604.62" r="1.4" fill="#3a9fd6" stroke="#1a4c74" stroke-width="0.65" />
<circle cx="100.36" cy="606.27" r="1.4" fill="#3a9fd6" stroke="#1a4c74" stroke-width="0.65" />
<circle cx="94.43" cy="609.01" r="1.4" fill="#3a9fd6" stroke="#1a4c74" stroke-width="0.65" />
<circle cx="95.76" cy="605.75" r="1.4" fill="#3a9fd6" stroke="#1a4c74" stroke-width="0.65" />
<circle cx="95.99" cy="608.33" r="1.4" fill="#3a9fd6" stroke="#1a4c74" stroke-width="0.65" />
<circle cx="97.32" cy="612.37" r="1.4" fill="#3a9fd6" stroke="#1a4c74" stroke-width="0.65" />
<circle cx="91.71" cy="604.79" r="1.4" fill="#3a9fd6" stroke="#1a4c74" stroke-width="0.65" />
<circle cx="94.84" cy="611.53" r="1.4" fill="#3a9fd6" stroke="#1a4c74" stroke-width="0.65" />
<circle cx="99.21" cy="606.96" r="1.4" fill="#3a9fd6" stroke="#1a4c74" stroke-width="0.65" />
<circle cx="93.77" cy="611.74" r="1.4" fill="#3a9fd6" stroke="#1a4c74" stroke-width="0.65" />
<circle cx="92.41" cy="610.13" r="1.4" fill="#3a9fd6" stroke="#1a4c74" stroke-width="0.65" />
<circle cx="91.91" cy="605.77" r="1.4" fill="#3a9fd6" stroke="#1a4c74" stroke-width="0.65" />
<circle cx="85.93" cy="606.86" r="1.4" fill="#3a9fd6" stroke="#1a4c74" stroke-width="0.65" />
<circle cx="93.95" cy="617.16" r="1.4" fill="#3a9fd6" stroke="#1a4c74" stroke-width="0.65" />
<circle cx="95.89" cy="614.69" r="1.4" fill="#3a9fd6" stroke="#1a4c74" stroke-width="0.65" />
<circle cx="94.89" cy="612.77" r="1.4" fill="#3a9fd6" stroke="#1a4c74" stroke-width="0.65" />
<circle cx="91.92" cy="613.17" r="1.4" fill="#3a9fd6" stroke="#1a4c74" stroke-width="0.65" />
<circle cx="99.87" cy="607.23" r="1.4" fill="#3a9fd6" stroke="#1a4c74" stroke-width="0.65" />
<circle cx="87.53" cy="619.58" r="1.4" fill="#3a9fd6" stroke="#1a4c74" stroke-width="0.65" />
<circle cx="92.22" cy="614.24" r="1.4" fill="#3a9fd6" stroke="#1a4c74" stroke-width="0.65" />
<circle cx="95.37" cy="602.87" r="1.4" fill="#3a9fd6" stroke="#1a4c74" stroke-width="0.65" />
<circle cx="103.17" cy="618.59" r="1.4" fill="#3a9fd6" stroke="#1a4c74" stroke-width="0.65" />
<circle cx="91.88" cy="613.06" r="1.4" fill="#3a9fd6" stroke="#1a4c74" stroke-width="0.65" />
<circle cx="91.63" cy="604.23" r="1.4" fill="#3a9fd6" stroke="#1a4c74" stroke-width="0.65" />
<circle cx="90.44" cy="611.02" r="1.4" fill="#3a9fd6" stroke="#1a4c74" stroke-width="0.65" />
<circle cx="96.58" cy="612.83" r="1.4" fill="#3a9fd6" stroke="#1a4c74" stroke-width="0.65" />
<circle cx="91.30" cy="616.32" r="1.4" fill="#3a9fd6" stroke="#1a4c74" stroke-width="0.65" />
<circle cx="87.20" cy="613.28" r="1.4" fill="#3a9fd6" stroke="#1a4c74" stroke-width="0.65" />
<circle cx="96.56" cy="607.42" r="1.4" fill="#3a9fd6" stroke="#1a4c74" stroke-width="0.65" />
<circle cx="91.98" cy="614.20" r="1.4" fill="#2f983a" stroke="#1a4f20" stroke-width="0.65" />
<circle cx="86.46" cy="615.59" r="1.4" fill="#3a9fd6" stroke="#1a4c74" stroke-width="0.65" />
<circle cx="88.63" cy="616.72" r="1.4" fill="#3a9fd6" stroke="#1a4c74" stroke-width="0.65" />
<circle cx="99.26" cy="603.65" r="1.4" fill="#2f983a" stroke="#1a4f20" stroke-width="0.65" />
<circle cx="93.14" cy="613.63" r="1.4" fill="#3a9fd6" stroke="#1a4c74" stroke-width="0.65" />
<circle cx="90.37" cy="600.61" r="1.4" fill="#3a9fd6" stroke="#1a4c74" stroke-width="0.65" />
<circle cx="90.97" cy="609.81" r="1.4" fill="#3a9fd6" stroke="#1a4c74" stroke-width="0.65" />
<circle cx="98.26" cy="608.03" r="1.4" fill="#3a9fd6" stroke="#1a4c74" stroke-width="0.65" />
<circle cx="87.53" cy="605.25" r="1.4" fill="#3a9fd6" stroke="#1a4c74" stroke-width="0.65" />
<circle cx="103.69" cy="602.96" r="1.4" fill="#2f983a" stroke="#1a4f20" stroke-width="0.65" />
<circle cx="82.95" cy="609.97" r="1.4" fill="#3a9fd6" stroke="#1a4c74" stroke-width="0.65" />
<circle cx="90.59" cy="619.05" r="1.4" fill="#3a9fd6" stroke="#1a4c74" stroke-width="0.65" />
<circle cx="101.59" cy="596.24" r="1.4" fill="#2f983a" stroke="#1a4f20" stroke-width="0.65" />
<circle cx="82.54" cy="600.99" r="1.4" fill="#3a9fd6" stroke="#1a4c74" stroke-width="0.65" />
<circle cx="92.16" cy="605.32" r="1.4" fill="#2f983a" stroke="#1a4f20" stroke-width="0.65" />
<circle cx="89.13" cy="603.00" r="1.4" fill="#3a9fd6" stroke="#1a4c74" stroke-width="0.65" />
<circle cx="90.99" cy="601.64" r="1.4" fill="#2f983a" stroke="#1a4f20" stroke-width="0.65" />
<circle cx="98.22" cy="612.20" r="1.4" fill="#2f983a" stroke="#1a4f20" stroke-width="0.65" />
<circle cx="88.61" cy="602.33" r="1.4" fill="#3a9fd6" stroke="#1a4c74" stroke-width="0.65" />
<circle cx="101.91" cy="610.33" r="1.4" fill="#3a9fd6" stroke="#1a4c74" stroke-width="0.65" />
<circle cx="93.93" cy="607.19" r="1.4" fill="#3a9fd6" stroke="#1a4c74" stroke-width="0.65" />
<circle cx="87.95" cy="606.12" r="1.4" fill="#3a9fd6" stroke="#1a4c74" stroke-width="0.65" />
<circle cx="101.17" cy="609.39" r="1.4" fill="#2f983a" stroke="#1a4f20" stroke-width="0.65" />
<circle cx="93.64" cy="602.60" r="1.4" fill="#2f983a" stroke="#1a4f20" stroke-width="0.65" />
<circle cx="92.19" cy="611.85" r="1.4" fill="#3a9fd6" stroke="#1a4c74" stroke-width="0.65" />
<circle cx="98.06" cy="600.75" r="1.4" fill="#2f983a" stroke="#1a4f20" stroke-width="0.65" />
<circle cx="87.90" cy="601.10" r="1.4" fill="#2f983a" stroke="#1a4f20" stroke-width="0.65" />
<circle cx="95.27" cy="603.67" r="1.4" fill="#3a9fd6" stroke="#1a4c74" stroke-width="0.65" />
<circle cx="103.62" cy="603.03" r="1.4" fill="#2f983a" stroke="#1a4f20" stroke-width="0.65" />
<circle cx="94.60" cy="616.69" r="1.4" fill="#3a9fd6" stroke="#1a4c74" stroke-width="0.65" />
<circle cx="98.20" cy="613.52" r="1.4" fill="#3a9fd6" stroke="#1a4c74" stroke-width="0.65" />
<circle cx="91.57" cy="617.41" r="1.4" fill="#3a9fd6" stroke="#1a4c74" stroke-width="0.65" />
<circle cx="91.85" cy="610.11" r="1.4" fill="#3a9fd6" stroke="#1a4c74" stroke-width="0.65" />
<circle cx="96.59" cy="612.09" r="1.4" fill="#3a9fd6" stroke="#1a4c74" stroke-width="0.65" />
<circle cx="90.32" cy="603.69" r="1.4" fill="#3a9fd6" stroke="#1a4c74" stroke-width="0.65" />
<circle cx="103.45" cy="612.33" r="1.4" fill="#3a9fd6" stroke="#1a4c74" stroke-width="0.65" />
<circle cx="91.89" cy="612.15" r="1.4" fill="#3a9fd6" stroke="#1a4c74" stroke-width="0.65" />
<circle cx="99.83" cy="616.56" r="1.4" fill="#2f983a" stroke="#1a4f20" stroke-width="0.65" />
<circle cx="99.02" cy="607.31" r="1.4" fill="#2f983a" stroke="#1a4f20" stroke-width="0.65" />
<circle cx="87.41" cy="609.47" r="1.4" fill="#3a9fd6" stroke="#1a4c74" stroke-width="0.65" />
<circle cx="101.28" cy="608.53" r="1.4" fill="#3a9fd6" stroke="#1a4c74" stroke-width="0.65" />
<circle cx="99.22" cy="602.62" r="1.4" fill="#3a9fd6" stroke="#1a4c74" stroke-width="0.65" />
<circle cx="88.07" cy="603.44" r="1.4" fill="#2f983a" stroke="#1a4f20" stroke-width="0.65" />
<circle cx="97.66" cy="610.36" r="1.4" fill="#3a9fd6" stroke="#1a4c74" stroke-width="0.65" />
<circle cx="98.05" cy="610.02" r="1.4" fill="#3a9fd6" stroke="#1a4c74" stroke-width="0.65" />
<circle cx="92.62" cy="598.54" r="1.4" fill="#2f983a" stroke="#1a4f20" stroke-width="0.65" />
<circle cx="83.33" cy="613.75" r="1.4" fill="#3a9fd6" stroke="#1a4c74" stroke-width="0.65" />
<circle cx="90.21" cy="596.20" r="1.4" fill="#3a9fd6" stroke="#1a4c74" stroke-width="0.65" />
<circle cx="85.05" cy="605.33" r="1.4" fill="#3a9fd6" stroke="#1a4c74" stroke-width="0.65" />
<circle cx="94.74" cy="614.51" r="1.4" fill="#2f983a" stroke="#1a4f20" stroke-width="0.65" />
<circle cx="88.84" cy="611.23" r="1.4" fill="#2f983a" stroke="#1a4f20" stroke-width="0.65" />
<circle cx="94.94" cy="609.44" r="1.4" fill="#3a9fd6" stroke="#1a4c74" stroke-width="0.65" />
<circle cx="96.02" cy="604.05" r="1.4" fill="#3a9fd6" stroke="#1a4c74" stroke-width="0.65" />
<circle cx="94.27" cy="610.63" r="1.4" fill="#3a9fd6" stroke="#1a4c74" stroke-width="0.65" />
<circle cx="94.93" cy="610.31" r="1.4" fill="#2f983a" stroke="#1a4f20" stroke-width="0.65" />
<circle cx="103.15" cy="602.01" r="1.4" fill="#2f983a" stroke="#1a4f20" stroke-width="0.65" />
<circle cx="87.11" cy="595.80" r="1.4" fill="#3a9fd6" stroke="#1a4c74" stroke-width="0.65" />
<circle cx="91.01" cy="612.50" r="1.4" fill="#3a9fd6" stroke="#1a4c74" stroke-width="0.65" />
<circle cx="95.03" cy="621.49" r="1.4" fill="#3a9fd6" stroke="#1a4c74" stroke-width="0.65" />
<circle cx="82.05" cy="604.11" r="1.4" fill="#3a9fd6" stroke="#1a4c74" stroke-width="0.65" />
<circle cx="88.61" cy="607.74" r="1.4" fill="#3a9fd6" stroke="#1a4c74" stroke-width="0.65" />
<circle cx="90.38" cy="601.91" r="1.4" fill="#3a9fd6" stroke="#1a4c74" stroke-width="0.65" />
<circle cx="97.22" cy="603.15" r="1.4" fill="#2f983a" stroke="#1a4f20" stroke-width="0.65" />
<circle cx="96.24" cy="611.69" r="1.4" fill="#2f983a" stroke="#1a4f20" stroke-width="0.65" />
<circle cx="95.95" cy="603.57" r="1.4" fill="#2f983a" stroke="#1a4f20" stroke-width="0.65" />
<circle cx="89.34" cy="609.64" r="1.4" fill="#3a9fd6" stroke="#1a4c74" stroke-width="0.65" />
<circle cx="81.89" cy="605.15" r="1.4" fill="#3a9fd6" stroke="#1a4c74" stroke-width="0.65" />
<circle cx="97.74" cy="602.33" r="1.4" fill="#2f983a" stroke="#1a4f20" stroke-width="0.65" />
<circle cx="84.18" cy="617.66" r="1.4" fill="#3a9fd6" stroke="#1a4c74" stroke-width="0.65" />
<circle cx="93.98" cy="597.45" r="1.4" fill="#3a9fd6" stroke="#1a4c74" stroke-width="0.65" />
<circle cx="91.38" cy="602.91" r="1.4" fill="#2f983a" stroke="#1a4f20" stroke-width="0.65" />
<circle cx="99.63" cy="602.98" r="1.4" fill="#2f983a" stroke="#1a4f20" stroke-width="0.65" />
<circle cx="90.12" cy="597.45" r="1.4" fill="#3a9fd6" stroke="#1a4c74" stroke-width="0.65" />
<circle cx="103.78" cy="593.14" r="1.4" fill="#2f983a" stroke="#1a4f20" stroke-width="0.65" />
<circle cx="97.25" cy="612.72" r="1.4" fill="#3a9fd6" stroke="#1a4c74" stroke-width="0.65" />
<circle cx="82.11" cy="612.76" r="1.4" fill="#3a9fd6" stroke="#1a4c74" stroke-width="0.65" />
<circle cx="100.98" cy="597.68" r="1.4" fill="#2f983a" stroke="#1a4f20" stroke-width="0.65" />
<circle cx="99.79" cy="612.78" r="1.4" fill="#2f983a" stroke="#1a4f20" stroke-width="0.65" />
<circle cx="87.57" cy="606.44" r="1.4" fill="#3a9fd6" stroke="#1a4c74" stroke-width="0.65" />
<circle cx="88.94" cy="610.20" r="1.4" fill="#3a9fd6" stroke="#1a4c74" stroke-width="0.65" />
<circle cx="98.74" cy="603.58" r="1.4" fill="#3a9fd6" stroke="#1a4c74" stroke-width="0.65" />
<circle cx="95.66" cy="604.62" r="1.4" fill="#2f983a" stroke="#1a4f20" stroke-width="0.65" />
<circle cx="101.83" cy="591.90" r="1.4" fill="#2f983a" stroke="#1a4f20" stroke-width="0.65" />
<circle cx="90.54" cy="602.81" r="1.4" fill="#2f983a" stroke="#1a4f20" stroke-width="0.65" />
<circle cx="96.25" cy="602.30" r="1.4" fill="#2f983a" stroke="#1a4f20" stroke-width="0.65" />
<circle cx="87.30" cy="603.50" r="1.9" fill="#b4112e" stroke="#7d0a1f" stroke-width="0.65" />
<circle cx="97.10" cy="607.50" r="1.9" fill="#b4112e" stroke="#7d0a1f" stroke-width="0.65" />
<circle cx="86.10" cy="624.80" r="2.1" fill="#b4112e" stroke="#7d0a1f" stroke-width="0.65" />
<circle cx="97.70" cy="618.40" r="1.9" fill="#f2c21b" stroke="#b48a10" stroke-width="0.65" />
<circle cx="100.20" cy="623.60" r="1.9" fill="#f2c21b" stroke="#b48a10" stroke-width="0.65" />
<circle cx="78.30" cy="621.90" r="2.0" fill="#173f6b" stroke="#0e2a48" stroke-width="0.65" />
<circle cx="87.30" cy="631.10" r="2.0" fill="#173f6b" stroke="#0e2a48" stroke-width="0.65" />
<circle cx="88.50" cy="634.00" r="2.0" fill="#173f6b" stroke="#0e2a48" stroke-width="0.65" />
<text transform="translate(139.80 572.00) scale(1 1.12) translate(-139.80 -572.00)" x="139.80" y="572.00" font-size="10.0" font-weight="bold" fill="#111">G</text>
<line x1="189.90" y1="581.50" x2="189.90" y2="646.00" stroke="#2b2b2b" stroke-width="0.9" />
<line x1="186.90" y1="645.60" x2="189.90" y2="645.60" stroke="#2b2b2b" stroke-width="0.8" />
<text transform="translate(183.30 647.80) scale(1 1.12) translate(-183.30 -647.80)" x="183.30" y="647.80" font-size="6.3" text-anchor="end" fill="#333">0</text>
<line x1="186.90" y1="629.73" x2="189.90" y2="629.73" stroke="#2b2b2b" stroke-width="0.8" />
<text transform="translate(183.30 631.93) scale(1 1.12) translate(-183.30 -631.93)" x="183.30" y="631.93" font-size="6.3" text-anchor="end" fill="#333">10</text>
<line x1="186.90" y1="613.85" x2="189.90" y2="613.85" stroke="#2b2b2b" stroke-width="0.8" />
<text transform="translate(183.30 616.05) scale(1 1.12) translate(-183.30 -616.05)" x="183.30" y="616.05" font-size="6.3" text-anchor="end" fill="#333">20</text>
<line x1="186.90" y1="597.98" x2="189.90" y2="597.98" stroke="#2b2b2b" stroke-width="0.8" />
<text transform="translate(183.30 600.18) scale(1 1.12) translate(-183.30 -600.18)" x="183.30" y="600.18" font-size="6.3" text-anchor="end" fill="#333">30</text>
<line x1="186.90" y1="582.10" x2="189.90" y2="582.10" stroke="#2b2b2b" stroke-width="0.8" />
<text transform="translate(183.30 584.30) scale(1 1.12) translate(-183.30 -584.30)" x="183.30" y="584.30" font-size="6.3" text-anchor="end" fill="#333">40</text>
<line x1="189.90" y1="645.60" x2="255.60" y2="645.60" stroke="#2b2b2b" stroke-width="0.9" />
<line x1="189.90" y1="645.60" x2="189.90" y2="647.80" stroke="#2b2b2b" stroke-width="0.8" />
<text transform="translate(189.90 656.90) scale(1 1.12) translate(-189.90 -656.90)" x="189.90" y="656.90" font-size="6.0" text-anchor="middle" fill="#333">0</text>
<line x1="202.60" y1="645.60" x2="202.60" y2="647.80" stroke="#2b2b2b" stroke-width="0.8" />
<text transform="translate(202.60 656.90) scale(1 1.12) translate(-202.60 -656.90)" x="202.60" y="656.90" font-size="6.0" text-anchor="middle" fill="#333">20</text>
<line x1="215.30" y1="645.60" x2="215.30" y2="647.80" stroke="#2b2b2b" stroke-width="0.8" />
<text transform="translate(215.30 656.90) scale(1 1.12) translate(-215.30 -656.90)" x="215.30" y="656.90" font-size="6.0" text-anchor="middle" fill="#333">40</text>
<line x1="228.00" y1="645.60" x2="228.00" y2="647.80" stroke="#2b2b2b" stroke-width="0.8" />
<text transform="translate(228.00 656.90) scale(1 1.12) translate(-228.00 -656.90)" x="228.00" y="656.90" font-size="6.0" text-anchor="middle" fill="#333">60</text>
<line x1="240.70" y1="645.60" x2="240.70" y2="647.80" stroke="#2b2b2b" stroke-width="0.8" />
<text transform="translate(240.70 656.90) scale(1 1.12) translate(-240.70 -656.90)" x="240.70" y="656.90" font-size="6.0" text-anchor="middle" fill="#333">80</text>
<line x1="253.40" y1="645.60" x2="253.40" y2="647.80" stroke="#2b2b2b" stroke-width="0.8" />
<text transform="translate(253.40 656.90) scale(1 1.12) translate(-253.40 -656.90)" x="253.40" y="656.90" font-size="6.0" text-anchor="middle" fill="#333">100</text>
<text x="161.40" y="613.30" font-size="7.0" text-anchor="middle" fill="#333" transform="rotate(-90 161.40 613.30) translate(161.40 613.30) scale(1 1.12) translate(-161.40 -613.30)">CD3<tspan font-size="4.4" dy="-2.6">−</tspan><tspan dy="2.6">CD56</tspan><tspan font-size="4.4" dy="-2.6">dim</tspan><tspan dy="2.6"> NK cells:</tspan></text>
<text x="171.20" y="612.30" font-size="7.0" text-anchor="middle" fill="#333" transform="rotate(-90 171.20 612.30) translate(171.20 612.30) scale(1 1.12) translate(-171.20 -612.30)">K562 cells</text>
<text transform="translate(224.80 672.40) scale(1 1.12) translate(-224.80 -672.40)" x="224.8" y="672.4" font-size="7.0" text-anchor="middle" fill="#333">CD8<tspan font-size="4.4" dy="-2.6">+</tspan><tspan dy="2.6">CD57</tspan><tspan font-size="4.4" dy="-2.6">+</tspan><tspan dy="2.6"> T cells:</tspan></text>
<text transform="translate(224.80 682.40) scale(1 1.12) translate(-224.80 -682.40)" x="224.80" y="682.40" font-size="7.0" text-anchor="middle" fill="#333">P815 cells + anti-CD3</text>
<circle cx="234.77" cy="618.77" r="1.4" fill="#2f983a" stroke="#1a4f20" stroke-width="0.65" />
<circle cx="228.52" cy="613.69" r="1.4" fill="#3a9fd6" stroke="#1a4c74" stroke-width="0.65" />
<circle cx="222.74" cy="620.34" r="1.4" fill="#3a9fd6" stroke="#1a4c74" stroke-width="0.65" />
<circle cx="229.27" cy="607.69" r="1.4" fill="#2f983a" stroke="#1a4f20" stroke-width="0.65" />
<circle cx="227.21" cy="608.86" r="1.4" fill="#2f983a" stroke="#1a4f20" stroke-width="0.65" />
<circle cx="228.47" cy="596.20" r="1.4" fill="#2f983a" stroke="#1a4f20" stroke-width="0.65" />
<circle cx="230.62" cy="619.10" r="1.4" fill="#2f983a" stroke="#1a4f20" stroke-width="0.65" />
<circle cx="224.75" cy="592.67" r="1.4" fill="#2f983a" stroke="#1a4f20" stroke-width="0.65" />
<circle cx="227.20" cy="608.13" r="1.4" fill="#3a9fd6" stroke="#1a4c74" stroke-width="0.65" />
<circle cx="226.39" cy="617.97" r="1.4" fill="#2f983a" stroke="#1a4f20" stroke-width="0.65" />
<circle cx="224.02" cy="617.43" r="1.4" fill="#3a9fd6" stroke="#1a4c74" stroke-width="0.65" />
<circle cx="222.82" cy="601.91" r="1.4" fill="#2f983a" stroke="#1a4f20" stroke-width="0.65" />
<circle cx="216.95" cy="615.52" r="1.4" fill="#3a9fd6" stroke="#1a4c74" stroke-width="0.65" />
<circle cx="228.42" cy="597.26" r="1.4" fill="#2f983a" stroke="#1a4f20" stroke-width="0.65" />
<circle cx="213.59" cy="612.52" r="1.4" fill="#3a9fd6" stroke="#1a4c74" stroke-width="0.65" />
<circle cx="230.83" cy="623.03" r="1.4" fill="#3a9fd6" stroke="#1a4c74" stroke-width="0.65" />
<circle cx="228.58" cy="608.77" r="1.4" fill="#2f983a" stroke="#1a4f20" stroke-width="0.65" />
<circle cx="220.47" cy="633.44" r="1.4" fill="#2f983a" stroke="#1a4f20" stroke-width="0.65" />
<circle cx="219.77" cy="616.72" r="1.4" fill="#3a9fd6" stroke="#1a4c74" stroke-width="0.65" />
<circle cx="222.61" cy="616.89" r="1.4" fill="#3a9fd6" stroke="#1a4c74" stroke-width="0.65" />
<circle cx="227.69" cy="595.67" r="1.4" fill="#2f983a" stroke="#1a4f20" stroke-width="0.65" />
<circle cx="230.51" cy="602.47" r="1.4" fill="#3a9fd6" stroke="#1a4c74" stroke-width="0.65" />
<circle cx="222.79" cy="633.03" r="1.4" fill="#3a9fd6" stroke="#1a4c74" stroke-width="0.65" />
<circle cx="217.86" cy="630.30" r="1.4" fill="#3a9fd6" stroke="#1a4c74" stroke-width="0.65" />
<circle cx="226.32" cy="615.48" r="1.4" fill="#2f983a" stroke="#1a4f20" stroke-width="0.65" />
<circle cx="219.65" cy="612.43" r="1.4" fill="#3a9fd6" stroke="#1a4c74" stroke-width="0.65" />
<circle cx="220.39" cy="609.30" r="1.4" fill="#3a9fd6" stroke="#1a4c74" stroke-width="0.65" />
<circle cx="230.54" cy="623.41" r="1.4" fill="#3a9fd6" stroke="#1a4c74" stroke-width="0.65" />
<circle cx="216.96" cy="593.03" r="1.4" fill="#2f983a" stroke="#1a4f20" stroke-width="0.65" />
<circle cx="219.82" cy="599.86" r="1.4" fill="#3a9fd6" stroke="#1a4c74" stroke-width="0.65" />
<circle cx="228.08" cy="614.09" r="1.4" fill="#3a9fd6" stroke="#1a4c74" stroke-width="0.65" />
<circle cx="224.84" cy="608.20" r="1.4" fill="#2f983a" stroke="#1a4f20" stroke-width="0.65" />
<circle cx="230.15" cy="610.00" r="1.4" fill="#2f983a" stroke="#1a4f20" stroke-width="0.65" />
<circle cx="235.89" cy="608.39" r="1.4" fill="#2f983a" stroke="#1a4f20" stroke-width="0.65" />
<circle cx="212.24" cy="617.68" r="1.4" fill="#3a9fd6" stroke="#1a4c74" stroke-width="0.65" />
<circle cx="231.57" cy="609.55" r="1.4" fill="#2f983a" stroke="#1a4f20" stroke-width="0.65" />
<circle cx="239.02" cy="613.45" r="1.4" fill="#2f983a" stroke="#1a4f20" stroke-width="0.65" />
<circle cx="229.49" cy="620.48" r="1.4" fill="#2f983a" stroke="#1a4f20" stroke-width="0.65" />
<circle cx="224.70" cy="610.11" r="1.4" fill="#2f983a" stroke="#1a4f20" stroke-width="0.65" />
<circle cx="226.16" cy="596.19" r="1.4" fill="#2f983a" stroke="#1a4f20" stroke-width="0.65" />
<circle cx="231.41" cy="591.87" r="1.4" fill="#2f983a" stroke="#1a4f20" stroke-width="0.65" />
<circle cx="218.53" cy="611.92" r="1.4" fill="#2f983a" stroke="#1a4f20" stroke-width="0.65" />
<circle cx="237.23" cy="619.48" r="1.4" fill="#2f983a" stroke="#1a4f20" stroke-width="0.65" />
<circle cx="230.53" cy="611.09" r="1.4" fill="#3a9fd6" stroke="#1a4c74" stroke-width="0.65" />
<circle cx="235.72" cy="617.22" r="1.4" fill="#2f983a" stroke="#1a4f20" stroke-width="0.65" />
<circle cx="226.77" cy="618.12" r="1.4" fill="#2f983a" stroke="#1a4f20" stroke-width="0.65" />
<circle cx="232.95" cy="605.68" r="1.4" fill="#2f983a" stroke="#1a4f20" stroke-width="0.65" />
<circle cx="231.32" cy="601.97" r="1.4" fill="#3a9fd6" stroke="#1a4c74" stroke-width="0.65" />
<circle cx="222.49" cy="607.53" r="1.4" fill="#2f983a" stroke="#1a4f20" stroke-width="0.65" />
<circle cx="228.74" cy="618.43" r="1.4" fill="#2f983a" stroke="#1a4f20" stroke-width="0.65" />
<circle cx="233.22" cy="610.90" r="1.4" fill="#2f983a" stroke="#1a4f20" stroke-width="0.65" />
<circle cx="227.81" cy="617.54" r="1.4" fill="#3a9fd6" stroke="#1a4c74" stroke-width="0.65" />
<circle cx="223.63" cy="617.21" r="1.4" fill="#3a9fd6" stroke="#1a4c74" stroke-width="0.65" />
<circle cx="234.27" cy="619.79" r="1.4" fill="#3a9fd6" stroke="#1a4c74" stroke-width="0.65" />
<circle cx="222.51" cy="605.83" r="1.4" fill="#3a9fd6" stroke="#1a4c74" stroke-width="0.65" />
<circle cx="233.21" cy="609.81" r="1.4" fill="#3a9fd6" stroke="#1a4c74" stroke-width="0.65" />
<circle cx="235.64" cy="605.24" r="1.4" fill="#3a9fd6" stroke="#1a4c74" stroke-width="0.65" />
<circle cx="227.43" cy="606.43" r="1.4" fill="#2f983a" stroke="#1a4f20" stroke-width="0.65" />
<circle cx="229.45" cy="599.04" r="1.4" fill="#2f983a" stroke="#1a4f20" stroke-width="0.65" />
<circle cx="217.81" cy="620.13" r="1.4" fill="#3a9fd6" stroke="#1a4c74" stroke-width="0.65" />
<circle cx="221.27" cy="605.36" r="1.4" fill="#3a9fd6" stroke="#1a4c74" stroke-width="0.65" />
<circle cx="233.56" cy="609.04" r="1.4" fill="#3a9fd6" stroke="#1a4c74" stroke-width="0.65" />
<circle cx="228.72" cy="603.41" r="1.4" fill="#2f983a" stroke="#1a4f20" stroke-width="0.65" />
<circle cx="230.11" cy="604.49" r="1.4" fill="#2f983a" stroke="#1a4f20" stroke-width="0.65" />
<circle cx="240.24" cy="615.99" r="1.4" fill="#2f983a" stroke="#1a4f20" stroke-width="0.65" />
<circle cx="224.37" cy="614.09" r="1.4" fill="#3a9fd6" stroke="#1a4c74" stroke-width="0.65" />
<circle cx="227.41" cy="598.14" r="1.4" fill="#2f983a" stroke="#1a4f20" stroke-width="0.65" />
<circle cx="227.50" cy="620.09" r="1.4" fill="#3a9fd6" stroke="#1a4c74" stroke-width="0.65" />
<circle cx="231.04" cy="616.95" r="1.4" fill="#3a9fd6" stroke="#1a4c74" stroke-width="0.65" />
<circle cx="229.39" cy="612.92" r="1.4" fill="#3a9fd6" stroke="#1a4c74" stroke-width="0.65" />
<circle cx="235.06" cy="625.21" r="1.4" fill="#2f983a" stroke="#1a4f20" stroke-width="0.65" />
<circle cx="230.78" cy="614.33" r="1.4" fill="#2f983a" stroke="#1a4f20" stroke-width="0.65" />
<circle cx="228.17" cy="611.61" r="1.4" fill="#3a9fd6" stroke="#1a4c74" stroke-width="0.65" />
<circle cx="231.05" cy="630.66" r="1.4" fill="#2f983a" stroke="#1a4f20" stroke-width="0.65" />
<circle cx="228.86" cy="615.14" r="1.4" fill="#2f983a" stroke="#1a4f20" stroke-width="0.65" />
<circle cx="226.90" cy="619.21" r="1.4" fill="#2f983a" stroke="#1a4f20" stroke-width="0.65" />
<circle cx="227.10" cy="606.44" r="1.4" fill="#3a9fd6" stroke="#1a4c74" stroke-width="0.65" />
<circle cx="224.80" cy="621.64" r="1.4" fill="#3a9fd6" stroke="#1a4c74" stroke-width="0.65" />
<circle cx="228.42" cy="604.30" r="1.4" fill="#2f983a" stroke="#1a4f20" stroke-width="0.65" />
<circle cx="227.36" cy="621.99" r="1.4" fill="#3a9fd6" stroke="#1a4c74" stroke-width="0.65" />
<circle cx="224.59" cy="610.43" r="1.4" fill="#2f983a" stroke="#1a4f20" stroke-width="0.65" />
<circle cx="229.08" cy="615.89" r="1.4" fill="#3a9fd6" stroke="#1a4c74" stroke-width="0.65" />
<circle cx="233.32" cy="608.96" r="1.4" fill="#2f983a" stroke="#1a4f20" stroke-width="0.65" />
<circle cx="216.85" cy="598.71" r="1.4" fill="#3a9fd6" stroke="#1a4c74" stroke-width="0.65" />
<circle cx="219.46" cy="611.78" r="1.4" fill="#2f983a" stroke="#1a4f20" stroke-width="0.65" />
<circle cx="229.56" cy="616.55" r="1.4" fill="#2f983a" stroke="#1a4f20" stroke-width="0.65" />
<circle cx="225.41" cy="597.47" r="1.4" fill="#2f983a" stroke="#1a4f20" stroke-width="0.65" />
<circle cx="233.70" cy="613.01" r="1.4" fill="#2f983a" stroke="#1a4f20" stroke-width="0.65" />
<circle cx="221.79" cy="613.00" r="1.4" fill="#3a9fd6" stroke="#1a4c74" stroke-width="0.65" />
<circle cx="226.39" cy="618.24" r="1.4" fill="#2f983a" stroke="#1a4f20" stroke-width="0.65" />
<circle cx="230.76" cy="609.36" r="1.4" fill="#3a9fd6" stroke="#1a4c74" stroke-width="0.65" />
<circle cx="225.61" cy="603.26" r="1.4" fill="#2f983a" stroke="#1a4f20" stroke-width="0.65" />
<circle cx="226.70" cy="601.28" r="1.4" fill="#2f983a" stroke="#1a4f20" stroke-width="0.65" />
<circle cx="229.53" cy="617.08" r="1.4" fill="#3a9fd6" stroke="#1a4c74" stroke-width="0.65" />
<circle cx="221.67" cy="605.01" r="1.4" fill="#3a9fd6" stroke="#1a4c74" stroke-width="0.65" />
<circle cx="221.71" cy="603.56" r="1.4" fill="#2f983a" stroke="#1a4f20" stroke-width="0.65" />
<circle cx="227.01" cy="608.18" r="1.4" fill="#3a9fd6" stroke="#1a4c74" stroke-width="0.65" />
<circle cx="225.24" cy="612.42" r="1.4" fill="#3a9fd6" stroke="#1a4c74" stroke-width="0.65" />
<circle cx="232.15" cy="615.68" r="1.4" fill="#3a9fd6" stroke="#1a4c74" stroke-width="0.65" />
<circle cx="228.65" cy="599.52" r="1.4" fill="#3a9fd6" stroke="#1a4c74" stroke-width="0.65" />
<circle cx="217.70" cy="601.77" r="1.4" fill="#3a9fd6" stroke="#1a4c74" stroke-width="0.65" />
<circle cx="221.83" cy="621.20" r="1.4" fill="#3a9fd6" stroke="#1a4c74" stroke-width="0.65" />
<circle cx="223.59" cy="606.67" r="1.4" fill="#3a9fd6" stroke="#1a4c74" stroke-width="0.65" />
<circle cx="234.54" cy="612.65" r="1.4" fill="#2f983a" stroke="#1a4f20" stroke-width="0.65" />
<circle cx="233.84" cy="616.53" r="1.4" fill="#3a9fd6" stroke="#1a4c74" stroke-width="0.65" />
<circle cx="228.20" cy="625.31" r="1.4" fill="#3a9fd6" stroke="#1a4c74" stroke-width="0.65" />
<circle cx="220.21" cy="606.73" r="1.4" fill="#3a9fd6" stroke="#1a4c74" stroke-width="0.65" />
<circle cx="231.28" cy="610.91" r="1.4" fill="#2f983a" stroke="#1a4f20" stroke-width="0.65" />
<circle cx="218.79" cy="610.85" r="1.4" fill="#2f983a" stroke="#1a4f20" stroke-width="0.65" />
<circle cx="222.04" cy="605.89" r="1.4" fill="#3a9fd6" stroke="#1a4c74" stroke-width="0.65" />
<circle cx="217.78" cy="625.93" r="1.4" fill="#3a9fd6" stroke="#1a4c74" stroke-width="0.65" />
<circle cx="226.44" cy="611.59" r="1.4" fill="#2f983a" stroke="#1a4f20" stroke-width="0.65" />
<circle cx="223.08" cy="620.99" r="1.4" fill="#3a9fd6" stroke="#1a4c74" stroke-width="0.65" />
<circle cx="224.94" cy="612.11" r="1.4" fill="#2f983a" stroke="#1a4f20" stroke-width="0.65" />
<circle cx="227.33" cy="618.67" r="1.4" fill="#2f983a" stroke="#1a4f20" stroke-width="0.65" />
<circle cx="236.74" cy="615.98" r="1.4" fill="#3a9fd6" stroke="#1a4c74" stroke-width="0.65" />
<circle cx="235.67" cy="605.13" r="1.4" fill="#2f983a" stroke="#1a4f20" stroke-width="0.65" />
<circle cx="223.15" cy="596.99" r="1.4" fill="#3a9fd6" stroke="#1a4c74" stroke-width="0.65" />
<circle cx="221.50" cy="632.25" r="1.4" fill="#3a9fd6" stroke="#1a4c74" stroke-width="0.65" />
<circle cx="225.78" cy="610.18" r="1.4" fill="#2f983a" stroke="#1a4f20" stroke-width="0.65" />
<circle cx="240.88" cy="606.24" r="1.4" fill="#2f983a" stroke="#1a4f20" stroke-width="0.65" />
<circle cx="217.25" cy="598.36" r="1.4" fill="#3a9fd6" stroke="#1a4c74" stroke-width="0.65" />
<circle cx="227.77" cy="599.04" r="1.4" fill="#3a9fd6" stroke="#1a4c74" stroke-width="0.65" />
<circle cx="229.06" cy="606.75" r="1.4" fill="#3a9fd6" stroke="#1a4c74" stroke-width="0.65" />
<circle cx="229.26" cy="619.32" r="1.4" fill="#3a9fd6" stroke="#1a4c74" stroke-width="0.65" />
<circle cx="224.62" cy="603.82" r="1.4" fill="#3a9fd6" stroke="#1a4c74" stroke-width="0.65" />
<circle cx="225.09" cy="617.96" r="1.4" fill="#3a9fd6" stroke="#1a4c74" stroke-width="0.65" />
<circle cx="231.66" cy="616.25" r="1.4" fill="#2f983a" stroke="#1a4f20" stroke-width="0.65" />
<circle cx="225.72" cy="598.75" r="1.4" fill="#3a9fd6" stroke="#1a4c74" stroke-width="0.65" />
<circle cx="241.33" cy="614.03" r="1.4" fill="#2f983a" stroke="#1a4f20" stroke-width="0.65" />
<circle cx="225.39" cy="621.79" r="1.4" fill="#3a9fd6" stroke="#1a4c74" stroke-width="0.65" />
<circle cx="222.72" cy="608.25" r="1.4" fill="#3a9fd6" stroke="#1a4c74" stroke-width="0.65" />
<circle cx="234.93" cy="626.20" r="1.4" fill="#3a9fd6" stroke="#1a4c74" stroke-width="0.65" />
<circle cx="233.14" cy="607.78" r="1.4" fill="#2f983a" stroke="#1a4f20" stroke-width="0.65" />
<circle cx="217.28" cy="610.29" r="1.4" fill="#3a9fd6" stroke="#1a4c74" stroke-width="0.65" />
<circle cx="230.17" cy="594.45" r="1.4" fill="#2f983a" stroke="#1a4f20" stroke-width="0.65" />
<circle cx="238.58" cy="610.50" r="1.4" fill="#2f983a" stroke="#1a4f20" stroke-width="0.65" />
<circle cx="217.73" cy="603.84" r="1.4" fill="#3a9fd6" stroke="#1a4c74" stroke-width="0.65" />
<circle cx="227.51" cy="620.15" r="1.4" fill="#3a9fd6" stroke="#1a4c74" stroke-width="0.65" />
<circle cx="216.57" cy="621.97" r="1.4" fill="#3a9fd6" stroke="#1a4c74" stroke-width="0.65" />
<circle cx="225.22" cy="609.86" r="1.4" fill="#2f983a" stroke="#1a4f20" stroke-width="0.65" />
<circle cx="229.69" cy="608.17" r="1.4" fill="#2f983a" stroke="#1a4f20" stroke-width="0.65" />
<circle cx="230.49" cy="610.48" r="1.4" fill="#2f983a" stroke="#1a4f20" stroke-width="0.65" />
<circle cx="221.93" cy="607.44" r="1.4" fill="#3a9fd6" stroke="#1a4c74" stroke-width="0.65" />
<circle cx="222.68" cy="626.96" r="1.4" fill="#3a9fd6" stroke="#1a4c74" stroke-width="0.65" />
<circle cx="219.85" cy="610.37" r="1.4" fill="#3a9fd6" stroke="#1a4c74" stroke-width="0.65" />
<circle cx="211.33" cy="591.32" r="1.4" fill="#2f983a" stroke="#1a4f20" stroke-width="0.65" />
<circle cx="229.43" cy="612.93" r="1.4" fill="#3a9fd6" stroke="#1a4c74" stroke-width="0.65" />
<circle cx="226.47" cy="614.35" r="1.4" fill="#2f983a" stroke="#1a4f20" stroke-width="0.65" />
<circle cx="227.07" cy="617.20" r="1.4" fill="#2f983a" stroke="#1a4f20" stroke-width="0.65" />
<circle cx="229.40" cy="625.24" r="1.4" fill="#2f983a" stroke="#1a4f20" stroke-width="0.65" />
<circle cx="225.71" cy="607.38" r="1.4" fill="#3a9fd6" stroke="#1a4c74" stroke-width="0.65" />
<circle cx="217.65" cy="601.23" r="1.4" fill="#3a9fd6" stroke="#1a4c74" stroke-width="0.65" />
<circle cx="227.73" cy="598.19" r="1.4" fill="#3a9fd6" stroke="#1a4c74" stroke-width="0.65" />
<circle cx="217.01" cy="595.48" r="1.4" fill="#2f983a" stroke="#1a4f20" stroke-width="0.65" />
<circle cx="216.78" cy="628.42" r="1.4" fill="#3a9fd6" stroke="#1a4c74" stroke-width="0.65" />
<circle cx="227.07" cy="616.76" r="1.4" fill="#3a9fd6" stroke="#1a4c74" stroke-width="0.65" />
<circle cx="224.89" cy="628.18" r="1.4" fill="#3a9fd6" stroke="#1a4c74" stroke-width="0.65" />
<circle cx="238.37" cy="620.06" r="1.4" fill="#2f983a" stroke="#1a4f20" stroke-width="0.65" />
<circle cx="224.90" cy="600.24" r="1.4" fill="#3a9fd6" stroke="#1a4c74" stroke-width="0.65" />
<circle cx="221.72" cy="614.59" r="1.4" fill="#2f983a" stroke="#1a4f20" stroke-width="0.65" />
<circle cx="225.10" cy="619.71" r="1.4" fill="#3a9fd6" stroke="#1a4c74" stroke-width="0.65" />
<circle cx="218.35" cy="606.61" r="1.4" fill="#2f983a" stroke="#1a4f20" stroke-width="0.65" />
<circle cx="226.51" cy="616.03" r="1.4" fill="#2f983a" stroke="#1a4f20" stroke-width="0.65" />
<circle cx="225.98" cy="623.13" r="1.4" fill="#3a9fd6" stroke="#1a4c74" stroke-width="0.65" />
<circle cx="227.74" cy="615.32" r="1.4" fill="#2f983a" stroke="#1a4f20" stroke-width="0.65" />
<circle cx="231.62" cy="630.35" r="1.4" fill="#3a9fd6" stroke="#1a4c74" stroke-width="0.65" />
<circle cx="227.99" cy="615.88" r="1.4" fill="#2f983a" stroke="#1a4f20" stroke-width="0.65" />
<circle cx="223.72" cy="596.83" r="1.4" fill="#3a9fd6" stroke="#1a4c74" stroke-width="0.65" />
<circle cx="220.86" cy="597.57" r="1.4" fill="#3a9fd6" stroke="#1a4c74" stroke-width="0.65" />
<circle cx="227.94" cy="613.31" r="1.4" fill="#3a9fd6" stroke="#1a4c74" stroke-width="0.65" />
<circle cx="223.88" cy="602.63" r="1.4" fill="#3a9fd6" stroke="#1a4c74" stroke-width="0.65" />
<circle cx="224.94" cy="626.48" r="1.4" fill="#3a9fd6" stroke="#1a4c74" stroke-width="0.65" />
<circle cx="220.95" cy="612.34" r="1.4" fill="#2f983a" stroke="#1a4f20" stroke-width="0.65" />
<circle cx="226.68" cy="612.54" r="1.4" fill="#3a9fd6" stroke="#1a4c74" stroke-width="0.65" />
<circle cx="229.20" cy="616.90" r="1.4" fill="#2f983a" stroke="#1a4f20" stroke-width="0.65" />
<circle cx="225.00" cy="623.64" r="1.4" fill="#2f983a" stroke="#1a4f20" stroke-width="0.65" />
<circle cx="220.81" cy="612.50" r="1.4" fill="#3a9fd6" stroke="#1a4c74" stroke-width="0.65" />
<circle cx="225.18" cy="616.41" r="1.4" fill="#2f983a" stroke="#1a4f20" stroke-width="0.65" />
<circle cx="227.99" cy="614.43" r="1.4" fill="#2f983a" stroke="#1a4f20" stroke-width="0.65" />
<circle cx="227.31" cy="597.50" r="1.4" fill="#3a9fd6" stroke="#1a4c74" stroke-width="0.65" />
<circle cx="215.62" cy="611.42" r="1.4" fill="#3a9fd6" stroke="#1a4c74" stroke-width="0.65" />
<circle cx="238.20" cy="604.85" r="1.4" fill="#2f983a" stroke="#1a4f20" stroke-width="0.65" />
<circle cx="221.30" cy="610.57" r="1.4" fill="#3a9fd6" stroke="#1a4c74" stroke-width="0.65" />
<circle cx="222.21" cy="626.43" r="1.4" fill="#3a9fd6" stroke="#1a4c74" stroke-width="0.65" />
<circle cx="220.06" cy="614.36" r="1.4" fill="#3a9fd6" stroke="#1a4c74" stroke-width="0.65" />
<circle cx="224.52" cy="621.41" r="1.4" fill="#2f983a" stroke="#1a4f20" stroke-width="0.65" />
<circle cx="227.07" cy="610.23" r="1.4" fill="#3a9fd6" stroke="#1a4c74" stroke-width="0.65" />
<circle cx="225.84" cy="601.73" r="1.4" fill="#2f983a" stroke="#1a4f20" stroke-width="0.65" />
<circle cx="230.45" cy="608.21" r="1.4" fill="#2f983a" stroke="#1a4f20" stroke-width="0.65" />
<circle cx="212.03" cy="626.12" r="1.4" fill="#3a9fd6" stroke="#1a4c74" stroke-width="0.65" />
<circle cx="221.02" cy="615.39" r="1.4" fill="#3a9fd6" stroke="#1a4c74" stroke-width="0.65" />
<circle cx="213.14" cy="613.00" r="1.4" fill="#3a9fd6" stroke="#1a4c74" stroke-width="0.65" />
<circle cx="219.38" cy="623.47" r="1.4" fill="#3a9fd6" stroke="#1a4c74" stroke-width="0.65" />
<circle cx="235.15" cy="608.15" r="1.4" fill="#3a9fd6" stroke="#1a4c74" stroke-width="0.65" />
<circle cx="233.05" cy="599.83" r="1.4" fill="#2f983a" stroke="#1a4f20" stroke-width="0.65" />
<circle cx="227.57" cy="614.95" r="1.4" fill="#2f983a" stroke="#1a4f20" stroke-width="0.65" />
<circle cx="216.57" cy="622.30" r="1.4" fill="#3a9fd6" stroke="#1a4c74" stroke-width="0.65" />
<circle cx="233.27" cy="610.13" r="1.4" fill="#2f983a" stroke="#1a4f20" stroke-width="0.65" />
<circle cx="220.89" cy="615.19" r="1.4" fill="#3a9fd6" stroke="#1a4c74" stroke-width="0.65" />
<circle cx="221.90" cy="635.20" r="1.9" fill="#b4112e" stroke="#7d0a1f" stroke-width="0.65" />
<circle cx="230.90" cy="635.60" r="1.9" fill="#b4112e" stroke="#7d0a1f" stroke-width="0.65" />
<circle cx="232.80" cy="631.30" r="1.9" fill="#f2c21b" stroke="#b48a10" stroke-width="0.65" />
<circle cx="234.60" cy="632.30" r="1.9" fill="#f2c21b" stroke="#b48a10" stroke-width="0.65" />
<circle cx="213.30" cy="618.20" r="2.1" fill="#173f6b" stroke="#0e2a48" stroke-width="0.65" />
<circle cx="221.10" cy="631.30" r="1.9" fill="#173f6b" stroke="#0e2a48" stroke-width="0.65" />
<circle cx="222.40" cy="626.90" r="1.8" fill="#1d5a6a" stroke="#0e2a48" stroke-width="0.65" />
<text transform="translate(274.20 572.00) scale(1 1.12) translate(-274.20 -572.00)" x="274.20" y="572.00" font-size="9.8" font-weight="bold" fill="#111">H</text>
<line x1="324.20" y1="581.30" x2="324.20" y2="646.20" stroke="#2b2b2b" stroke-width="0.9" />
<line x1="321.20" y1="645.80" x2="324.20" y2="645.80" stroke="#2b2b2b" stroke-width="0.8" />
<text transform="translate(317.60 648.00) scale(1 1.12) translate(-317.60 -648.00)" x="317.60" y="648.00" font-size="6.3" text-anchor="end" fill="#333">0</text>
<line x1="321.20" y1="629.83" x2="324.20" y2="629.83" stroke="#2b2b2b" stroke-width="0.8" />
<text transform="translate(317.60 632.03) scale(1 1.12) translate(-317.60 -632.03)" x="317.60" y="632.03" font-size="6.3" text-anchor="end" fill="#333">10</text>
<line x1="321.20" y1="613.86" x2="324.20" y2="613.86" stroke="#2b2b2b" stroke-width="0.8" />
<text transform="translate(317.60 616.06) scale(1 1.12) translate(-317.60 -616.06)" x="317.60" y="616.06" font-size="6.3" text-anchor="end" fill="#333">20</text>
<line x1="321.20" y1="597.89" x2="324.20" y2="597.89" stroke="#2b2b2b" stroke-width="0.8" />
<text transform="translate(317.60 600.09) scale(1 1.12) translate(-317.60 -600.09)" x="317.60" y="600.09" font-size="6.3" text-anchor="end" fill="#333">30</text>
<line x1="321.20" y1="581.92" x2="324.20" y2="581.92" stroke="#2b2b2b" stroke-width="0.8" />
<text transform="translate(317.60 584.12) scale(1 1.12) translate(-317.60 -584.12)" x="317.60" y="584.12" font-size="6.3" text-anchor="end" fill="#333">40</text>
<line x1="324.20" y1="645.80" x2="390.40" y2="645.80" stroke="#2b2b2b" stroke-width="0.9" />
<line x1="324.20" y1="645.80" x2="324.20" y2="648.00" stroke="#2b2b2b" stroke-width="0.8" />
<text transform="translate(324.20 657.10) scale(1 1.12) translate(-324.20 -657.10)" x="324.20" y="657.10" font-size="6.0" text-anchor="middle" fill="#333">0</text>
<line x1="340.00" y1="645.80" x2="340.00" y2="648.00" stroke="#2b2b2b" stroke-width="0.8" />
<text transform="translate(340.00 657.10) scale(1 1.12) translate(-340.00 -657.10)" x="340.00" y="657.10" font-size="6.0" text-anchor="middle" fill="#333">20</text>
<line x1="355.80" y1="645.80" x2="355.80" y2="648.00" stroke="#2b2b2b" stroke-width="0.8" />
<text transform="translate(355.80 657.10) scale(1 1.12) translate(-355.80 -657.10)" x="355.80" y="657.10" font-size="6.0" text-anchor="middle" fill="#333">40</text>
<line x1="371.60" y1="645.80" x2="371.60" y2="648.00" stroke="#2b2b2b" stroke-width="0.8" />
<text transform="translate(371.60 657.10) scale(1 1.12) translate(-371.60 -657.10)" x="371.60" y="657.10" font-size="6.0" text-anchor="middle" fill="#333">60</text>
<line x1="387.40" y1="645.80" x2="387.40" y2="648.00" stroke="#2b2b2b" stroke-width="0.8" />
<text transform="translate(387.40 657.10) scale(1 1.12) translate(-387.40 -657.10)" x="387.40" y="657.10" font-size="6.0" text-anchor="middle" fill="#333">80</text>
<text x="295.80" y="613.00" font-size="7.0" text-anchor="middle" fill="#333" transform="rotate(-90 295.80 613.00) translate(295.80 613.00) scale(1 1.12) translate(-295.80 -613.00)">CD3<tspan font-size="4.4" dy="-2.6">−</tspan><tspan dy="2.6">CD56</tspan><tspan font-size="4.4" dy="-2.6">dim</tspan><tspan dy="2.6"> NK cells:</tspan></text>
<text x="305.20" y="612.30" font-size="7.0" text-anchor="middle" fill="#333" transform="rotate(-90 305.20 612.30) translate(305.20 612.30) scale(1 1.12) translate(-305.20 -612.30)">K562 cells</text>
<text transform="translate(357.60 672.20) scale(1 1.12) translate(-357.60 -672.20)" x="357.6" y="672.2" font-size="7.0" text-anchor="middle" fill="#333">CD3<tspan font-size="4.4" dy="-2.6">−</tspan><tspan dy="2.6">CD56</tspan><tspan font-size="4.4" dy="-2.6">dim</tspan><tspan dy="2.6"> NK cells:</tspan></text>
<text transform="translate(357.60 682.40) scale(1 1.12) translate(-357.60 -682.40)" x="357.60" y="682.40" font-size="7.0" text-anchor="middle" fill="#333">P815 cells + anti-CD16</text>
<circle cx="363.16" cy="612.59" r="1.4" fill="#3a9fd6" stroke="#1a4c74" stroke-width="0.65" />
<circle cx="364.51" cy="605.60" r="1.4" fill="#2f983a" stroke="#1a4f20" stroke-width="0.65" />
<circle cx="366.76" cy="615.65" r="1.4" fill="#2f983a" stroke="#1a4f20" stroke-width="0.65" />
<circle cx="352.12" cy="608.64" r="1.4" fill="#2f983a" stroke="#1a4f20" stroke-width="0.65" />
<circle cx="353.71" cy="607.62" r="1.4" fill="#3a9fd6" stroke="#1a4c74" stroke-width="0.65" />
<circle cx="357.78" cy="623.24" r="1.4" fill="#3a9fd6" stroke="#1a4c74" stroke-width="0.65" />
<circle cx="355.85" cy="606.95" r="1.4" fill="#2f983a" stroke="#1a4f20" stroke-width="0.65" />
<circle cx="362.10" cy="616.65" r="1.4" fill="#2f983a" stroke="#1a4f20" stroke-width="0.65" />
<circle cx="362.98" cy="623.02" r="1.4" fill="#2f983a" stroke="#1a4f20" stroke-width="0.65" />
<circle cx="366.34" cy="615.43" r="1.4" fill="#2f983a" stroke="#1a4f20" stroke-width="0.65" />
<circle cx="369.37" cy="606.12" r="1.4" fill="#2f983a" stroke="#1a4f20" stroke-width="0.65" />
<circle cx="357.41" cy="608.25" r="1.4" fill="#2f983a" stroke="#1a4f20" stroke-width="0.65" />
<circle cx="365.69" cy="593.35" r="1.4" fill="#3a9fd6" stroke="#1a4c74" stroke-width="0.65" />
<circle cx="360.70" cy="605.85" r="1.4" fill="#2f983a" stroke="#1a4f20" stroke-width="0.65" />
<circle cx="353.48" cy="606.02" r="1.4" fill="#3a9fd6" stroke="#1a4c74" stroke-width="0.65" />
<circle cx="360.95" cy="625.15" r="1.4" fill="#3a9fd6" stroke="#1a4c74" stroke-width="0.65" />
<circle cx="361.66" cy="615.15" r="1.4" fill="#3a9fd6" stroke="#1a4c74" stroke-width="0.65" />
<circle cx="358.86" cy="622.76" r="1.4" fill="#3a9fd6" stroke="#1a4c74" stroke-width="0.65" />
<circle cx="359.67" cy="615.65" r="1.4" fill="#3a9fd6" stroke="#1a4c74" stroke-width="0.65" />
<circle cx="358.09" cy="610.87" r="1.4" fill="#2f983a" stroke="#1a4f20" stroke-width="0.65" />
<circle cx="366.37" cy="614.75" r="1.4" fill="#3a9fd6" stroke="#1a4c74" stroke-width="0.65" />
<circle cx="361.37" cy="605.67" r="1.4" fill="#2f983a" stroke="#1a4f20" stroke-width="0.65" />
<circle cx="372.56" cy="604.86" r="1.4" fill="#2f983a" stroke="#1a4f20" stroke-width="0.65" />
<circle cx="368.61" cy="608.52" r="1.4" fill="#3a9fd6" stroke="#1a4c74" stroke-width="0.65" />
<circle cx="354.64" cy="616.62" r="1.4" fill="#3a9fd6" stroke="#1a4c74" stroke-width="0.65" />
<circle cx="350.78" cy="615.60" r="1.4" fill="#3a9fd6" stroke="#1a4c74" stroke-width="0.65" />
<circle cx="361.09" cy="614.21" r="1.4" fill="#2f983a" stroke="#1a4f20" stroke-width="0.65" />
<circle cx="356.07" cy="616.89" r="1.4" fill="#3a9fd6" stroke="#1a4c74" stroke-width="0.65" />
<circle cx="359.22" cy="619.87" r="1.4" fill="#2f983a" stroke="#1a4f20" stroke-width="0.65" />
<circle cx="375.18" cy="606.79" r="1.4" fill="#3a9fd6" stroke="#1a4c74" stroke-width="0.65" />
<circle cx="353.09" cy="627.81" r="1.4" fill="#3a9fd6" stroke="#1a4c74" stroke-width="0.65" />
<circle cx="364.53" cy="613.18" r="1.4" fill="#3a9fd6" stroke="#1a4c74" stroke-width="0.65" />
<circle cx="364.28" cy="600.64" r="1.4" fill="#2f983a" stroke="#1a4f20" stroke-width="0.65" />
<circle cx="355.83" cy="617.14" r="1.4" fill="#3a9fd6" stroke="#1a4c74" stroke-width="0.65" />
<circle cx="356.70" cy="617.17" r="1.4" fill="#2f983a" stroke="#1a4f20" stroke-width="0.65" />
<circle cx="354.31" cy="618.39" r="1.4" fill="#3a9fd6" stroke="#1a4c74" stroke-width="0.65" />
<circle cx="362.23" cy="618.16" r="1.4" fill="#3a9fd6" stroke="#1a4c74" stroke-width="0.65" />
<circle cx="375.25" cy="598.03" r="1.4" fill="#2f983a" stroke="#1a4f20" stroke-width="0.65" />
<circle cx="355.18" cy="614.44" r="1.4" fill="#3a9fd6" stroke="#1a4c74" stroke-width="0.65" />
<circle cx="362.95" cy="609.05" r="1.4" fill="#3a9fd6" stroke="#1a4c74" stroke-width="0.65" />
<circle cx="352.17" cy="593.34" r="1.4" fill="#3a9fd6" stroke="#1a4c74" stroke-width="0.65" />
<circle cx="354.86" cy="624.11" r="1.4" fill="#3a9fd6" stroke="#1a4c74" stroke-width="0.65" />
<circle cx="349.71" cy="619.92" r="1.4" fill="#3a9fd6" stroke="#1a4c74" stroke-width="0.65" />
<circle cx="370.52" cy="606.14" r="1.4" fill="#3a9fd6" stroke="#1a4c74" stroke-width="0.65" />
<circle cx="360.00" cy="596.41" r="1.4" fill="#3a9fd6" stroke="#1a4c74" stroke-width="0.65" />
<circle cx="353.96" cy="619.16" r="1.4" fill="#3a9fd6" stroke="#1a4c74" stroke-width="0.65" />
<circle cx="361.72" cy="609.17" r="1.4" fill="#2f983a" stroke="#1a4f20" stroke-width="0.65" />
<circle cx="359.27" cy="628.71" r="1.4" fill="#2f983a" stroke="#1a4f20" stroke-width="0.65" />
<circle cx="361.23" cy="599.23" r="1.4" fill="#2f983a" stroke="#1a4f20" stroke-width="0.65" />
<circle cx="362.41" cy="606.30" r="1.4" fill="#2f983a" stroke="#1a4f20" stroke-width="0.65" />
<circle cx="361.17" cy="604.80" r="1.4" fill="#2f983a" stroke="#1a4f20" stroke-width="0.65" />
<circle cx="347.41" cy="607.43" r="1.4" fill="#2f983a" stroke="#1a4f20" stroke-width="0.65" />
<circle cx="359.18" cy="602.94" r="1.4" fill="#2f983a" stroke="#1a4f20" stroke-width="0.65" />
<circle cx="367.63" cy="599.91" r="1.4" fill="#2f983a" stroke="#1a4f20" stroke-width="0.65" />
<circle cx="373.25" cy="609.11" r="1.4" fill="#3a9fd6" stroke="#1a4c74" stroke-width="0.65" />
<circle cx="362.46" cy="603.26" r="1.4" fill="#2f983a" stroke="#1a4f20" stroke-width="0.65" />
<circle cx="365.04" cy="597.31" r="1.4" fill="#2f983a" stroke="#1a4f20" stroke-width="0.65" />
<circle cx="366.82" cy="606.22" r="1.4" fill="#2f983a" stroke="#1a4f20" stroke-width="0.65" />
<circle cx="348.99" cy="608.16" r="1.4" fill="#3a9fd6" stroke="#1a4c74" stroke-width="0.65" />
<circle cx="353.86" cy="610.24" r="1.4" fill="#3a9fd6" stroke="#1a4c74" stroke-width="0.65" />
<circle cx="358.86" cy="608.06" r="1.4" fill="#2f983a" stroke="#1a4f20" stroke-width="0.65" />
<circle cx="362.12" cy="608.88" r="1.4" fill="#3a9fd6" stroke="#1a4c74" stroke-width="0.65" />
<circle cx="374.69" cy="606.78" r="1.4" fill="#3a9fd6" stroke="#1a4c74" stroke-width="0.65" />
<circle cx="368.94" cy="604.46" r="1.4" fill="#2f983a" stroke="#1a4f20" stroke-width="0.65" />
<circle cx="355.76" cy="612.65" r="1.4" fill="#2f983a" stroke="#1a4f20" stroke-width="0.65" />
<circle cx="358.30" cy="612.08" r="1.4" fill="#3a9fd6" stroke="#1a4c74" stroke-width="0.65" />
<circle cx="357.76" cy="617.57" r="1.4" fill="#3a9fd6" stroke="#1a4c74" stroke-width="0.65" />
<circle cx="365.73" cy="614.50" r="1.4" fill="#3a9fd6" stroke="#1a4c74" stroke-width="0.65" />
<circle cx="357.72" cy="628.31" r="1.4" fill="#2f983a" stroke="#1a4f20" stroke-width="0.65" />
<circle cx="359.18" cy="618.88" r="1.4" fill="#3a9fd6" stroke="#1a4c74" stroke-width="0.65" />
<circle cx="364.28" cy="610.21" r="1.4" fill="#2f983a" stroke="#1a4f20" stroke-width="0.65" />
<circle cx="350.12" cy="610.67" r="1.4" fill="#3a9fd6" stroke="#1a4c74" stroke-width="0.65" />
<circle cx="356.43" cy="624.65" r="1.4" fill="#2f983a" stroke="#1a4f20" stroke-width="0.65" />
<circle cx="352.20" cy="615.01" r="1.4" fill="#3a9fd6" stroke="#1a4c74" stroke-width="0.65" />
<circle cx="360.89" cy="607.47" r="1.4" fill="#2f983a" stroke="#1a4f20" stroke-width="0.65" />
<circle cx="367.24" cy="603.61" r="1.4" fill="#2f983a" stroke="#1a4f20" stroke-width="0.65" />
<circle cx="363.48" cy="609.62" r="1.4" fill="#2f983a" stroke="#1a4f20" stroke-width="0.65" />
<circle cx="371.62" cy="606.12" r="1.4" fill="#2f983a" stroke="#1a4f20" stroke-width="0.65" />
<circle cx="362.33" cy="601.01" r="1.4" fill="#3a9fd6" stroke="#1a4c74" stroke-width="0.65" />
<circle cx="347.79" cy="621.56" r="1.4" fill="#2f983a" stroke="#1a4f20" stroke-width="0.65" />
<circle cx="362.29" cy="615.48" r="1.4" fill="#2f983a" stroke="#1a4f20" stroke-width="0.65" />
<circle cx="364.34" cy="603.77" r="1.4" fill="#3a9fd6" stroke="#1a4c74" stroke-width="0.65" />
<circle cx="354.88" cy="614.48" r="1.4" fill="#3a9fd6" stroke="#1a4c74" stroke-width="0.65" />
<circle cx="362.57" cy="615.01" r="1.4" fill="#3a9fd6" stroke="#1a4c74" stroke-width="0.65" />
<circle cx="358.64" cy="612.37" r="1.4" fill="#3a9fd6" stroke="#1a4c74" stroke-width="0.65" />
<circle cx="370.90" cy="618.42" r="1.4" fill="#3a9fd6" stroke="#1a4c74" stroke-width="0.65" />
<circle cx="356.16" cy="603.97" r="1.4" fill="#2f983a" stroke="#1a4f20" stroke-width="0.65" />
<circle cx="368.91" cy="604.67" r="1.4" fill="#2f983a" stroke="#1a4f20" stroke-width="0.65" />
<circle cx="351.88" cy="599.37" r="1.4" fill="#2f983a" stroke="#1a4f20" stroke-width="0.65" />
<circle cx="376.10" cy="598.21" r="1.4" fill="#3a9fd6" stroke="#1a4c74" stroke-width="0.65" />
<circle cx="351.54" cy="622.18" r="1.4" fill="#3a9fd6" stroke="#1a4c74" stroke-width="0.65" />
<circle cx="366.86" cy="615.82" r="1.4" fill="#3a9fd6" stroke="#1a4c74" stroke-width="0.65" />
<circle cx="357.98" cy="625.01" r="1.4" fill="#3a9fd6" stroke="#1a4c74" stroke-width="0.65" />
<circle cx="355.83" cy="611.04" r="1.4" fill="#2f983a" stroke="#1a4f20" stroke-width="0.65" />
<circle cx="368.31" cy="601.27" r="1.4" fill="#3a9fd6" stroke="#1a4c74" stroke-width="0.65" />
<circle cx="369.67" cy="611.06" r="1.4" fill="#2f983a" stroke="#1a4f20" stroke-width="0.65" />
<circle cx="366.74" cy="600.49" r="1.4" fill="#2f983a" stroke="#1a4f20" stroke-width="0.65" />
<circle cx="358.97" cy="624.06" r="1.4" fill="#2f983a" stroke="#1a4f20" stroke-width="0.65" />
<circle cx="355.56" cy="607.84" r="1.4" fill="#3a9fd6" stroke="#1a4c74" stroke-width="0.65" />
<circle cx="366.68" cy="615.39" r="1.4" fill="#2f983a" stroke="#1a4f20" stroke-width="0.65" />
<circle cx="355.19" cy="625.47" r="1.4" fill="#3a9fd6" stroke="#1a4c74" stroke-width="0.65" />
<circle cx="357.57" cy="608.38" r="1.4" fill="#2f983a" stroke="#1a4f20" stroke-width="0.65" />
<circle cx="356.50" cy="614.41" r="1.4" fill="#2f983a" stroke="#1a4f20" stroke-width="0.65" />
<circle cx="368.71" cy="611.34" r="1.4" fill="#3a9fd6" stroke="#1a4c74" stroke-width="0.65" />
<circle cx="366.36" cy="611.70" r="1.4" fill="#2f983a" stroke="#1a4f20" stroke-width="0.65" />
<circle cx="355.59" cy="614.28" r="1.4" fill="#2f983a" stroke="#1a4f20" stroke-width="0.65" />
<circle cx="370.49" cy="604.96" r="1.4" fill="#3a9fd6" stroke="#1a4c74" stroke-width="0.65" />
<circle cx="365.63" cy="607.19" r="1.4" fill="#3a9fd6" stroke="#1a4c74" stroke-width="0.65" />
<circle cx="360.47" cy="609.01" r="1.4" fill="#3a9fd6" stroke="#1a4c74" stroke-width="0.65" />
<circle cx="360.98" cy="598.47" r="1.4" fill="#3a9fd6" stroke="#1a4c74" stroke-width="0.65" />
<circle cx="356.66" cy="617.89" r="1.4" fill="#2f983a" stroke="#1a4f20" stroke-width="0.65" />
<circle cx="358.03" cy="625.39" r="1.4" fill="#2f983a" stroke="#1a4f20" stroke-width="0.65" />
<circle cx="357.34" cy="621.33" r="1.4" fill="#3a9fd6" stroke="#1a4c74" stroke-width="0.65" />
<circle cx="363.87" cy="593.94" r="1.4" fill="#2f983a" stroke="#1a4f20" stroke-width="0.65" />
<circle cx="370.79" cy="608.70" r="1.4" fill="#2f983a" stroke="#1a4f20" stroke-width="0.65" />
<circle cx="363.06" cy="624.13" r="1.4" fill="#3a9fd6" stroke="#1a4c74" stroke-width="0.65" />
<circle cx="367.66" cy="604.92" r="1.4" fill="#2f983a" stroke="#1a4f20" stroke-width="0.65" />
<circle cx="354.35" cy="597.82" r="1.4" fill="#3a9fd6" stroke="#1a4c74" stroke-width="0.65" />
<circle cx="356.88" cy="607.38" r="1.4" fill="#2f983a" stroke="#1a4f20" stroke-width="0.65" />
<circle cx="362.15" cy="629.73" r="1.4" fill="#3a9fd6" stroke="#1a4c74" stroke-width="0.65" />
<circle cx="367.93" cy="613.61" r="1.4" fill="#2f983a" stroke="#1a4f20" stroke-width="0.65" />
<circle cx="352.58" cy="607.56" r="1.4" fill="#3a9fd6" stroke="#1a4c74" stroke-width="0.65" />
<circle cx="353.08" cy="629.47" r="1.4" fill="#3a9fd6" stroke="#1a4c74" stroke-width="0.65" />
<circle cx="363.79" cy="609.92" r="1.4" fill="#3a9fd6" stroke="#1a4c74" stroke-width="0.65" />
<circle cx="375.12" cy="604.90" r="1.4" fill="#3a9fd6" stroke="#1a4c74" stroke-width="0.65" />
<circle cx="369.79" cy="609.95" r="1.4" fill="#3a9fd6" stroke="#1a4c74" stroke-width="0.65" />
<circle cx="362.75" cy="602.56" r="1.4" fill="#3a9fd6" stroke="#1a4c74" stroke-width="0.65" />
<circle cx="378.33" cy="602.17" r="1.4" fill="#3a9fd6" stroke="#1a4c74" stroke-width="0.65" />
<circle cx="359.85" cy="619.02" r="1.4" fill="#2f983a" stroke="#1a4f20" stroke-width="0.65" />
<circle cx="361.22" cy="622.63" r="1.4" fill="#2f983a" stroke="#1a4f20" stroke-width="0.65" />
<circle cx="355.50" cy="607.37" r="1.4" fill="#2f983a" stroke="#1a4f20" stroke-width="0.65" />
<circle cx="347.45" cy="616.34" r="1.4" fill="#2f983a" stroke="#1a4f20" stroke-width="0.65" />
<circle cx="362.68" cy="600.83" r="1.4" fill="#3a9fd6" stroke="#1a4c74" stroke-width="0.65" />
<circle cx="377.46" cy="609.80" r="1.4" fill="#3a9fd6" stroke="#1a4c74" stroke-width="0.65" />
<circle cx="363.81" cy="596.79" r="1.4" fill="#3a9fd6" stroke="#1a4c74" stroke-width="0.65" />
<circle cx="360.33" cy="611.27" r="1.4" fill="#3a9fd6" stroke="#1a4c74" stroke-width="0.65" />
<circle cx="355.24" cy="617.14" r="1.4" fill="#3a9fd6" stroke="#1a4c74" stroke-width="0.65" />
<circle cx="349.04" cy="617.23" r="1.4" fill="#3a9fd6" stroke="#1a4c74" stroke-width="0.65" />
<circle cx="353.97" cy="617.97" r="1.4" fill="#2f983a" stroke="#1a4f20" stroke-width="0.65" />
<circle cx="363.98" cy="605.29" r="1.4" fill="#2f983a" stroke="#1a4f20" stroke-width="0.65" />
<circle cx="357.30" cy="608.28" r="1.4" fill="#3a9fd6" stroke="#1a4c74" stroke-width="0.65" />
<circle cx="365.67" cy="629.02" r="1.4" fill="#3a9fd6" stroke="#1a4c74" stroke-width="0.65" />
<circle cx="365.06" cy="596.76" r="1.4" fill="#3a9fd6" stroke="#1a4c74" stroke-width="0.65" />
<circle cx="370.05" cy="617.23" r="1.4" fill="#3a9fd6" stroke="#1a4c74" stroke-width="0.65" />
<circle cx="362.17" cy="615.02" r="1.4" fill="#3a9fd6" stroke="#1a4c74" stroke-width="0.65" />
<circle cx="357.84" cy="620.75" r="1.4" fill="#3a9fd6" stroke="#1a4c74" stroke-width="0.65" />
<circle cx="359.08" cy="613.94" r="1.4" fill="#2f983a" stroke="#1a4f20" stroke-width="0.65" />
<circle cx="354.71" cy="607.42" r="1.4" fill="#2f983a" stroke="#1a4f20" stroke-width="0.65" />
<circle cx="348.45" cy="622.91" r="1.4" fill="#3a9fd6" stroke="#1a4c74" stroke-width="0.65" />
<circle cx="359.15" cy="600.11" r="1.4" fill="#2f983a" stroke="#1a4f20" stroke-width="0.65" />
<circle cx="359.44" cy="623.07" r="1.4" fill="#3a9fd6" stroke="#1a4c74" stroke-width="0.65" />
<circle cx="377.69" cy="595.47" r="1.4" fill="#2f983a" stroke="#1a4f20" stroke-width="0.65" />
<circle cx="364.95" cy="609.14" r="1.4" fill="#2f983a" stroke="#1a4f20" stroke-width="0.65" />
<circle cx="352.75" cy="608.56" r="1.4" fill="#3a9fd6" stroke="#1a4c74" stroke-width="0.65" />
<circle cx="356.44" cy="615.01" r="1.4" fill="#2f983a" stroke="#1a4f20" stroke-width="0.65" />
<circle cx="367.94" cy="612.39" r="1.4" fill="#2f983a" stroke="#1a4f20" stroke-width="0.65" />
<circle cx="359.37" cy="599.57" r="1.4" fill="#2f983a" stroke="#1a4f20" stroke-width="0.65" />
<circle cx="361.41" cy="608.73" r="1.4" fill="#3a9fd6" stroke="#1a4c74" stroke-width="0.65" />
<circle cx="369.61" cy="608.51" r="1.4" fill="#3a9fd6" stroke="#1a4c74" stroke-width="0.65" />
<circle cx="356.72" cy="618.77" r="1.4" fill="#3a9fd6" stroke="#1a4c74" stroke-width="0.65" />
<circle cx="364.50" cy="613.88" r="1.4" fill="#3a9fd6" stroke="#1a4c74" stroke-width="0.65" />
<circle cx="365.88" cy="611.58" r="1.4" fill="#3a9fd6" stroke="#1a4c74" stroke-width="0.65" />
<circle cx="371.61" cy="606.43" r="1.4" fill="#2f983a" stroke="#1a4f20" stroke-width="0.65" />
<circle cx="371.53" cy="608.63" r="1.4" fill="#3a9fd6" stroke="#1a4c74" stroke-width="0.65" />
<circle cx="359.61" cy="612.51" r="1.4" fill="#3a9fd6" stroke="#1a4c74" stroke-width="0.65" />
<circle cx="359.22" cy="618.81" r="1.4" fill="#3a9fd6" stroke="#1a4c74" stroke-width="0.65" />
<circle cx="368.99" cy="611.47" r="1.4" fill="#3a9fd6" stroke="#1a4c74" stroke-width="0.65" />
<circle cx="361.85" cy="602.74" r="1.4" fill="#2f983a" stroke="#1a4f20" stroke-width="0.65" />
<circle cx="366.25" cy="608.32" r="1.4" fill="#2f983a" stroke="#1a4f20" stroke-width="0.65" />
<circle cx="356.66" cy="615.53" r="1.4" fill="#2f983a" stroke="#1a4f20" stroke-width="0.65" />
<circle cx="356.98" cy="603.86" r="1.4" fill="#3a9fd6" stroke="#1a4c74" stroke-width="0.65" />
<circle cx="359.72" cy="622.00" r="1.4" fill="#3a9fd6" stroke="#1a4c74" stroke-width="0.65" />
<circle cx="372.64" cy="609.56" r="1.4" fill="#2f983a" stroke="#1a4f20" stroke-width="0.65" />
<circle cx="353.85" cy="626.17" r="1.4" fill="#3a9fd6" stroke="#1a4c74" stroke-width="0.65" />
<circle cx="353.50" cy="615.08" r="1.4" fill="#2f983a" stroke="#1a4f20" stroke-width="0.65" />
<circle cx="368.36" cy="606.52" r="1.4" fill="#3a9fd6" stroke="#1a4c74" stroke-width="0.65" />
<circle cx="368.34" cy="627.55" r="1.4" fill="#3a9fd6" stroke="#1a4c74" stroke-width="0.65" />
<circle cx="360.83" cy="619.69" r="1.4" fill="#2f983a" stroke="#1a4f20" stroke-width="0.65" />
<circle cx="365.07" cy="612.32" r="1.4" fill="#3a9fd6" stroke="#1a4c74" stroke-width="0.65" />
<circle cx="352.46" cy="616.56" r="1.4" fill="#3a9fd6" stroke="#1a4c74" stroke-width="0.65" />
<circle cx="360.13" cy="608.61" r="1.4" fill="#2f983a" stroke="#1a4f20" stroke-width="0.65" />
<circle cx="347.49" cy="618.89" r="1.4" fill="#2f983a" stroke="#1a4f20" stroke-width="0.65" />
<circle cx="360.00" cy="599.41" r="1.4" fill="#3a9fd6" stroke="#1a4c74" stroke-width="0.65" />
<circle cx="354.92" cy="605.17" r="1.4" fill="#3a9fd6" stroke="#1a4c74" stroke-width="0.65" />
<circle cx="368.99" cy="621.74" r="1.4" fill="#3a9fd6" stroke="#1a4c74" stroke-width="0.65" />
<circle cx="367.70" cy="623.07" r="1.4" fill="#3a9fd6" stroke="#1a4c74" stroke-width="0.65" />
<circle cx="352.39" cy="608.25" r="1.4" fill="#3a9fd6" stroke="#1a4c74" stroke-width="0.65" />
<circle cx="364.03" cy="604.02" r="1.4" fill="#2f983a" stroke="#1a4f20" stroke-width="0.65" />
<circle cx="358.25" cy="613.61" r="1.4" fill="#2f983a" stroke="#1a4f20" stroke-width="0.65" />
<circle cx="364.88" cy="623.97" r="1.4" fill="#3a9fd6" stroke="#1a4c74" stroke-width="0.65" />
<circle cx="375.64" cy="612.34" r="1.4" fill="#3a9fd6" stroke="#1a4c74" stroke-width="0.65" />
<circle cx="352.24" cy="602.50" r="1.4" fill="#2f983a" stroke="#1a4f20" stroke-width="0.65" />
<circle cx="363.95" cy="597.09" r="1.4" fill="#2f983a" stroke="#1a4f20" stroke-width="0.65" />
<circle cx="358.29" cy="618.41" r="1.4" fill="#3a9fd6" stroke="#1a4c74" stroke-width="0.65" />
<circle cx="362.49" cy="612.52" r="1.4" fill="#3a9fd6" stroke="#1a4c74" stroke-width="0.65" />
<circle cx="353.11" cy="610.29" r="1.4" fill="#2f983a" stroke="#1a4f20" stroke-width="0.65" />
<circle cx="359.03" cy="595.53" r="1.4" fill="#3a9fd6" stroke="#1a4c74" stroke-width="0.65" />
<circle cx="363.96" cy="603.60" r="1.4" fill="#2f983a" stroke="#1a4f20" stroke-width="0.65" />
<circle cx="368.14" cy="610.07" r="1.4" fill="#3a9fd6" stroke="#1a4c74" stroke-width="0.65" />
<circle cx="347.30" cy="595.60" r="1.6" fill="#3b6b4a" stroke="#1a4f20" stroke-width="0.65" />
<circle cx="380.70" cy="596.10" r="1.6" fill="#4a7a6a" stroke="#1a4c74" stroke-width="0.65" />
<circle cx="366.30" cy="587.50" r="1.6" fill="#3b6b4a" stroke="#1a4f20" stroke-width="0.65" />
<circle cx="336.30" cy="626.70" r="2.0" fill="#173f6b" stroke="#0e2a48" stroke-width="0.65" />
<circle cx="338.70" cy="632.50" r="2.0" fill="#173f6b" stroke="#0e2a48" stroke-width="0.65" />
<circle cx="345.00" cy="630.70" r="1.9" fill="#f2c21b" stroke="#b48a10" stroke-width="0.65" />
<circle cx="346.10" cy="632.50" r="1.9" fill="#f2c21b" stroke="#b48a10" stroke-width="0.65" />
<circle cx="352.50" cy="630.70" r="1.9" fill="#f2c21b" stroke="#b48a10" stroke-width="0.65" />
<circle cx="362.30" cy="636.00" r="1.9" fill="#b4112e" stroke="#7d0a1f" stroke-width="0.65" />
<circle cx="366.30" cy="635.10" r="1.9" fill="#b4112e" stroke="#7d0a1f" stroke-width="0.65" />
<circle cx="400.90" cy="583.20" r="1.55" fill="#3a9fd6" stroke="#1a4c74" stroke-width="0.65" />
<text transform="translate(406.40 585.40) scale(1 1.12) translate(-406.40 -585.40)" x="406.4" y="585.40" font-size="6.4" fill="#333">CMV seronegative</text>
<circle cx="400.90" cy="593.20" r="1.55" fill="#2f983a" stroke="#1a4f20" stroke-width="0.65" />
<text transform="translate(406.40 595.40) scale(1 1.12) translate(-406.40 -595.40)" x="406.4" y="595.40" font-size="6.4" fill="#333">CMV seropositive</text>
<circle cx="400.90" cy="621.90" r="1.55" fill="#b4112e" stroke="#7d0a1f" stroke-width="0.65" />
<text transform="translate(406.40 624.10) scale(1 1.12) translate(-406.40 -624.10)" x="406.4" y="624.10" font-size="6.4" fill="#333">K562 with extreme FcεRγ<tspan font-size="4.2" dy="-2.5">−</tspan></text>
<circle cx="400.90" cy="632.30" r="1.55" fill="#f2c21b" stroke="#b48a10" stroke-width="0.65" />
<text transform="translate(406.40 634.50) scale(1 1.12) translate(-406.40 -634.50)" x="406.4" y="634.50" font-size="6.4" fill="#333">K562 with FcεRγ<tspan font-size="4.2" dy="-2.5">−</tspan></text>
<circle cx="400.90" cy="642.00" r="1.55" fill="#173f6b" stroke="#0e2a48" stroke-width="0.65" />
<text transform="translate(406.40 644.20) scale(1 1.12) translate(-406.40 -644.20)" x="406.4" y="644.20" font-size="6.4" fill="#333">anti-CD16/anti-CD3</text>
<text transform="translate(400.90 613.80) scale(1 1.12) translate(-400.90 -613.80)" x="400.9" y="613.8" font-size="5.4" text-anchor="middle" fill="#333">Δ</text>
<text transform="translate(406.40 614.10) scale(1 1.12) translate(-406.40 -614.10)" x="406.4" y="614.1" font-size="6.4" fill="#333">CD107a<tspan font-size="4.2" dy="-2.5">+</tspan><tspan dy="2.5"> low outliers</tspan></text>
</svg></body></html>
